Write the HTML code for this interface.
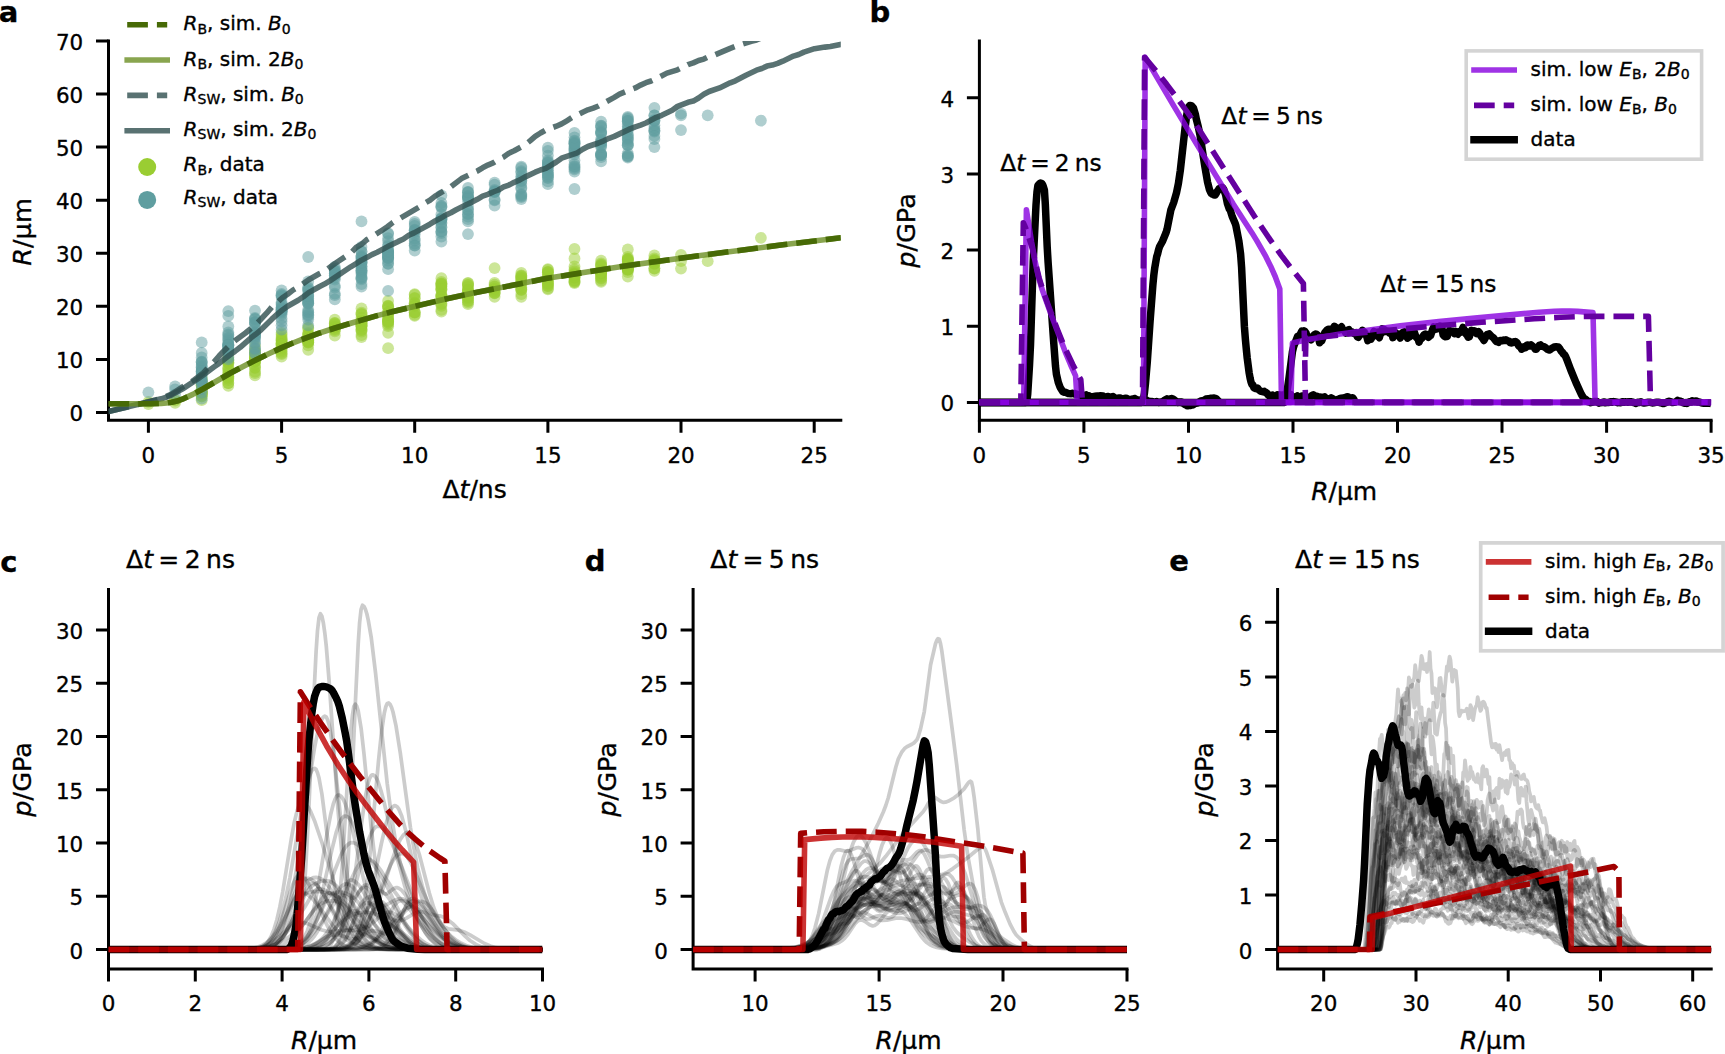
<!DOCTYPE html>
<html lang="en"><head><meta charset="utf-8"><title>Figure</title>
<style>html,body{margin:0;padding:0;background:#fff}svg{display:block}</style></head>
<body>
<svg width="1725" height="1054" viewBox="0 0 1725 1054" font-family='"DejaVu Sans","Liberation Sans",sans-serif' fill="#000">
<rect width="1725" height="1054" fill="#fff"/>
<clipPath id="cpa"><rect x="108.5" y="41" width="732.3" height="379.2"/></clipPath>
<path d="M108.5,41 V420.2 H840.8" fill="none" stroke="#000" stroke-width="3" stroke-linecap="square" stroke-linejoin="miter"/>
<path d="M148.4,420.2v12.5M281.6,420.2v12.5M414.7,420.2v12.5M547.9,420.2v12.5M681,420.2v12.5M814.2,420.2v12.5M108.5,412.4h-12.5M108.5,359.4h-12.5M108.5,306.3h-12.5M108.5,253.2h-12.5M108.5,200.2h-12.5M108.5,147.1h-12.5M108.5,94h-12.5M108.5,41h-12.5" stroke="#000" stroke-width="3" fill="none"/>
<text x="148.4" y="462.8" font-size="21.4" text-anchor="middle" stroke="#000" stroke-width="0.35">0</text>
<text x="281.6" y="462.8" font-size="21.4" text-anchor="middle" stroke="#000" stroke-width="0.35">5</text>
<text x="414.7" y="462.8" font-size="21.4" text-anchor="middle" stroke="#000" stroke-width="0.35">10</text>
<text x="547.9" y="462.8" font-size="21.4" text-anchor="middle" stroke="#000" stroke-width="0.35">15</text>
<text x="681" y="462.8" font-size="21.4" text-anchor="middle" stroke="#000" stroke-width="0.35">20</text>
<text x="814.2" y="462.8" font-size="21.4" text-anchor="middle" stroke="#000" stroke-width="0.35">25</text>
<text x="83.2" y="421.4" font-size="21.4" text-anchor="end" stroke="#000" stroke-width="0.35">0</text>
<text x="83.2" y="368.4" font-size="21.4" text-anchor="end" stroke="#000" stroke-width="0.35">10</text>
<text x="83.2" y="315.3" font-size="21.4" text-anchor="end" stroke="#000" stroke-width="0.35">20</text>
<text x="83.2" y="262.2" font-size="21.4" text-anchor="end" stroke="#000" stroke-width="0.35">30</text>
<text x="83.2" y="209.2" font-size="21.4" text-anchor="end" stroke="#000" stroke-width="0.35">40</text>
<text x="83.2" y="156.1" font-size="21.4" text-anchor="end" stroke="#000" stroke-width="0.35">50</text>
<text x="83.2" y="103" font-size="21.4" text-anchor="end" stroke="#000" stroke-width="0.35">60</text>
<text x="83.2" y="50" font-size="21.4" text-anchor="end" stroke="#000" stroke-width="0.35">70</text>
<text x="474.6" y="497.5" font-size="25" text-anchor="middle" stroke="#000" stroke-width="0.35">Δ<tspan font-style="italic">t</tspan>/ns</text>
<text x="31.2" y="232" font-size="25.6" text-anchor="middle" stroke="#000" stroke-width="0.35" transform="rotate(-90 31.2 232)"><tspan font-style="italic">R</tspan>/µm</text>
<g fill="#9acd32" fill-opacity="0.5" clip-path="url(#cpa)">
<circle cx="148.4" cy="404" r="5.9"/>
<circle cx="148.4" cy="401.8" r="5.9"/>
<circle cx="175.1" cy="402.9" r="5.9"/>
<circle cx="175.1" cy="400.7" r="5.9"/>
<circle cx="175.1" cy="399.7" r="5.9"/>
<circle cx="201.7" cy="400.2" r="5.9"/>
<circle cx="201.7" cy="396.3" r="5.9"/>
<circle cx="201.7" cy="385.4" r="5.9"/>
<circle cx="201.7" cy="385.8" r="5.9"/>
<circle cx="201.7" cy="395.2" r="5.9"/>
<circle cx="201.7" cy="391.5" r="5.9"/>
<circle cx="201.7" cy="384.5" r="5.9"/>
<circle cx="201.7" cy="392.7" r="5.9"/>
<circle cx="201.7" cy="391.3" r="5.9"/>
<circle cx="201.7" cy="379.6" r="5.9"/>
<circle cx="201.7" cy="396.4" r="5.9"/>
<circle cx="201.7" cy="393.7" r="5.9"/>
<circle cx="201.7" cy="393.1" r="5.9"/>
<circle cx="201.7" cy="394" r="5.9"/>
<circle cx="201.7" cy="383.5" r="5.9"/>
<circle cx="201.7" cy="381.7" r="5.9"/>
<circle cx="201.7" cy="381.8" r="5.9"/>
<circle cx="201.7" cy="392.4" r="5.9"/>
<circle cx="201.7" cy="389.5" r="5.9"/>
<circle cx="201.7" cy="378" r="5.9"/>
<circle cx="228.3" cy="385.9" r="5.9"/>
<circle cx="228.3" cy="383" r="5.9"/>
<circle cx="228.3" cy="360.7" r="5.9"/>
<circle cx="228.3" cy="380.1" r="5.9"/>
<circle cx="228.3" cy="375.9" r="5.9"/>
<circle cx="228.3" cy="363.5" r="5.9"/>
<circle cx="228.3" cy="362.5" r="5.9"/>
<circle cx="228.3" cy="362.6" r="5.9"/>
<circle cx="228.3" cy="359.7" r="5.9"/>
<circle cx="228.3" cy="383" r="5.9"/>
<circle cx="228.3" cy="370.1" r="5.9"/>
<circle cx="228.3" cy="373.8" r="5.9"/>
<circle cx="228.3" cy="372.4" r="5.9"/>
<circle cx="228.3" cy="378.3" r="5.9"/>
<circle cx="228.3" cy="367.5" r="5.9"/>
<circle cx="228.3" cy="376.3" r="5.9"/>
<circle cx="228.3" cy="368.5" r="5.9"/>
<circle cx="228.3" cy="377.2" r="5.9"/>
<circle cx="228.3" cy="360.7" r="5.9"/>
<circle cx="228.3" cy="356.7" r="5.9"/>
<circle cx="255" cy="375.3" r="5.9"/>
<circle cx="255" cy="358.5" r="5.9"/>
<circle cx="255" cy="358.6" r="5.9"/>
<circle cx="255" cy="357.2" r="5.9"/>
<circle cx="255" cy="360.1" r="5.9"/>
<circle cx="255" cy="350.6" r="5.9"/>
<circle cx="255" cy="364.8" r="5.9"/>
<circle cx="255" cy="360.7" r="5.9"/>
<circle cx="255" cy="367.5" r="5.9"/>
<circle cx="255" cy="373" r="5.9"/>
<circle cx="255" cy="356.6" r="5.9"/>
<circle cx="255" cy="371.7" r="5.9"/>
<circle cx="255" cy="361.4" r="5.9"/>
<circle cx="255" cy="354.1" r="5.9"/>
<circle cx="255" cy="351.7" r="5.9"/>
<circle cx="255" cy="357.3" r="5.9"/>
<circle cx="255" cy="351.8" r="5.9"/>
<circle cx="255" cy="354.8" r="5.9"/>
<circle cx="255" cy="361.7" r="5.9"/>
<circle cx="255" cy="361.3" r="5.9"/>
<circle cx="255" cy="367.8" r="5.9"/>
<circle cx="255" cy="346.1" r="5.9"/>
<circle cx="281.6" cy="356.7" r="5.9"/>
<circle cx="281.6" cy="338.7" r="5.9"/>
<circle cx="281.6" cy="343.2" r="5.9"/>
<circle cx="281.6" cy="342.6" r="5.9"/>
<circle cx="281.6" cy="345.5" r="5.9"/>
<circle cx="281.6" cy="340.8" r="5.9"/>
<circle cx="281.6" cy="347" r="5.9"/>
<circle cx="281.6" cy="340.7" r="5.9"/>
<circle cx="281.6" cy="354.2" r="5.9"/>
<circle cx="281.6" cy="343.6" r="5.9"/>
<circle cx="281.6" cy="336.9" r="5.9"/>
<circle cx="281.6" cy="353.2" r="5.9"/>
<circle cx="281.6" cy="334.7" r="5.9"/>
<circle cx="281.6" cy="348" r="5.9"/>
<circle cx="281.6" cy="344.6" r="5.9"/>
<circle cx="281.6" cy="339.5" r="5.9"/>
<circle cx="281.6" cy="344.7" r="5.9"/>
<circle cx="281.6" cy="351.6" r="5.9"/>
<circle cx="281.6" cy="349.9" r="5.9"/>
<circle cx="281.6" cy="332.8" r="5.9"/>
<circle cx="308.2" cy="349.8" r="5.9"/>
<circle cx="308.2" cy="335.1" r="5.9"/>
<circle cx="308.2" cy="340.8" r="5.9"/>
<circle cx="308.2" cy="342.1" r="5.9"/>
<circle cx="308.2" cy="338" r="5.9"/>
<circle cx="308.2" cy="342.6" r="5.9"/>
<circle cx="308.2" cy="328.5" r="5.9"/>
<circle cx="308.2" cy="337.7" r="5.9"/>
<circle cx="308.2" cy="345.3" r="5.9"/>
<circle cx="308.2" cy="340.5" r="5.9"/>
<circle cx="308.2" cy="342.3" r="5.9"/>
<circle cx="308.2" cy="339.3" r="5.9"/>
<circle cx="308.2" cy="341.4" r="5.9"/>
<circle cx="308.2" cy="340.4" r="5.9"/>
<circle cx="308.2" cy="334" r="5.9"/>
<circle cx="308.2" cy="333" r="5.9"/>
<circle cx="308.2" cy="334.9" r="5.9"/>
<circle cx="308.2" cy="327.5" r="5.9"/>
<circle cx="334.8" cy="335.5" r="5.9"/>
<circle cx="334.8" cy="323.8" r="5.9"/>
<circle cx="334.8" cy="326.8" r="5.9"/>
<circle cx="334.8" cy="331.3" r="5.9"/>
<circle cx="334.8" cy="329" r="5.9"/>
<circle cx="334.8" cy="323.1" r="5.9"/>
<circle cx="334.8" cy="327.8" r="5.9"/>
<circle cx="334.8" cy="326.6" r="5.9"/>
<circle cx="334.8" cy="325" r="5.9"/>
<circle cx="334.8" cy="322.9" r="5.9"/>
<circle cx="334.8" cy="330" r="5.9"/>
<circle cx="334.8" cy="319.6" r="5.9"/>
<circle cx="361.5" cy="337.1" r="5.9"/>
<circle cx="361.5" cy="321" r="5.9"/>
<circle cx="361.5" cy="326" r="5.9"/>
<circle cx="361.5" cy="321.4" r="5.9"/>
<circle cx="361.5" cy="323.6" r="5.9"/>
<circle cx="361.5" cy="317.7" r="5.9"/>
<circle cx="361.5" cy="313.8" r="5.9"/>
<circle cx="361.5" cy="325.7" r="5.9"/>
<circle cx="361.5" cy="314.5" r="5.9"/>
<circle cx="361.5" cy="330.1" r="5.9"/>
<circle cx="361.5" cy="328.8" r="5.9"/>
<circle cx="361.5" cy="323.5" r="5.9"/>
<circle cx="361.5" cy="326.6" r="5.9"/>
<circle cx="361.5" cy="335" r="5.9"/>
<circle cx="361.5" cy="324.8" r="5.9"/>
<circle cx="361.5" cy="321.2" r="5.9"/>
<circle cx="361.5" cy="329.8" r="5.9"/>
<circle cx="361.5" cy="312.6" r="5.9"/>
<circle cx="361.5" cy="325.7" r="5.9"/>
<circle cx="361.5" cy="331.6" r="5.9"/>
<circle cx="361.5" cy="323.2" r="5.9"/>
<circle cx="361.5" cy="308.4" r="5.9"/>
<circle cx="388.1" cy="332.8" r="5.9"/>
<circle cx="388.1" cy="321.2" r="5.9"/>
<circle cx="388.1" cy="319.6" r="5.9"/>
<circle cx="388.1" cy="306.3" r="5.9"/>
<circle cx="388.1" cy="316" r="5.9"/>
<circle cx="388.1" cy="317" r="5.9"/>
<circle cx="388.1" cy="324.6" r="5.9"/>
<circle cx="388.1" cy="306.2" r="5.9"/>
<circle cx="388.1" cy="312.7" r="5.9"/>
<circle cx="388.1" cy="305.7" r="5.9"/>
<circle cx="388.1" cy="319.7" r="5.9"/>
<circle cx="388.1" cy="326.2" r="5.9"/>
<circle cx="388.1" cy="322.9" r="5.9"/>
<circle cx="388.1" cy="320.8" r="5.9"/>
<circle cx="388.1" cy="322.4" r="5.9"/>
<circle cx="388.1" cy="321" r="5.9"/>
<circle cx="388.1" cy="314.3" r="5.9"/>
<circle cx="388.1" cy="308.2" r="5.9"/>
<circle cx="388.1" cy="312.4" r="5.9"/>
<circle cx="388.1" cy="301" r="5.9"/>
<circle cx="388.1" cy="348.2" r="5.9"/>
<circle cx="414.7" cy="315.9" r="5.9"/>
<circle cx="414.7" cy="303.5" r="5.9"/>
<circle cx="414.7" cy="305.8" r="5.9"/>
<circle cx="414.7" cy="312.6" r="5.9"/>
<circle cx="414.7" cy="305.4" r="5.9"/>
<circle cx="414.7" cy="312.4" r="5.9"/>
<circle cx="414.7" cy="312" r="5.9"/>
<circle cx="414.7" cy="303.6" r="5.9"/>
<circle cx="414.7" cy="297.9" r="5.9"/>
<circle cx="414.7" cy="302.7" r="5.9"/>
<circle cx="414.7" cy="298.4" r="5.9"/>
<circle cx="414.7" cy="314.8" r="5.9"/>
<circle cx="414.7" cy="294.8" r="5.9"/>
<circle cx="414.7" cy="294.1" r="5.9"/>
<circle cx="441.4" cy="311.6" r="5.9"/>
<circle cx="441.4" cy="283.8" r="5.9"/>
<circle cx="441.4" cy="286.3" r="5.9"/>
<circle cx="441.4" cy="305.8" r="5.9"/>
<circle cx="441.4" cy="284.9" r="5.9"/>
<circle cx="441.4" cy="303.4" r="5.9"/>
<circle cx="441.4" cy="296.4" r="5.9"/>
<circle cx="441.4" cy="295.9" r="5.9"/>
<circle cx="441.4" cy="289.4" r="5.9"/>
<circle cx="441.4" cy="289.1" r="5.9"/>
<circle cx="441.4" cy="304.1" r="5.9"/>
<circle cx="441.4" cy="289.9" r="5.9"/>
<circle cx="441.4" cy="282" r="5.9"/>
<circle cx="441.4" cy="283.4" r="5.9"/>
<circle cx="441.4" cy="287.7" r="5.9"/>
<circle cx="441.4" cy="295.2" r="5.9"/>
<circle cx="441.4" cy="284.1" r="5.9"/>
<circle cx="441.4" cy="294.3" r="5.9"/>
<circle cx="441.4" cy="309.9" r="5.9"/>
<circle cx="441.4" cy="297.2" r="5.9"/>
<circle cx="441.4" cy="299.9" r="5.9"/>
<circle cx="441.4" cy="278.2" r="5.9"/>
<circle cx="468" cy="304.2" r="5.9"/>
<circle cx="468" cy="289.6" r="5.9"/>
<circle cx="468" cy="296.2" r="5.9"/>
<circle cx="468" cy="286.8" r="5.9"/>
<circle cx="468" cy="291.9" r="5.9"/>
<circle cx="468" cy="290.3" r="5.9"/>
<circle cx="468" cy="291.6" r="5.9"/>
<circle cx="468" cy="285.1" r="5.9"/>
<circle cx="468" cy="297.7" r="5.9"/>
<circle cx="468" cy="284.9" r="5.9"/>
<circle cx="468" cy="302.6" r="5.9"/>
<circle cx="468" cy="300.6" r="5.9"/>
<circle cx="468" cy="289.7" r="5.9"/>
<circle cx="468" cy="298.5" r="5.9"/>
<circle cx="468" cy="301.1" r="5.9"/>
<circle cx="468" cy="296.7" r="5.9"/>
<circle cx="468" cy="283.5" r="5.9"/>
<circle cx="468" cy="283" r="5.9"/>
<circle cx="494.6" cy="296.8" r="5.9"/>
<circle cx="494.6" cy="292.9" r="5.9"/>
<circle cx="494.6" cy="289.8" r="5.9"/>
<circle cx="494.6" cy="286.4" r="5.9"/>
<circle cx="494.6" cy="284.7" r="5.9"/>
<circle cx="494.6" cy="288.9" r="5.9"/>
<circle cx="494.6" cy="291.3" r="5.9"/>
<circle cx="494.6" cy="288.6" r="5.9"/>
<circle cx="494.6" cy="292.8" r="5.9"/>
<circle cx="494.6" cy="293.4" r="5.9"/>
<circle cx="494.6" cy="286.9" r="5.9"/>
<circle cx="494.6" cy="283" r="5.9"/>
<circle cx="494.6" cy="268.1" r="5.9"/>
<circle cx="521.3" cy="296.8" r="5.9"/>
<circle cx="521.3" cy="277.8" r="5.9"/>
<circle cx="521.3" cy="289.1" r="5.9"/>
<circle cx="521.3" cy="289.8" r="5.9"/>
<circle cx="521.3" cy="294.1" r="5.9"/>
<circle cx="521.3" cy="289.9" r="5.9"/>
<circle cx="521.3" cy="276.6" r="5.9"/>
<circle cx="521.3" cy="279.9" r="5.9"/>
<circle cx="521.3" cy="278.1" r="5.9"/>
<circle cx="521.3" cy="282.6" r="5.9"/>
<circle cx="521.3" cy="280.2" r="5.9"/>
<circle cx="521.3" cy="275.5" r="5.9"/>
<circle cx="521.3" cy="284.8" r="5.9"/>
<circle cx="521.3" cy="287.5" r="5.9"/>
<circle cx="521.3" cy="275.9" r="5.9"/>
<circle cx="521.3" cy="272.9" r="5.9"/>
<circle cx="547.9" cy="289.3" r="5.9"/>
<circle cx="547.9" cy="285.8" r="5.9"/>
<circle cx="547.9" cy="281.1" r="5.9"/>
<circle cx="547.9" cy="272.3" r="5.9"/>
<circle cx="547.9" cy="272" r="5.9"/>
<circle cx="547.9" cy="278.4" r="5.9"/>
<circle cx="547.9" cy="277.1" r="5.9"/>
<circle cx="547.9" cy="272.2" r="5.9"/>
<circle cx="547.9" cy="283.4" r="5.9"/>
<circle cx="547.9" cy="281.2" r="5.9"/>
<circle cx="547.9" cy="269.8" r="5.9"/>
<circle cx="547.9" cy="284.5" r="5.9"/>
<circle cx="547.9" cy="283.2" r="5.9"/>
<circle cx="547.9" cy="276.9" r="5.9"/>
<circle cx="547.9" cy="274.2" r="5.9"/>
<circle cx="547.9" cy="288.4" r="5.9"/>
<circle cx="547.9" cy="286.1" r="5.9"/>
<circle cx="547.9" cy="269.2" r="5.9"/>
<circle cx="574.5" cy="283" r="5.9"/>
<circle cx="574.5" cy="278.1" r="5.9"/>
<circle cx="574.5" cy="281.9" r="5.9"/>
<circle cx="574.5" cy="269.4" r="5.9"/>
<circle cx="574.5" cy="274.8" r="5.9"/>
<circle cx="574.5" cy="280.8" r="5.9"/>
<circle cx="574.5" cy="272.8" r="5.9"/>
<circle cx="574.5" cy="274.3" r="5.9"/>
<circle cx="574.5" cy="273.9" r="5.9"/>
<circle cx="574.5" cy="277.3" r="5.9"/>
<circle cx="574.5" cy="282" r="5.9"/>
<circle cx="574.5" cy="276.2" r="5.9"/>
<circle cx="574.5" cy="275.1" r="5.9"/>
<circle cx="574.5" cy="280.1" r="5.9"/>
<circle cx="574.5" cy="271.5" r="5.9"/>
<circle cx="574.5" cy="274.7" r="5.9"/>
<circle cx="574.5" cy="277.1" r="5.9"/>
<circle cx="574.5" cy="266.5" r="5.9"/>
<circle cx="574.5" cy="258.5" r="5.9"/>
<circle cx="574.5" cy="249" r="5.9"/>
<circle cx="601.1" cy="281.9" r="5.9"/>
<circle cx="601.1" cy="265.2" r="5.9"/>
<circle cx="601.1" cy="273" r="5.9"/>
<circle cx="601.1" cy="263.5" r="5.9"/>
<circle cx="601.1" cy="275.9" r="5.9"/>
<circle cx="601.1" cy="270.3" r="5.9"/>
<circle cx="601.1" cy="280.5" r="5.9"/>
<circle cx="601.1" cy="272.6" r="5.9"/>
<circle cx="601.1" cy="276.7" r="5.9"/>
<circle cx="601.1" cy="277.9" r="5.9"/>
<circle cx="601.1" cy="278.7" r="5.9"/>
<circle cx="601.1" cy="272.3" r="5.9"/>
<circle cx="601.1" cy="264.7" r="5.9"/>
<circle cx="601.1" cy="273.4" r="5.9"/>
<circle cx="601.1" cy="266.5" r="5.9"/>
<circle cx="601.1" cy="273.2" r="5.9"/>
<circle cx="601.1" cy="272.5" r="5.9"/>
<circle cx="601.1" cy="260.7" r="5.9"/>
<circle cx="627.8" cy="276.6" r="5.9"/>
<circle cx="627.8" cy="267.9" r="5.9"/>
<circle cx="627.8" cy="267.7" r="5.9"/>
<circle cx="627.8" cy="261.2" r="5.9"/>
<circle cx="627.8" cy="263.1" r="5.9"/>
<circle cx="627.8" cy="264.1" r="5.9"/>
<circle cx="627.8" cy="260.6" r="5.9"/>
<circle cx="627.8" cy="272.1" r="5.9"/>
<circle cx="627.8" cy="259.5" r="5.9"/>
<circle cx="627.8" cy="270.2" r="5.9"/>
<circle cx="627.8" cy="267" r="5.9"/>
<circle cx="627.8" cy="269.4" r="5.9"/>
<circle cx="627.8" cy="260" r="5.9"/>
<circle cx="627.8" cy="268.3" r="5.9"/>
<circle cx="627.8" cy="258.9" r="5.9"/>
<circle cx="627.8" cy="269" r="5.9"/>
<circle cx="627.8" cy="269.3" r="5.9"/>
<circle cx="627.8" cy="269" r="5.9"/>
<circle cx="627.8" cy="258.7" r="5.9"/>
<circle cx="627.8" cy="257" r="5.9"/>
<circle cx="627.8" cy="249.5" r="5.9"/>
<circle cx="654.4" cy="270.8" r="5.9"/>
<circle cx="654.4" cy="268.3" r="5.9"/>
<circle cx="654.4" cy="263.9" r="5.9"/>
<circle cx="654.4" cy="258.4" r="5.9"/>
<circle cx="654.4" cy="263.7" r="5.9"/>
<circle cx="654.4" cy="260.5" r="5.9"/>
<circle cx="654.4" cy="261.4" r="5.9"/>
<circle cx="654.4" cy="268.5" r="5.9"/>
<circle cx="654.4" cy="261" r="5.9"/>
<circle cx="654.4" cy="260" r="5.9"/>
<circle cx="654.4" cy="262.9" r="5.9"/>
<circle cx="654.4" cy="255.4" r="5.9"/>
<circle cx="681" cy="254.8" r="5.9"/>
<circle cx="681" cy="261.2" r="5.9"/>
<circle cx="681" cy="268.6" r="5.9"/>
<circle cx="707.7" cy="261.2" r="5.9"/>
<circle cx="760.9" cy="237.8" r="5.9"/>
</g>
<g fill="#5f9ea0" fill-opacity="0.5" clip-path="url(#cpa)">
<circle cx="148.4" cy="392.3" r="5.9"/>
<circle cx="175.1" cy="394.4" r="5.9"/>
<circle cx="175.1" cy="389.5" r="5.9"/>
<circle cx="175.1" cy="386.4" r="5.9"/>
<circle cx="201.7" cy="398.7" r="5.9"/>
<circle cx="201.7" cy="370.9" r="5.9"/>
<circle cx="201.7" cy="384.9" r="5.9"/>
<circle cx="201.7" cy="361.6" r="5.9"/>
<circle cx="201.7" cy="371" r="5.9"/>
<circle cx="201.7" cy="365" r="5.9"/>
<circle cx="201.7" cy="371.7" r="5.9"/>
<circle cx="201.7" cy="381.7" r="5.9"/>
<circle cx="201.7" cy="368.9" r="5.9"/>
<circle cx="201.7" cy="361.9" r="5.9"/>
<circle cx="201.7" cy="380.5" r="5.9"/>
<circle cx="201.7" cy="357.5" r="5.9"/>
<circle cx="201.7" cy="377.6" r="5.9"/>
<circle cx="201.7" cy="374.1" r="5.9"/>
<circle cx="201.7" cy="382.7" r="5.9"/>
<circle cx="201.7" cy="392.5" r="5.9"/>
<circle cx="201.7" cy="375.1" r="5.9"/>
<circle cx="201.7" cy="367.3" r="5.9"/>
<circle cx="201.7" cy="380.2" r="5.9"/>
<circle cx="201.7" cy="389.2" r="5.9"/>
<circle cx="201.7" cy="382.1" r="5.9"/>
<circle cx="201.7" cy="366.7" r="5.9"/>
<circle cx="201.7" cy="362.6" r="5.9"/>
<circle cx="201.7" cy="371.4" r="5.9"/>
<circle cx="201.7" cy="372.9" r="5.9"/>
<circle cx="201.7" cy="353" r="5.9"/>
<circle cx="201.7" cy="342.4" r="5.9"/>
<circle cx="228.3" cy="359.4" r="5.9"/>
<circle cx="228.3" cy="334.4" r="5.9"/>
<circle cx="228.3" cy="345" r="5.9"/>
<circle cx="228.3" cy="350.4" r="5.9"/>
<circle cx="228.3" cy="351.9" r="5.9"/>
<circle cx="228.3" cy="338.9" r="5.9"/>
<circle cx="228.3" cy="352.6" r="5.9"/>
<circle cx="228.3" cy="342.9" r="5.9"/>
<circle cx="228.3" cy="347.9" r="5.9"/>
<circle cx="228.3" cy="340.8" r="5.9"/>
<circle cx="228.3" cy="337.7" r="5.9"/>
<circle cx="228.3" cy="332.5" r="5.9"/>
<circle cx="228.3" cy="335.5" r="5.9"/>
<circle cx="228.3" cy="346.8" r="5.9"/>
<circle cx="228.3" cy="344.6" r="5.9"/>
<circle cx="228.3" cy="344.9" r="5.9"/>
<circle cx="228.3" cy="345.2" r="5.9"/>
<circle cx="228.3" cy="345.5" r="5.9"/>
<circle cx="228.3" cy="349.5" r="5.9"/>
<circle cx="228.3" cy="347.8" r="5.9"/>
<circle cx="228.3" cy="357.5" r="5.9"/>
<circle cx="228.3" cy="326.5" r="5.9"/>
<circle cx="228.3" cy="315.9" r="5.9"/>
<circle cx="228.3" cy="311.1" r="5.9"/>
<circle cx="255" cy="354.1" r="5.9"/>
<circle cx="255" cy="339" r="5.9"/>
<circle cx="255" cy="332.7" r="5.9"/>
<circle cx="255" cy="335.2" r="5.9"/>
<circle cx="255" cy="317.9" r="5.9"/>
<circle cx="255" cy="319" r="5.9"/>
<circle cx="255" cy="348.2" r="5.9"/>
<circle cx="255" cy="322.8" r="5.9"/>
<circle cx="255" cy="349" r="5.9"/>
<circle cx="255" cy="336.4" r="5.9"/>
<circle cx="255" cy="332.2" r="5.9"/>
<circle cx="255" cy="324.3" r="5.9"/>
<circle cx="255" cy="352.6" r="5.9"/>
<circle cx="255" cy="337.5" r="5.9"/>
<circle cx="255" cy="319.1" r="5.9"/>
<circle cx="255" cy="321.9" r="5.9"/>
<circle cx="255" cy="332.6" r="5.9"/>
<circle cx="255" cy="343.7" r="5.9"/>
<circle cx="255" cy="322.5" r="5.9"/>
<circle cx="255" cy="333.3" r="5.9"/>
<circle cx="255" cy="329.2" r="5.9"/>
<circle cx="255" cy="334.3" r="5.9"/>
<circle cx="255" cy="342.1" r="5.9"/>
<circle cx="255" cy="310.6" r="5.9"/>
<circle cx="281.6" cy="329.7" r="5.9"/>
<circle cx="281.6" cy="311.2" r="5.9"/>
<circle cx="281.6" cy="302.2" r="5.9"/>
<circle cx="281.6" cy="310" r="5.9"/>
<circle cx="281.6" cy="307.8" r="5.9"/>
<circle cx="281.6" cy="321.4" r="5.9"/>
<circle cx="281.6" cy="318.4" r="5.9"/>
<circle cx="281.6" cy="295.2" r="5.9"/>
<circle cx="281.6" cy="310.7" r="5.9"/>
<circle cx="281.6" cy="308.9" r="5.9"/>
<circle cx="281.6" cy="295.4" r="5.9"/>
<circle cx="281.6" cy="304.9" r="5.9"/>
<circle cx="281.6" cy="325.3" r="5.9"/>
<circle cx="281.6" cy="296.9" r="5.9"/>
<circle cx="281.6" cy="314.6" r="5.9"/>
<circle cx="281.6" cy="312.8" r="5.9"/>
<circle cx="281.6" cy="293.9" r="5.9"/>
<circle cx="281.6" cy="303.8" r="5.9"/>
<circle cx="281.6" cy="309.4" r="5.9"/>
<circle cx="281.6" cy="311.5" r="5.9"/>
<circle cx="281.6" cy="307.2" r="5.9"/>
<circle cx="281.6" cy="290.4" r="5.9"/>
<circle cx="308.2" cy="316.9" r="5.9"/>
<circle cx="308.2" cy="289.8" r="5.9"/>
<circle cx="308.2" cy="290.7" r="5.9"/>
<circle cx="308.2" cy="294.7" r="5.9"/>
<circle cx="308.2" cy="312.4" r="5.9"/>
<circle cx="308.2" cy="302.7" r="5.9"/>
<circle cx="308.2" cy="300.1" r="5.9"/>
<circle cx="308.2" cy="298.5" r="5.9"/>
<circle cx="308.2" cy="303.3" r="5.9"/>
<circle cx="308.2" cy="303.8" r="5.9"/>
<circle cx="308.2" cy="311.9" r="5.9"/>
<circle cx="308.2" cy="315.3" r="5.9"/>
<circle cx="308.2" cy="314.5" r="5.9"/>
<circle cx="308.2" cy="301" r="5.9"/>
<circle cx="308.2" cy="288.4" r="5.9"/>
<circle cx="308.2" cy="302.8" r="5.9"/>
<circle cx="308.2" cy="295.7" r="5.9"/>
<circle cx="308.2" cy="309.6" r="5.9"/>
<circle cx="308.2" cy="296" r="5.9"/>
<circle cx="308.2" cy="287.2" r="5.9"/>
<circle cx="308.2" cy="281.4" r="5.9"/>
<circle cx="308.2" cy="257" r="5.9"/>
<circle cx="308.2" cy="325.4" r="5.9"/>
<circle cx="308.2" cy="319.6" r="5.9"/>
<circle cx="334.8" cy="299.4" r="5.9"/>
<circle cx="334.8" cy="285.8" r="5.9"/>
<circle cx="334.8" cy="271.7" r="5.9"/>
<circle cx="334.8" cy="275.3" r="5.9"/>
<circle cx="334.8" cy="293.7" r="5.9"/>
<circle cx="334.8" cy="273.6" r="5.9"/>
<circle cx="334.8" cy="271" r="5.9"/>
<circle cx="334.8" cy="279.6" r="5.9"/>
<circle cx="334.8" cy="273.5" r="5.9"/>
<circle cx="334.8" cy="270.5" r="5.9"/>
<circle cx="334.8" cy="287.5" r="5.9"/>
<circle cx="334.8" cy="275.8" r="5.9"/>
<circle cx="334.8" cy="277.9" r="5.9"/>
<circle cx="334.8" cy="295.2" r="5.9"/>
<circle cx="334.8" cy="268.6" r="5.9"/>
<circle cx="334.8" cy="267" r="5.9"/>
<circle cx="361.5" cy="286.7" r="5.9"/>
<circle cx="361.5" cy="270.5" r="5.9"/>
<circle cx="361.5" cy="278.2" r="5.9"/>
<circle cx="361.5" cy="274.1" r="5.9"/>
<circle cx="361.5" cy="266.2" r="5.9"/>
<circle cx="361.5" cy="266.4" r="5.9"/>
<circle cx="361.5" cy="279.3" r="5.9"/>
<circle cx="361.5" cy="257.1" r="5.9"/>
<circle cx="361.5" cy="255.7" r="5.9"/>
<circle cx="361.5" cy="262.9" r="5.9"/>
<circle cx="361.5" cy="257" r="5.9"/>
<circle cx="361.5" cy="270.9" r="5.9"/>
<circle cx="361.5" cy="272.5" r="5.9"/>
<circle cx="361.5" cy="270.4" r="5.9"/>
<circle cx="361.5" cy="261.4" r="5.9"/>
<circle cx="361.5" cy="276.7" r="5.9"/>
<circle cx="361.5" cy="260.1" r="5.9"/>
<circle cx="361.5" cy="251.4" r="5.9"/>
<circle cx="361.5" cy="268.3" r="5.9"/>
<circle cx="361.5" cy="251.7" r="5.9"/>
<circle cx="361.5" cy="262.8" r="5.9"/>
<circle cx="361.5" cy="284.1" r="5.9"/>
<circle cx="361.5" cy="262.5" r="5.9"/>
<circle cx="361.5" cy="258.3" r="5.9"/>
<circle cx="361.5" cy="277.8" r="5.9"/>
<circle cx="361.5" cy="246.9" r="5.9"/>
<circle cx="361.5" cy="221.4" r="5.9"/>
<circle cx="388.1" cy="269.2" r="5.9"/>
<circle cx="388.1" cy="252.4" r="5.9"/>
<circle cx="388.1" cy="249.6" r="5.9"/>
<circle cx="388.1" cy="241.1" r="5.9"/>
<circle cx="388.1" cy="251.9" r="5.9"/>
<circle cx="388.1" cy="252.6" r="5.9"/>
<circle cx="388.1" cy="244.8" r="5.9"/>
<circle cx="388.1" cy="258.3" r="5.9"/>
<circle cx="388.1" cy="263.9" r="5.9"/>
<circle cx="388.1" cy="255.3" r="5.9"/>
<circle cx="388.1" cy="251.1" r="5.9"/>
<circle cx="388.1" cy="256.7" r="5.9"/>
<circle cx="388.1" cy="257.5" r="5.9"/>
<circle cx="388.1" cy="253.5" r="5.9"/>
<circle cx="388.1" cy="238.2" r="5.9"/>
<circle cx="388.1" cy="257.6" r="5.9"/>
<circle cx="388.1" cy="246.3" r="5.9"/>
<circle cx="388.1" cy="260.7" r="5.9"/>
<circle cx="388.1" cy="257.8" r="5.9"/>
<circle cx="388.1" cy="233.8" r="5.9"/>
<circle cx="388.1" cy="263.5" r="5.9"/>
<circle cx="388.1" cy="254.4" r="5.9"/>
<circle cx="388.1" cy="250.9" r="5.9"/>
<circle cx="388.1" cy="233.1" r="5.9"/>
<circle cx="388.1" cy="290.9" r="5.9"/>
<circle cx="414.7" cy="250.6" r="5.9"/>
<circle cx="414.7" cy="224" r="5.9"/>
<circle cx="414.7" cy="229.7" r="5.9"/>
<circle cx="414.7" cy="225.9" r="5.9"/>
<circle cx="414.7" cy="238.7" r="5.9"/>
<circle cx="414.7" cy="240.5" r="5.9"/>
<circle cx="414.7" cy="230.3" r="5.9"/>
<circle cx="414.7" cy="245.3" r="5.9"/>
<circle cx="414.7" cy="232.1" r="5.9"/>
<circle cx="414.7" cy="230.3" r="5.9"/>
<circle cx="414.7" cy="243.5" r="5.9"/>
<circle cx="414.7" cy="245.7" r="5.9"/>
<circle cx="414.7" cy="234.6" r="5.9"/>
<circle cx="414.7" cy="221.9" r="5.9"/>
<circle cx="441.4" cy="241.6" r="5.9"/>
<circle cx="441.4" cy="207.3" r="5.9"/>
<circle cx="441.4" cy="218.6" r="5.9"/>
<circle cx="441.4" cy="206" r="5.9"/>
<circle cx="441.4" cy="218.9" r="5.9"/>
<circle cx="441.4" cy="223.6" r="5.9"/>
<circle cx="441.4" cy="236.5" r="5.9"/>
<circle cx="441.4" cy="219.5" r="5.9"/>
<circle cx="441.4" cy="214.4" r="5.9"/>
<circle cx="441.4" cy="231.4" r="5.9"/>
<circle cx="441.4" cy="219.9" r="5.9"/>
<circle cx="441.4" cy="227" r="5.9"/>
<circle cx="441.4" cy="217.9" r="5.9"/>
<circle cx="441.4" cy="231.7" r="5.9"/>
<circle cx="441.4" cy="233" r="5.9"/>
<circle cx="441.4" cy="206.5" r="5.9"/>
<circle cx="441.4" cy="202.9" r="5.9"/>
<circle cx="441.4" cy="222.6" r="5.9"/>
<circle cx="441.4" cy="227.5" r="5.9"/>
<circle cx="441.4" cy="195.4" r="5.9"/>
<circle cx="468" cy="221.4" r="5.9"/>
<circle cx="468" cy="213.8" r="5.9"/>
<circle cx="468" cy="196" r="5.9"/>
<circle cx="468" cy="198" r="5.9"/>
<circle cx="468" cy="197.5" r="5.9"/>
<circle cx="468" cy="210" r="5.9"/>
<circle cx="468" cy="197.9" r="5.9"/>
<circle cx="468" cy="196.3" r="5.9"/>
<circle cx="468" cy="214.2" r="5.9"/>
<circle cx="468" cy="201.3" r="5.9"/>
<circle cx="468" cy="206.3" r="5.9"/>
<circle cx="468" cy="192.2" r="5.9"/>
<circle cx="468" cy="191.9" r="5.9"/>
<circle cx="468" cy="219.2" r="5.9"/>
<circle cx="468" cy="192.3" r="5.9"/>
<circle cx="468" cy="216.5" r="5.9"/>
<circle cx="468" cy="209.6" r="5.9"/>
<circle cx="468" cy="188" r="5.9"/>
<circle cx="468" cy="234.1" r="5.9"/>
<circle cx="494.6" cy="205.5" r="5.9"/>
<circle cx="494.6" cy="190.9" r="5.9"/>
<circle cx="494.6" cy="199.5" r="5.9"/>
<circle cx="494.6" cy="191.6" r="5.9"/>
<circle cx="494.6" cy="184.7" r="5.9"/>
<circle cx="494.6" cy="192.2" r="5.9"/>
<circle cx="494.6" cy="200.3" r="5.9"/>
<circle cx="494.6" cy="191.8" r="5.9"/>
<circle cx="494.6" cy="189.8" r="5.9"/>
<circle cx="494.6" cy="182.7" r="5.9"/>
<circle cx="521.3" cy="199.1" r="5.9"/>
<circle cx="521.3" cy="197.1" r="5.9"/>
<circle cx="521.3" cy="194.1" r="5.9"/>
<circle cx="521.3" cy="183.9" r="5.9"/>
<circle cx="521.3" cy="188.6" r="5.9"/>
<circle cx="521.3" cy="178.2" r="5.9"/>
<circle cx="521.3" cy="196.1" r="5.9"/>
<circle cx="521.3" cy="172.5" r="5.9"/>
<circle cx="521.3" cy="168" r="5.9"/>
<circle cx="521.3" cy="171.2" r="5.9"/>
<circle cx="521.3" cy="176.2" r="5.9"/>
<circle cx="521.3" cy="187.5" r="5.9"/>
<circle cx="521.3" cy="195" r="5.9"/>
<circle cx="521.3" cy="180.5" r="5.9"/>
<circle cx="521.3" cy="181" r="5.9"/>
<circle cx="521.3" cy="166.7" r="5.9"/>
<circle cx="547.9" cy="184.2" r="5.9"/>
<circle cx="547.9" cy="178" r="5.9"/>
<circle cx="547.9" cy="161.7" r="5.9"/>
<circle cx="547.9" cy="166.1" r="5.9"/>
<circle cx="547.9" cy="165.7" r="5.9"/>
<circle cx="547.9" cy="168.5" r="5.9"/>
<circle cx="547.9" cy="170.3" r="5.9"/>
<circle cx="547.9" cy="165.1" r="5.9"/>
<circle cx="547.9" cy="162.9" r="5.9"/>
<circle cx="547.9" cy="172.5" r="5.9"/>
<circle cx="547.9" cy="160.3" r="5.9"/>
<circle cx="547.9" cy="174.7" r="5.9"/>
<circle cx="547.9" cy="150.8" r="5.9"/>
<circle cx="547.9" cy="155.6" r="5.9"/>
<circle cx="547.9" cy="177.5" r="5.9"/>
<circle cx="547.9" cy="162.8" r="5.9"/>
<circle cx="547.9" cy="181.4" r="5.9"/>
<circle cx="547.9" cy="173.9" r="5.9"/>
<circle cx="547.9" cy="176" r="5.9"/>
<circle cx="547.9" cy="147.6" r="5.9"/>
<circle cx="574.5" cy="171.5" r="5.9"/>
<circle cx="574.5" cy="142.7" r="5.9"/>
<circle cx="574.5" cy="140.7" r="5.9"/>
<circle cx="574.5" cy="152.2" r="5.9"/>
<circle cx="574.5" cy="166.9" r="5.9"/>
<circle cx="574.5" cy="141.5" r="5.9"/>
<circle cx="574.5" cy="154.3" r="5.9"/>
<circle cx="574.5" cy="149.8" r="5.9"/>
<circle cx="574.5" cy="150.5" r="5.9"/>
<circle cx="574.5" cy="147.7" r="5.9"/>
<circle cx="574.5" cy="144" r="5.9"/>
<circle cx="574.5" cy="148.8" r="5.9"/>
<circle cx="574.5" cy="146.5" r="5.9"/>
<circle cx="574.5" cy="143.2" r="5.9"/>
<circle cx="574.5" cy="160.3" r="5.9"/>
<circle cx="574.5" cy="144.1" r="5.9"/>
<circle cx="574.5" cy="137.3" r="5.9"/>
<circle cx="574.5" cy="169.4" r="5.9"/>
<circle cx="574.5" cy="168.1" r="5.9"/>
<circle cx="574.5" cy="166.1" r="5.9"/>
<circle cx="574.5" cy="164.2" r="5.9"/>
<circle cx="574.5" cy="132.8" r="5.9"/>
<circle cx="574.5" cy="189" r="5.9"/>
<circle cx="601.1" cy="161.4" r="5.9"/>
<circle cx="601.1" cy="153.8" r="5.9"/>
<circle cx="601.1" cy="157.2" r="5.9"/>
<circle cx="601.1" cy="155.1" r="5.9"/>
<circle cx="601.1" cy="155" r="5.9"/>
<circle cx="601.1" cy="142.5" r="5.9"/>
<circle cx="601.1" cy="125.7" r="5.9"/>
<circle cx="601.1" cy="145.3" r="5.9"/>
<circle cx="601.1" cy="154.7" r="5.9"/>
<circle cx="601.1" cy="153.5" r="5.9"/>
<circle cx="601.1" cy="145.1" r="5.9"/>
<circle cx="601.1" cy="142.8" r="5.9"/>
<circle cx="601.1" cy="139.3" r="5.9"/>
<circle cx="601.1" cy="147" r="5.9"/>
<circle cx="601.1" cy="131.2" r="5.9"/>
<circle cx="601.1" cy="133.6" r="5.9"/>
<circle cx="601.1" cy="132.8" r="5.9"/>
<circle cx="601.1" cy="125.9" r="5.9"/>
<circle cx="601.1" cy="132.4" r="5.9"/>
<circle cx="601.1" cy="127.2" r="5.9"/>
<circle cx="601.1" cy="141.5" r="5.9"/>
<circle cx="601.1" cy="121.6" r="5.9"/>
<circle cx="627.8" cy="157.7" r="5.9"/>
<circle cx="627.8" cy="121.2" r="5.9"/>
<circle cx="627.8" cy="124.8" r="5.9"/>
<circle cx="627.8" cy="156.1" r="5.9"/>
<circle cx="627.8" cy="119" r="5.9"/>
<circle cx="627.8" cy="128.8" r="5.9"/>
<circle cx="627.8" cy="145.2" r="5.9"/>
<circle cx="627.8" cy="153.3" r="5.9"/>
<circle cx="627.8" cy="156.6" r="5.9"/>
<circle cx="627.8" cy="139.8" r="5.9"/>
<circle cx="627.8" cy="144.5" r="5.9"/>
<circle cx="627.8" cy="135.2" r="5.9"/>
<circle cx="627.8" cy="134.6" r="5.9"/>
<circle cx="627.8" cy="138.4" r="5.9"/>
<circle cx="627.8" cy="142" r="5.9"/>
<circle cx="627.8" cy="137.6" r="5.9"/>
<circle cx="627.8" cy="117.9" r="5.9"/>
<circle cx="627.8" cy="145.2" r="5.9"/>
<circle cx="627.8" cy="155.5" r="5.9"/>
<circle cx="627.8" cy="126.6" r="5.9"/>
<circle cx="627.8" cy="121" r="5.9"/>
<circle cx="627.8" cy="130.4" r="5.9"/>
<circle cx="627.8" cy="121" r="5.9"/>
<circle cx="627.8" cy="116.9" r="5.9"/>
<circle cx="654.4" cy="139.1" r="5.9"/>
<circle cx="654.4" cy="131.6" r="5.9"/>
<circle cx="654.4" cy="120" r="5.9"/>
<circle cx="654.4" cy="128.2" r="5.9"/>
<circle cx="654.4" cy="130.6" r="5.9"/>
<circle cx="654.4" cy="130.4" r="5.9"/>
<circle cx="654.4" cy="120.6" r="5.9"/>
<circle cx="654.4" cy="120.9" r="5.9"/>
<circle cx="654.4" cy="135.9" r="5.9"/>
<circle cx="654.4" cy="115.5" r="5.9"/>
<circle cx="654.4" cy="125.2" r="5.9"/>
<circle cx="654.4" cy="115.3" r="5.9"/>
<circle cx="654.4" cy="147.1" r="5.9"/>
<circle cx="654.4" cy="107.8" r="5.9"/>
<circle cx="681" cy="115.3" r="5.9"/>
<circle cx="681" cy="113.7" r="5.9"/>
<circle cx="681" cy="130.1" r="5.9"/>
<circle cx="707.7" cy="115.3" r="5.9"/>
<circle cx="760.9" cy="120.6" r="5.9"/>
</g>
<path d="M108.5,411.4 119,409.1 134.8,405.3 155.9,399.9 161.2,398.3 166.5,396.4 171.7,394 187.5,383.9 192.8,380.9 203.3,372.9 208.6,367.3 213.9,362.1 219.1,356 224.4,350.4 229.7,345.2 234.9,340.8 245.5,333 256,324.4 266.6,313.2 271.8,307.1 277.1,302.7 282.4,297.7 287.6,294.2 292.9,290.1 298.2,287.1 303.4,283.5 308.7,279.7 319.2,273.8 324.5,271.3 335,263.5 350.8,253 356.1,247.5 361.4,244.3 366.6,239.8 371.9,236.8 382.5,230 387.7,226.5 393,222.4 419.3,207.1 424.6,203.2 429.9,200.2 435.1,196.1 450.9,186.8 461.5,178.6 472,173.4 477.3,171 482.6,167.8 487.8,165.1 493.1,162.9 498.4,159.6 503.6,157.1 508.9,153.2 514.2,150.8 524.7,145 530,140.9 535.2,136.4 540.5,133 545.8,130 556.3,126.2 561.6,123.9 566.8,120.8 572.1,117.5 582.7,112.2 587.9,109.8 593.2,108.1 598.5,106 614.3,97.4 619.5,94.2 630.1,89.8 635.3,87.9 640.6,85.1 645.9,82.7 651.1,81 656.4,78.7 666.9,73.1 677.5,69.8 688,64.6 693.3,62.9 698.6,60.5 703.8,59.1 709.1,56.5 714.4,55.1 730.2,48.4 735.4,46.4 751.2,41.4 756.5,40 761.8,37.7 767,34.5 772.3,32.2 788.1,26.8 793.4,24.4 798.7,22.7 803.9,20.7 809.2,19.2 819.7,16.6 830.3,12 835.5,10.1 840.8,8.9" fill="none" stroke="#2f4f4f" stroke-width="5.6" stroke-dasharray="20.7 9" stroke-opacity="0.8" stroke-linecap="butt" stroke-linejoin="round" clip-path="url(#cpa)"/>
<path d="M108.5,411.4 161.2,398.8 166.5,397.1 171.7,394.9 182.3,389.1 198.1,378.6 203.3,374.9 213.9,367 219.1,363.4 229.7,355 234.9,351.4 240.2,347.3 250.7,338.1 256,334.1 261.3,329.6 271.8,319.2 277.1,314.4 282.4,310 287.6,306.2 298.2,300.2 303.4,296.7 308.7,292.6 319.2,286.7 324.5,284.1 329.8,280.9 350.8,266.8 356.1,263.7 361.4,260.2 366.6,257.6 371.9,254.6 377.2,252.3 387.7,246.6 398.3,241.4 403.5,239 408.8,235.3 414.1,232.9 429.9,224.2 435.1,221 440.4,218.3 445.7,215.1 450.9,212.8 456.2,209.8 466.7,204.5 472,202.1 477.3,199.3 482.6,196.1 487.8,194.4 493.1,192 498.4,190 503.6,186.9 508.9,185.1 514.2,182.3 519.4,180.2 524.7,177.1 535.2,172.2 540.5,170 545.8,168.4 556.3,162 561.6,158.2 577.4,152.8 582.7,149.2 587.9,146.5 598.5,143 603.7,140.8 609,138.3 614.3,136.4 630.1,128.9 635.3,126.8 640.6,125.1 645.9,123 656.4,117.3 661.7,115.3 672.2,110.2 677.5,106.4 688,102.3 693.3,101.1 698.6,98 703.8,94.3 709.1,91.5 719.6,87.9 730.2,82.8 735.4,80.8 746,75.2 756.5,70.2 761.8,68.5 767,66.1 772.3,65.1 777.6,63.4 782.8,61.2 793.4,56.1 798.7,54.5 803.9,52.1 814.5,48.7 825,47.1 830.3,46.5 840.8,44.5" fill="none" stroke="#2f4f4f" stroke-width="5.6" stroke-opacity="0.8" stroke-linecap="square" stroke-linejoin="round" clip-path="url(#cpa)"/>
<path d="M108.5,403.7 150.6,403.7 161.2,403.4 166.5,403 171.7,402.2 177,401.1 182.3,399.2 192.8,394.4 203.3,388.7 229.7,373.5 245.5,365.2 266.6,354.7 282.4,347.4 292.9,343 303.4,338.9 319.2,333.2 335,328 350.8,323.2 377.2,315.6 393,311.5 445.7,299 472,293.3 545.8,278.6 624.8,265.9 698.6,255.7 782.8,244.8 840.8,237.8" fill="none" stroke="#6b8e23" stroke-width="5.6" stroke-opacity="0.8" stroke-linecap="square" stroke-linejoin="round" clip-path="url(#cpa)"/>
<path d="M108.5,403.7 150.6,403.7 161.2,403.4 166.5,403 171.7,402.2 177,401.1 182.3,399.2 192.8,394.4 203.3,388.7 229.7,373.5 245.5,365.2 266.6,354.7 282.4,347.4 292.9,343 303.4,338.9 319.2,333.2 335,328 350.8,323.2 377.2,315.6 393,311.5 445.7,299 472,293.3 545.8,278.6 624.8,265.9 698.6,255.7 782.8,244.8 840.8,237.8" fill="none" stroke="#476a06" stroke-width="5.6" stroke-dasharray="20.7 9" stroke-linecap="butt" stroke-linejoin="round" clip-path="url(#cpa)"/>
<path d="M127.2,24.7H167.2" stroke="#476a06" stroke-width="5.6" stroke-dasharray="20.7 9"/>
<path d="M127.2,60H167.2" stroke="#6b8e23" stroke-opacity="0.8" stroke-width="5.6" stroke-linecap="square"/>
<path d="M127.2,95.4H167.2" stroke="#2f4f4f" stroke-opacity="0.8" stroke-width="5.6" stroke-dasharray="20.7 9"/>
<path d="M127.2,130.8H167.2" stroke="#2f4f4f" stroke-opacity="0.8" stroke-width="5.6" stroke-linecap="square"/>
<circle cx="147.2" cy="167" r="9" fill="#9acd32"/>
<circle cx="147.2" cy="199.9" r="9" fill="#5f9ea0"/>
<text x="183.6" y="30.3" font-size="20" text-anchor="start" stroke="#000" stroke-width="0.35"><tspan font-style="italic">R</tspan><tspan font-size="14" dy="3.20">B</tspan><tspan dy="-3.20">, sim. </tspan><tspan font-style="italic">B</tspan><tspan font-size="14" dy="3.20">0</tspan></text>
<text x="183.6" y="65.6" font-size="20" text-anchor="start" stroke="#000" stroke-width="0.35"><tspan font-style="italic">R</tspan><tspan font-size="14" dy="3.20">B</tspan><tspan dy="-3.20">, sim. 2</tspan><tspan font-style="italic">B</tspan><tspan font-size="14" dy="3.20">0</tspan></text>
<text x="183.6" y="100.9" font-size="20" text-anchor="start" stroke="#000" stroke-width="0.35"><tspan font-style="italic">R</tspan><tspan font-size="14" dy="3.20">SW</tspan><tspan dy="-3.20">, sim. </tspan><tspan font-style="italic">B</tspan><tspan font-size="14" dy="3.20">0</tspan></text>
<text x="183.6" y="136.2" font-size="20" text-anchor="start" stroke="#000" stroke-width="0.35"><tspan font-style="italic">R</tspan><tspan font-size="14" dy="3.20">SW</tspan><tspan dy="-3.20">, sim. 2</tspan><tspan font-style="italic">B</tspan><tspan font-size="14" dy="3.20">0</tspan></text>
<text x="183.6" y="171.4" font-size="20" text-anchor="start" stroke="#000" stroke-width="0.35"><tspan font-style="italic">R</tspan><tspan font-size="14" dy="3.20">B</tspan><tspan dy="-3.20">, data</tspan></text>
<text x="183.6" y="203.9" font-size="20" text-anchor="start" stroke="#000" stroke-width="0.35"><tspan font-style="italic">R</tspan><tspan font-size="14" dy="3.20">SW</tspan><tspan dy="-3.20">, data</tspan></text>
<text x="-1.3" y="22.3" font-size="29" text-anchor="start" stroke="#000" stroke-width="0.35" font-weight="bold">a</text>
<clipPath id="cpb"><rect x="979.4" y="40.9" width="731.7" height="379.3"/></clipPath>
<path d="M979.4,40.9 V420.2 H1711.1" fill="none" stroke="#000" stroke-width="3" stroke-linecap="square" stroke-linejoin="miter"/>
<path d="M979.4,420.2v12.5M1083.9,420.2v12.5M1188.5,420.2v12.5M1293,420.2v12.5M1397.5,420.2v12.5M1502,420.2v12.5M1606.6,420.2v12.5M1711.1,420.2v12.5M979.4,402.4h-12.5M979.4,326.3h-12.5M979.4,250.1h-12.5M979.4,173.9h-12.5M979.4,97.8h-12.5" stroke="#000" stroke-width="3" fill="none"/>
<text x="979.4" y="462.7" font-size="21.4" text-anchor="middle" stroke="#000" stroke-width="0.35">0</text>
<text x="1083.9" y="462.7" font-size="21.4" text-anchor="middle" stroke="#000" stroke-width="0.35">5</text>
<text x="1188.5" y="462.7" font-size="21.4" text-anchor="middle" stroke="#000" stroke-width="0.35">10</text>
<text x="1293" y="462.7" font-size="21.4" text-anchor="middle" stroke="#000" stroke-width="0.35">15</text>
<text x="1397.5" y="462.7" font-size="21.4" text-anchor="middle" stroke="#000" stroke-width="0.35">20</text>
<text x="1502" y="462.7" font-size="21.4" text-anchor="middle" stroke="#000" stroke-width="0.35">25</text>
<text x="1606.6" y="462.7" font-size="21.4" text-anchor="middle" stroke="#000" stroke-width="0.35">30</text>
<text x="1711.1" y="462.7" font-size="21.4" text-anchor="middle" stroke="#000" stroke-width="0.35">35</text>
<text x="954.1" y="411.4" font-size="21.4" text-anchor="end" stroke="#000" stroke-width="0.35">0</text>
<text x="954.1" y="335.3" font-size="21.4" text-anchor="end" stroke="#000" stroke-width="0.35">1</text>
<text x="954.1" y="259.1" font-size="21.4" text-anchor="end" stroke="#000" stroke-width="0.35">2</text>
<text x="954.1" y="182.9" font-size="21.4" text-anchor="end" stroke="#000" stroke-width="0.35">3</text>
<text x="954.1" y="106.8" font-size="21.4" text-anchor="end" stroke="#000" stroke-width="0.35">4</text>
<text x="1344.2" y="499.5" font-size="25" text-anchor="middle" stroke="#000" stroke-width="0.35"><tspan font-style="italic">R</tspan>/µm</text>
<text x="915.3" y="230.5" font-size="25.6" text-anchor="middle" stroke="#000" stroke-width="0.35" transform="rotate(-90 915.3 230.5)"><tspan font-style="italic">p</tspan>/GPa</text>
<path d="M979.4,402.4 1025.8,402.4 1026.7,401.9 1027.7,394.3 1029.5,365.2 1030.5,345.1 1033.2,261.8 1036,205 1037,191.7 1037.9,185.5 1039.7,183.5 1040.7,183.1 1041.6,183.3 1042.5,184.5 1043.4,186.7 1044.4,190.1 1045.3,203.8 1047.2,246.9 1048.1,262.2 1053.7,342.2 1055.5,366.2 1056.4,374.1 1058.3,382.4 1060.2,387.5 1062.9,391.7 1063.9,392.2 1065.7,392.3 1068.5,393.6 1071.3,393.8 1072.2,393.3 1073.2,393.4 1074.1,393.9 1075,393.6 1076.9,394.8 1077.8,394.2 1079.7,395.3 1080.6,395.3 1081.5,396 1082.4,396.1 1083.4,395.7 1084.3,395.7 1086.1,394.9 1087.1,395.7 1088,395.6 1088.9,395.9 1089.9,396.8 1091.7,397 1095.4,396.3 1096.4,396.4 1097.3,396 1099.1,396.1 1100.1,395.7 1102.9,396 1103.8,396.9 1104.7,397.2 1106.6,397.2 1107.5,396.5 1108.4,396.5 1109.4,397.2 1110.3,396.9 1112.1,397.5 1113.1,396.7 1114.9,398.2 1115.9,398.1 1116.8,398.7 1118.6,398.1 1120.5,398.1 1121.4,398.7 1122.3,398.8 1123.3,398.8 1125.1,398.2 1126.1,398.2 1128.8,399.6 1129.8,399.5 1130.7,399.8 1132.6,398.9 1133.5,399.1 1134.4,398.4 1135.3,398.7 1136.3,399.8 1137.2,399.7 1139.1,400.6 1140,400 1141.8,400.2 1142.8,400 1143.7,399.5 1145.6,400.2 1146.5,400.1 1147.4,401.3 1148.3,401.4 1149.3,401.3 1150.2,402.1 1151.1,401.7 1152.1,401.5 1153,401.9 1154.8,402.3 1156.7,401.6 1157.6,402.2 1158.6,402.4 1159.5,402.3 1161.3,402 1162.3,401.5 1163.2,401.5 1165,400 1166.9,398.9 1167.8,399.5 1171.5,398.6 1172.5,398.7 1173.4,399.2 1177.1,402.1 1178,402.4 1179,401.9 1179.9,402 1181.8,401.9 1182.7,403.1 1183.6,402.9 1184.5,404.2 1185.5,404.8 1186.4,404.6 1187.3,405.8 1189.2,405.2 1190.1,405.5 1192,404.6 1192.9,404.9 1194.8,403.6 1196.6,403.1 1197.5,403 1201.3,400.8 1202.2,401.1 1203.1,400.9 1205.9,399.1 1208.7,398.8 1210.5,398.2 1212.4,398.3 1214.2,398.1 1216.1,398.6 1219.8,402.5" fill="none" stroke="#000" stroke-width="7.5" stroke-linecap="butt" stroke-linejoin="round" clip-path="url(#cpb)"/>
<path d="M979.4,402.4 1140.7,402.4 1141.6,402.4 1142.6,401.1 1143.5,398.7 1144.4,393.4 1145.4,384.2 1147.3,361.9 1150.1,320.9 1152.9,284.8 1153.9,274.4 1154.8,267.6 1156.7,256.6 1157.6,253.8 1158.6,249.6 1159.5,246.8 1162.4,241.5 1166.1,232.5 1167.1,229.1 1170.9,209.8 1173.7,202.5 1176.5,192.7 1178.4,183.5 1180.3,170.5 1185,128.3 1186.9,114 1187.8,109.5 1188.8,106.6 1189.7,105.5 1190.7,105.5 1191.6,105.8 1193.5,108.2 1195.4,114.4 1196.3,119 1198.2,126.4 1200.1,135.6 1204.8,166.2 1207.6,182.4 1209.5,189.7 1210.5,192 1211.4,193.5 1212.3,194.1 1213.3,194.1 1214.2,195 1215.2,194.9 1216.1,193.5 1217.1,191.5 1218,190.5 1219,188.8 1221.8,187.2 1222.7,187.8 1223.7,189.3 1225.6,194.8 1227.4,203.5 1229.3,208.9 1230.3,210.4 1232.2,216.5 1235,222.9 1235.9,225.7 1238.8,240.6 1240.6,254 1241.6,267.5 1244.4,326.8 1245.4,339.5 1246.3,349.1 1247.2,358 1249.1,372.6 1250.1,378.2 1251,382 1252,384.6 1252.9,385.1 1253.8,387.6 1254.8,388.4 1255.7,388.4 1256.7,388.8 1257.6,388.1 1258.6,389.6 1260.4,391 1261.4,391.4 1263.3,391.8 1264.2,391.3 1265.2,392.3 1266.1,392.5 1267.1,393.2 1268,394.8 1268.9,395.5 1269.9,395.7 1270.8,396.1 1271.8,396.2 1272.7,395.2 1273.7,396.2 1276.5,395.7 1277.4,394.8 1278.4,395.2 1279.3,394.7 1281.2,395.4 1282.1,395.1 1283.1,395 1284,395.4 1285,395.3 1285.9,394.5 1286.9,394.9 1287.8,393.4 1289.7,394.3 1290.6,394.5 1291.6,395.9 1293.5,396.8 1294.4,396.9 1295.3,397.3 1297.2,396 1298.2,397 1299.1,396.5 1301,397.8 1301.9,396.1 1304.8,396 1305.7,398 1306.7,398.1 1307.6,398.5 1308.5,398.4 1309.5,397.3 1310.4,397.1 1311.4,395.7 1313.3,394.7 1315.1,396 1316.1,396.2 1317,397.5 1318,396.6 1318.9,397.3 1319.9,398.4 1320.8,397.1 1322.7,397.5 1323.6,397.4 1324.6,396.9 1326.5,398.8 1327.4,399 1328.4,399.7 1329.3,399.6 1330.2,398.5 1331.2,397.8 1333.1,399 1334,400.2 1335,400.5 1335.9,401.3 1336.8,401.1 1337.8,399.4 1338.7,399.2 1339.7,398.5 1340.6,398.2 1341.6,398.4 1342.5,398 1343.4,398.4 1344.4,398.1 1345.3,397.4 1346.3,397.2 1347.2,396.8 1348.2,397 1349.1,398.5 1350,399.2 1351,398 1351.9,397.8 1352.9,398 1353.8,399.2 1354.8,401.6 1355.7,403.2" fill="none" stroke="#000" stroke-width="7.5" stroke-linecap="butt" stroke-linejoin="round" clip-path="url(#cpb)"/>
<path d="M979.4,402.4 1284,402.4 1285.1,402 1286.1,398 1289.2,376.6 1292.4,351.9 1293.4,347.6 1294.5,344.4 1297.6,336.4 1299.7,335.4 1301.8,331.1 1302.9,331.3 1303.9,330.7 1304.9,331.4 1306,332.9 1307,336.3 1308.1,336.3 1310.2,338.3 1311.2,339.7 1312.3,336.7 1313.3,336.6 1314.4,334.7 1315.4,334.1 1316.5,334.2 1317.5,335.1 1318.6,338 1319.6,342.8 1320.7,341.3 1321.7,341.1 1323.8,335.1 1324.8,332.6 1326.9,330.1 1328,329.4 1329,330.6 1330.1,329.3 1331.1,329.6 1332.2,329 1333.2,329.5 1334.3,326.3 1335.3,326.9 1336.4,328.7 1337.4,328.1 1338.4,329.8 1339.5,329.9 1340.5,327.9 1341.6,326.8 1342.6,329.7 1344.7,330.5 1345.8,333 1347.9,330.2 1348.9,329.7 1350,331.9 1351,331.8 1352.1,332 1354.1,333.5 1355.2,333.9 1356.2,332.6 1357.3,336.8 1358.3,337.4 1359.4,335.6 1360.4,332.4 1361.5,334 1362.5,330.3 1363.6,332.5 1364.6,332.8 1366.7,336.3 1367.8,340.6 1368.8,338.4 1369.8,339.3 1370.9,339.2 1371.9,337.2 1373,333.4 1374,331.5 1375.1,334.1 1377.2,336.2 1378.2,335.8 1379.3,337.7 1380.3,334 1381.4,333.3 1382.4,328.9 1383.5,330.5 1384.5,329.7 1385.6,331.4 1387.6,331.2 1388.7,331.8 1389.7,333.2 1390.8,333.3 1391.8,332.4 1392.9,337.7 1395,333.1 1396,333 1397.1,334.4 1398.1,334.1 1399.2,335.7 1400.2,338.1 1401.3,335.9 1402.3,333 1403.3,332.2 1404.4,331.8 1405.4,333.4 1406.5,336.1 1407.5,338.1 1408.6,337.2 1409.6,336.9 1410.7,332.7 1411.7,331.7 1412.8,332.8 1413.8,330.7 1415.9,336.8 1417,338.1 1418,338.6 1419,342.2 1420.1,339.6 1421.1,338.9 1422.2,337.8 1423.2,335.8 1424.3,334.5 1425.3,334 1426.4,334.3 1428.5,337.3 1429.5,335.9 1430.6,335.5 1432.7,329.1 1433.7,327 1434.7,329.6 1435.8,328.3 1436.8,328.8 1437.9,327.1 1438.9,327.9 1440,326.2 1441,328.3 1442.1,329.2 1443.1,334.9 1444.2,336.2 1445.2,336.7 1446.3,335 1447.3,336.3 1449.4,330.4 1450.5,331.1 1451.5,331.3 1452.5,331.2 1453.6,331.5 1454.6,333.6 1455.7,331.4 1456.7,333.5 1457.8,334.2 1458.8,331.8 1459.9,332.2 1460.9,332.3 1463,327.5 1464.1,330.2 1465.1,330.7 1466.2,334.2 1467.2,335.3 1468.2,337.2 1469.3,336.8 1471.4,330.4 1472.4,330.6 1473.5,331.9 1474.5,330.8 1475.6,331.3 1476.6,333.6 1477.7,333.1 1478.7,331.8 1479.8,333.1 1480.8,336 1482.9,338.7 1483.9,340.5 1487.1,334.5 1488.1,334.7 1489.2,333.9 1491.3,336.3 1493.4,337.8 1495.5,340.6 1496.5,341.6 1497.6,341.8 1498.6,342.4 1499.7,340.6 1500.7,340.4 1502.8,340.7 1503.8,340 1504.9,340.4 1505.9,339.9 1508,341 1509.1,341.2 1510.1,342.6 1511.2,342.9 1512.2,342.8 1513.3,341.9 1514.3,341.8 1515.4,341.5 1516.4,342.1 1517.4,343.4 1518.5,345.5 1519.5,346.5 1520.6,346.9 1521.6,349.2 1522.7,348.5 1523.7,346.9 1524.8,346.6 1525.8,347.5 1526.9,345.2 1527.9,345 1529,346 1530,346 1531.1,345 1534.2,347.4 1535.2,349.2 1536.3,349.2 1537.3,347.6 1538.4,346.9 1539.4,345.3 1540.5,344.9 1541.5,345.9 1542.6,346.5 1543.6,346.5 1545.7,347.8 1547.8,349.5 1548.8,350 1549.9,349.9 1552,348.2 1553,347.8 1554.1,347 1556.2,346.8 1557.2,347 1558.3,346.9 1559.3,348.1 1561.4,351.4 1562.5,352.5 1563.5,354.2 1564.6,354.7 1565.6,356.6 1566.6,358.9 1570.8,370 1576.1,382.9 1581.3,394.2 1583.4,397.7 1584.4,398.6 1585.5,399.1 1587.6,401.8 1589.7,401.6 1590.7,402.7 1592.8,402.2 1593.9,401.6 1594.9,401.7 1596,401.5 1597,401.6 1599.1,403.1 1600.1,402.7 1602.2,402.6 1603.3,402 1604.3,402.1 1605.4,402.8 1606.4,402.4 1608.5,402.6 1610.6,401.8 1611.7,402.3 1612.7,401.8 1613.7,401.6 1615.8,401.9 1617.9,402.7 1619,402.4 1620,402.7 1621.1,402.5 1622.1,401.8 1623.2,401.8 1624.2,402.2 1625.3,401.8 1626.3,401.9 1627.4,402.2 1629.5,401.8 1630.5,401.9 1631.5,401.7 1632.6,402.3 1634.7,402.7 1635.7,403.4 1636.8,403 1637.8,402.2 1639.9,402.5 1641,401.9 1643.1,403 1644.1,403 1648.3,402.3 1650.4,402.3 1652.5,402.9 1653.5,402.8 1654.6,402.5 1655.6,402.5 1656.7,402.2 1658.8,402.2 1659.8,402.7 1660.9,402.7 1662.9,403.5 1664,403.4 1665,402.9 1667.1,402.1 1668.2,401.4 1669.2,401.3 1670.3,401.6 1672.4,402.6 1675.5,402.1 1677.6,400.4 1678.6,401 1679.7,400.9 1680.7,401.3 1681.8,401.7 1682.8,402.7 1683.9,402.8 1684.9,403.3 1686,402.5 1687,403.3 1689.1,401.9 1690.2,401.6 1691.2,402 1692.3,400.8 1694.4,401.4 1695.4,401 1696.4,401 1697.5,402.1 1699.6,401.9 1701.7,403.1 1702.7,403 1703.8,403.3 1704.8,403.3 1705.9,402.9 1706.9,403.2 1708,403.2 1709,402.8 1710.1,403.3 1711.1,403.5" fill="none" stroke="#000" stroke-width="7.5" stroke-linecap="butt" stroke-linejoin="round" clip-path="url(#cpb)"/>
<path d="M979.4,402.4 1023.7,402.4 1026.4,209.7 1031.5,241.7 1034.9,260.3 1038.3,276.3 1041.7,288.3 1050.2,312.1 1065.4,352.3 1070.5,364.5 1075.6,375.8 1077.2,402.4 1711.1,402.4" fill="none" stroke="#8700de" stroke-width="5.6" stroke-opacity="0.8" stroke-linecap="square" stroke-linejoin="round" clip-path="url(#cpb)"/>
<path d="M979.4,402.4 1143.5,402.4 1145.2,57.4 1173,104.7 1196.2,143.4 1233.4,204.2 1252,232.9 1256.6,240.4 1261.2,248.3 1265.9,256.7 1270.5,265.9 1275.2,276.5 1279.8,289 1281.5,402.4 1711.1,402.4" fill="none" stroke="#8700de" stroke-width="5.6" stroke-opacity="0.8" stroke-linecap="square" stroke-linejoin="round" clip-path="url(#cpb)"/>
<path d="M979.4,402.4 1290.9,402.4 1292.4,343 1307.8,339.6 1315.5,338.2 1338.6,334.3 1369.4,329.9 1400.3,325.9 1438.8,321.6 1477.4,317.8 1539,312.2 1554.4,311.3 1562.1,311.1 1569.9,311.1 1577.6,311.4 1593,312.6 1595.1,402.4 1711.1,402.4" fill="none" stroke="#8700de" stroke-width="5.6" stroke-opacity="0.8" stroke-linecap="square" stroke-linejoin="round" clip-path="url(#cpb)"/>
<path d="M979.4,402.4 1020.8,402.4 1023.3,222.7 1025.3,227.2 1027.3,232.5 1031.2,244.8 1033.2,252.3 1037.2,270.3 1039.2,278.2 1043.1,290.9 1049.1,307.6 1057,328.4 1064.9,347.9 1072.9,364.8 1076.8,372.5 1080.8,379.6 1082.5,402.4 1711.1,402.4" fill="none" stroke="#6400a0" stroke-width="5.6" stroke-dasharray="20.7 9" stroke-linecap="butt" stroke-linejoin="round" clip-path="url(#cpb)"/>
<path d="M979.4,402.4 1142.5,402.4 1144.6,57.4 1155.5,70.4 1166.5,84.1 1177.4,98.6 1188.4,113.7 1199.3,129.8 1226.7,173 1254.1,215.7 1265.1,232.3 1270.6,240.3 1281.5,255.6 1292.5,270 1303.4,283.6 1305.5,402.4 1711.1,402.4" fill="none" stroke="#6400a0" stroke-width="5.6" stroke-dasharray="20.7 9" stroke-linecap="butt" stroke-linejoin="round" clip-path="url(#cpb)"/>
<path d="M1305.5,356.7 1305.9,338.5 1367.4,332.1 1437.7,325.8 1481.6,322.3 1534.2,318.8 1560.6,317.3 1578.1,316.6 1595.7,316.4 1648.4,316.4 1650.5,402.4 1711.1,402.4" fill="none" stroke="#6400a0" stroke-width="5.6" stroke-dasharray="20.7 9" stroke-linecap="butt" stroke-linejoin="round" clip-path="url(#cpb)"/>
<text x="1000.2" y="170.7" font-size="23.3" text-anchor="start" stroke="#000" stroke-width="0.35">Δ<tspan font-style="italic" dx="0.19">t</tspan> <tspan dx="-2.61">=</tspan> <tspan dx="-2.38">2</tspan> <tspan dx="-2.28">ns</tspan></text>
<text x="1221.3" y="124" font-size="23.3" text-anchor="start" stroke="#000" stroke-width="0.35">Δ<tspan font-style="italic" dx="0.19">t</tspan> <tspan dx="-2.61">=</tspan> <tspan dx="-2.38">5</tspan> <tspan dx="-2.28">ns</tspan></text>
<text x="1380.2" y="292.2" font-size="23.3" text-anchor="start" stroke="#000" stroke-width="0.35">Δ<tspan font-style="italic" dx="0.19">t</tspan> <tspan dx="-2.61">=</tspan> <tspan dx="-2.38">15</tspan> <tspan dx="-2.28">ns</tspan></text>
<rect x="1466.2" y="50.9" width="235.4" height="108.3" fill="#fff" stroke="#d4d4d4" stroke-width="3.6"/>
<path d="M1474,70H1514.2" stroke="#8700de" stroke-width="5.6" stroke-linecap="square" stroke-opacity="0.8"/>
<path d="M1474,105.4H1514.2" stroke="#6400a0" stroke-width="5.6" stroke-dasharray="20.7 9"/>
<path d="M1474,139.7H1514.2" stroke="#000" stroke-width="7.5" stroke-linecap="square"/>
<text x="1530.6" y="75.7" font-size="20" text-anchor="start" stroke="#000" stroke-width="0.35">sim. low <tspan font-style="italic">E</tspan><tspan font-size="14" dy="3.20">B</tspan><tspan dy="-3.20">, 2</tspan><tspan font-style="italic">B</tspan><tspan font-size="14" dy="3.20">0</tspan></text>
<text x="1530.6" y="111" font-size="20" text-anchor="start" stroke="#000" stroke-width="0.35">sim. low <tspan font-style="italic">E</tspan><tspan font-size="14" dy="3.20">B</tspan><tspan dy="-3.20">, </tspan><tspan font-style="italic">B</tspan><tspan font-size="14" dy="3.20">0</tspan></text>
<text x="1530.6" y="145.8" font-size="20" text-anchor="start" stroke="#000" stroke-width="0.35">data</text>
<text x="869.6" y="22.3" font-size="29" text-anchor="start" stroke="#000" stroke-width="0.35" font-weight="bold">b</text>
<clipPath id="cpc"><rect x="108.5" y="589.5" width="434" height="379.5"/></clipPath>
<path d="M108.5,589.5 V969 H542.5" fill="none" stroke="#000" stroke-width="3" stroke-linecap="square" stroke-linejoin="miter"/>
<path d="M108.5,969v12.5M195.3,969v12.5M282.1,969v12.5M368.9,969v12.5M455.7,969v12.5M542.5,969v12.5M108.5,949.5h-12.5M108.5,896.2h-12.5M108.5,843h-12.5M108.5,789.7h-12.5M108.5,736.4h-12.5M108.5,683.2h-12.5M108.5,629.9h-12.5" stroke="#000" stroke-width="3" fill="none"/>
<text x="108.5" y="1011.2" font-size="21.4" text-anchor="middle" stroke="#000" stroke-width="0.35">0</text>
<text x="195.3" y="1011.2" font-size="21.4" text-anchor="middle" stroke="#000" stroke-width="0.35">2</text>
<text x="282.1" y="1011.2" font-size="21.4" text-anchor="middle" stroke="#000" stroke-width="0.35">4</text>
<text x="368.9" y="1011.2" font-size="21.4" text-anchor="middle" stroke="#000" stroke-width="0.35">6</text>
<text x="455.7" y="1011.2" font-size="21.4" text-anchor="middle" stroke="#000" stroke-width="0.35">8</text>
<text x="542.5" y="1011.2" font-size="21.4" text-anchor="middle" stroke="#000" stroke-width="0.35">10</text>
<text x="83.2" y="958.5" font-size="21.4" text-anchor="end" stroke="#000" stroke-width="0.35">0</text>
<text x="83.2" y="905.2" font-size="21.4" text-anchor="end" stroke="#000" stroke-width="0.35">5</text>
<text x="83.2" y="852" font-size="21.4" text-anchor="end" stroke="#000" stroke-width="0.35">10</text>
<text x="83.2" y="798.7" font-size="21.4" text-anchor="end" stroke="#000" stroke-width="0.35">15</text>
<text x="83.2" y="745.4" font-size="21.4" text-anchor="end" stroke="#000" stroke-width="0.35">20</text>
<text x="83.2" y="692.2" font-size="21.4" text-anchor="end" stroke="#000" stroke-width="0.35">25</text>
<text x="83.2" y="638.9" font-size="21.4" text-anchor="end" stroke="#000" stroke-width="0.35">30</text>
<text x="324.1" y="1048.5" font-size="25" text-anchor="middle" stroke="#000" stroke-width="0.35"><tspan font-style="italic">R</tspan>/µm</text>
<text x="31.2" y="779.3" font-size="25.6" text-anchor="middle" stroke="#000" stroke-width="0.35" transform="rotate(-90 31.2 779.3)"><tspan font-style="italic">p</tspan>/GPa</text>
<g clip-path="url(#cpc)" fill="none" stroke="#000" stroke-opacity="0.2" stroke-width="3.75" stroke-linejoin="round">
<path d="M108.5,949.5 284.2,949.4 290,948.8 292.9,947.2 294.3,945.7 295.8,943.3 297.2,939.8 298.7,934.5 300.1,927.1 301.6,916.9 303,903.4 304.5,886 305.9,864.5 308.8,809.6 313.2,710 316.1,651.4 317.5,630.6 319,617.7 320.4,613.8 321.9,616.2 323.3,622.6 324.8,632.9 326.3,646.5 329.2,682 337.9,808.6 342.2,857 345.1,878.6 346.6,886.2 348,891.7 349.5,895.5 350.9,897.6 352.4,898.3 353.8,898 355.3,896.8 361.1,888.6 364,885.6 365.4,884.9 366.9,884.9 369.8,886.2 372.7,889.1 377.1,895.9 390.1,923.7 394.5,931.7 397.4,936.1 400.3,939.6 404.6,943.6 409,946.2 413.4,947.8 420.6,949 430.8,949.4 542.5,949.5"/>
<path d="M108.5,949.5 324.8,949.5 329.2,949.3 332.1,948.7 335,947.2 336.4,945.6 337.9,943.2 339.3,939.5 340.8,934.2 342.2,926.5 343.7,916.1 345.1,902.2 346.6,884.5 348,862.5 350.9,806.2 355.3,704 358.2,643.9 359.6,622.6 361.1,609.3 362.5,605.3 364,606.4 365.4,609.3 366.9,614 368.3,620.4 371.3,637.9 375.6,673.4 387.2,783.5 391.6,817.1 395.9,843.3 400.3,862.7 403.2,873.1 407.5,886.7 413.4,901.6 420.6,916.8 427.9,929.4 432.2,935.4 435.1,938.7 438,941.5 442.4,944.6 445.3,946.1 449.6,947.6 456.9,948.9 467.1,949.4 542.5,949.5"/>
<path d="M108.5,949.5 317.5,949.5 324.8,948.9 327.7,947.8 329.2,946.6 330.6,944.8 332.1,942.1 333.5,938.2 335,932.6 337.9,914.9 339.3,902 342.2,867.2 348,772.7 350.9,730.4 352.4,715.6 353.8,706.6 355.3,704.2 356.7,706.1 358.2,710.9 361.1,728.3 364,753.9 371.3,828.7 375.6,864.4 378.5,880.3 380,885.8 381.4,889.8 382.9,892.3 384.3,893.7 385.8,894 387.2,893.6 393,889 395.9,887.6 397.4,887.7 398.8,888.3 401.7,890.3 404.6,893.7 407.5,898.2 420.6,924.5 426.4,934.4 429.3,938.2 433.7,942.6 436.6,944.7 440.9,946.8 443.8,947.8 448.2,948.6 458.4,949.4 542.5,949.5"/>
<path d="M108.5,949.5 335,949.4 340.8,949.2 345.1,948.4 348,947.3 350.9,945.2 353.8,941.7 355.3,939.1 358.2,931.7 361.1,920.5 364,904.7 366.9,883.5 369.8,857.1 378.5,761 381.4,733.1 384.3,713 385.8,706.8 387.2,703.5 388.7,703 390.1,704.4 391.6,707.5 393,712 395.9,725.3 400.3,753 410.4,827.3 413.4,845.4 417.7,867.9 422.1,885.5 426.4,899.5 429.3,907 432.2,913.4 438,923.8 443.8,932 448.2,937 451.1,939.8 454,942.1 458.4,944.8 461.3,946.2 465.6,947.6 472.9,948.8 481.6,949.4 542.5,949.5"/>
<path d="M108.5,949.5 252.2,949.3 259.5,948.7 265.3,947.4 269.6,945.4 274,941.9 278.3,936.2 282.7,927.4 287.1,914.5 290,903.2 292.9,889.7 297.2,865.2 301.6,836.5 310.3,774.5 314.6,747.3 317.5,733 320.4,722.7 321.9,719.3 323.3,717.1 324.8,716.2 326.3,716.9 327.7,720 329.2,725.3 332.1,742.1 335,765.2 343.7,846.8 348,880.2 350.9,896.4 352.4,902.6 353.8,907.4 355.3,911.1 356.7,913.6 358.2,915.1 359.6,915.6 361.1,915.4 364,913.1 369.8,905.9 372.7,903.1 374.2,902.4 375.6,902.1 378.5,902.7 381.4,904.6 385.8,909.2 388.7,913.4 400.3,931.7 406.1,938.9 409,941.7 413.4,944.8 417.7,946.8 423.5,948.4 430.8,949.2 440.9,949.5 542.5,949.5"/>
<path d="M108.5,949.5 319,949.5 324.8,949.3 329.2,948.7 332.1,947.9 335,946.5 337.9,943.9 339.3,942.1 342.2,936.8 345.1,928.9 348,917.7 350.9,902.7 353.8,884 362.5,816.4 365.4,796.7 368.3,782.5 369.8,778 371.3,775.5 372.7,774.8 374.2,775.4 375.6,777 377.1,779.5 378.5,783 381.4,792.1 384.3,803.3 397.4,859 404.6,885.6 409,899 413.4,910.3 419.2,922.6 425,932.1 430.8,939.2 435.1,942.9 440.9,946.2 446.7,948 452.5,948.9 468.5,949.5 542.5,949.5"/>
<path d="M108.5,949.5 279.8,949.4 285.6,949.1 290,948.6 294.3,947.3 297.2,945.7 300.1,943.2 301.6,941.5 304.5,937 307.4,930.7 308.8,926.7 311.7,917 314.6,904.7 317.5,890.1 327.7,829.8 330.6,814.8 333.5,803.3 335,799.3 336.4,796.5 337.9,795.2 339.3,795.1 340.8,796 342.2,797.7 343.7,800.2 345.1,803.5 348,812.1 352.4,829 364,880.8 366.9,891.7 369.8,900.8 372.7,908 375.6,913.4 378.5,917.1 381.4,919.6 390.1,924.5 395.9,928.1 410.4,938.9 416.3,942.7 423.5,946.2 430.8,948.1 438,949 449.6,949.4 542.5,949.5"/>
<path d="M108.5,949.5 326.3,949.4 333.5,949.2 339.3,948.7 343.7,947.7 346.6,946.5 349.5,944.9 352.4,942.4 356.7,936.8 361.1,928.1 364,920.2 366.9,910.6 371.3,892.9 381.4,843.5 385.8,824.5 388.7,814.8 390.1,811.2 391.6,808.4 393,806.6 394.5,805.7 395.9,805.9 397.4,807 398.8,809.1 401.7,816 406.1,831.9 414.8,871.9 419.2,889.7 423.5,902.9 426.4,908.8 429.3,912.6 432.2,914.5 435.1,915.3 440.9,916.2 443.8,917.3 446.7,918.9 452.5,923.4 465.6,936.6 470,940.5 475.8,944.4 481.6,946.9 488.8,948.6 497.5,949.3 542.5,949.5"/>
<path d="M108.5,949.5 247.9,949.4 253.7,949.1 258,948.4 260.9,947.5 263.8,945.9 266.7,943.3 268.2,941.5 271.1,936.5 274,929.4 276.9,919.7 279.8,907.2 282.7,892 291.4,838.2 294.3,822.4 297.2,810.4 298.7,806.4 300.1,803.7 301.6,802.6 303,802.6 304.5,803.2 307.4,806 310.3,810.8 314.6,820.9 321.9,842.5 337.9,895.2 342.2,907.6 346.6,918.3 350.9,927.2 355.3,934.1 359.6,939.4 362.5,942.1 365.4,944.1 369.8,946.4 375.6,948.1 381.4,948.9 388.7,949.3 542.5,949.5"/>
<path d="M108.5,949.5 324.8,949.4 339.3,948.7 345.1,947.7 349.5,946.4 355.3,943.4 358.2,941.1 361.1,938.2 365.4,932.4 369.8,924.6 374.2,914.7 378.5,902.9 391.6,861.5 397.4,845.5 400.3,839.5 403.2,835.2 406.1,832.8 407.5,832.3 409,832.5 410.4,833.5 411.9,835.2 414.8,840.9 419.2,854 429.3,893 433.7,907.5 438,918.3 440.9,923.3 443.8,926.5 445.3,927.6 448.2,928.8 458.4,930.1 464.2,932 470,934.9 484.5,943.5 490.3,946 496.1,947.7 501.9,948.7 510.6,949.3 542.5,949.5"/>
<path d="M108.5,949.5 271.1,949.4 279.8,949.1 285.6,948.4 291.4,947.2 295.8,945.6 300.1,943.1 304.5,939.4 308.8,934.2 313.2,927.2 317.5,918.3 321.9,907.7 335,870 340.8,855.4 343.7,849.7 346.6,845.7 349.5,843.3 350.9,842.7 352.4,842.6 355.3,843.3 359.6,846.3 364,851.1 368.3,857 378.5,871.9 384.3,881.4 388.7,889.8 400.3,913.8 407.5,926.9 411.9,933.3 414.8,936.8 419.2,941.1 423.5,944.2 427.9,946.3 432.2,947.7 438,948.7 445.3,949.2 462.7,949.5 542.5,949.5"/>
<path d="M108.5,949.5 278.3,949.4 285.6,949.1 291.4,948.4 295.8,947.1 298.7,945.7 303,942.4 307.4,936.9 311.7,928.4 314.6,920.8 317.5,911.6 320.4,900.7 332.1,848.9 336.4,831.8 339.3,823.4 340.8,820.3 342.2,818 343.7,816.6 345.1,816.1 346.6,816.4 348,817.2 349.5,818.5 352.4,822.8 355.3,828.8 359.6,840.4 369.8,871.7 375.6,888.5 381.4,903.5 387.2,916.5 391.6,924.5 397.4,933 401.7,937.9 407.5,942.7 411.9,945.1 417.7,947.3 423.5,948.5 430.8,949.2 448.2,949.5 542.5,949.5"/>
<path d="M108.5,949.5 303,949.4 316.1,948.6 320.4,947.8 324.8,946.3 329.2,943.9 333.5,939.9 337.9,934 342.2,925.8 345.1,918.8 349.5,906.1 353.8,891.1 364,853.4 368.3,839.9 371.3,833.1 374.2,828.5 375.6,827 377.1,826.3 378.5,826.1 380,826.4 381.4,827.1 384.3,829.9 387.2,834.2 391.6,842.6 401.7,866.7 416.3,904.6 423.5,920.7 427.9,928.5 430.8,932.9 435.1,938.2 439.5,942.2 443.8,945 448.2,946.9 454,948.4 459.8,949 474.3,949.5 542.5,949.5"/>
<path d="M108.5,949.5 285.6,949.4 300.1,948.7 305.9,947.7 310.3,946.4 314.6,944.4 319,941.5 323.3,937.3 327.7,931.6 332.1,924.3 336.4,915.4 350.9,880.1 355.3,870.8 358.2,865.7 361.1,862 364,859.7 366.9,858.9 368.3,859.1 371.3,860.2 374.2,862.3 377.1,865.3 381.4,871.2 393,889.5 398.8,897.2 410.4,910.3 422.1,925.1 429.3,933.6 436.6,940.3 442.4,944.2 446.7,946.2 452.5,947.9 458.4,948.8 464.2,949.2 478.7,949.5 542.5,949.5"/>
<path d="M108.5,949.5 319,949.4 333.5,948.8 339.3,947.9 343.7,946.7 349.5,944.1 353.8,940.9 358.2,936.4 362.5,930.3 366.9,922.6 371.3,913.2 385.8,875.7 390.1,865.9 393,860.6 395.9,856.7 398.8,854.2 401.7,853.4 403.2,853.7 406.1,855.7 407.5,857.4 410.4,862 414.8,871.2 423.5,892.5 427.9,902.3 432.2,910.8 436.6,918.2 440.9,924.8 446.7,931.9 451.1,936.1 456.9,940.7 461.3,943.3 467.1,945.9 472.9,947.6 480.1,948.8 494.6,949.4 542.5,949.5"/>
<path d="M108.5,949.5 246.4,949.3 253.7,948.8 258,948.1 262.4,946.5 266.7,943.8 271.1,939.1 275.4,931.6 279.8,920.4 282.7,910.6 285.6,898.7 290,877.3 301.6,809.6 305.9,788.1 308.8,777.5 310.3,773.6 311.7,770.7 313.2,769 314.6,768.4 316.1,769.4 317.5,772.7 319,778 321.9,794 332.1,873.3 336.4,900.7 337.9,907.7 340.8,918.4 343.7,924.9 345.1,926.9 346.6,928.1 348,928.7 350.9,928.7 356.7,926.6 359.6,926 362.5,926.2 365.4,926.9 368.3,928.2 371.3,929.9 384.3,940 391.6,944.5 398.8,947.3 407.5,948.8 414.8,949.3 426.4,949.5 542.5,949.5"/>
<path d="M108.5,949.5 330.6,949.5 339.3,949.3 345.1,948.8 349.5,947.7 352.4,946.3 355.3,944.1 358.2,940.9 361.1,936.6 364,931.1 374.2,907.9 375.6,905.5 378.5,902.3 380,901.6 381.4,901.6 382.9,902.3 384.3,903.5 388.7,909 400.3,929.6 406.1,938.1 409,941.3 411.9,943.8 414.8,945.7 419.2,947.5 426.4,948.9 436.6,949.4 542.5,949.5"/>
<path d="M108.5,949.5 335,949.5 343.7,949.3 348,948.8 350.9,947.9 353.8,946.3 356.7,943.6 358.2,941.6 362.5,933.6 369.8,916.7 372.7,911.7 374.2,910.1 375.6,909.2 385.8,905.1 395.9,899.7 400.3,898.5 403.2,899 404.6,899.7 409,903.4 416.3,910.9 430.8,927.3 439.5,935.7 446.7,941 451.1,943.4 455.4,945.3 459.8,946.7 465.6,947.9 477.2,949.1 493.2,949.5 542.5,949.5"/>
<path d="M108.5,949.5 316.1,949.5 326.3,949.3 332.1,948.6 335,947.8 337.9,946.4 340.8,944.3 343.7,941.2 346.6,936.8 349.5,931.3 356.7,914.9 359.6,909.1 362.5,904.9 364,903.6 365.4,902.9 366.9,902.7 369.8,903.3 374.2,905.5 378.5,908.7 388.7,917.3 393,919.8 395.9,920.7 398.8,920.8 403.2,919.8 406.1,918.4 414.8,913.2 417.7,912 420.6,911.5 422.1,911.6 425,912.5 427.9,914.8 430.8,918.3 440.9,934.1 443.8,938.1 446.7,941.5 449.6,944.1 452.5,946 455.4,947.3 458.4,948.2 464.2,949.1 471.4,949.4 542.5,949.5"/>
<path d="M108.5,949.5 250.8,949.4 262.4,948.9 269.6,947.4 274,945.4 276.9,943.4 281.2,939.1 284.2,935.2 290,925 301.6,900.6 304.5,895.5 308.8,889.3 311.7,886.3 316.1,883.2 320.4,881.3 324.8,880.6 329.2,881.2 332.1,882.5 336.4,885.9 339.3,889.2 342.2,893.6 345.1,899.2 355.3,922.6 361.1,934 364,938.4 368.3,943.2 371.3,945.3 375.6,947.4 378.5,948.3 382.9,949 393,949.4 542.5,949.5"/>
<path d="M108.5,949.5 246.4,949.4 256.6,949 260.9,948.3 263.8,947.4 268.2,945.2 271.1,942.9 274,939.6 276.9,935.4 279.8,930 282.7,923.7 292.9,897.6 297.2,888.2 300.1,883.6 303,880.5 305.9,878.7 307.4,878.4 308.8,878.4 311.7,879.6 314.6,882 317.5,885.6 321.9,892.1 337.9,918.3 343.7,926.4 348,931.7 352.4,936.1 358.2,940.8 364,944.2 369.8,946.4 374.2,947.5 380,948.5 395.9,949.4 542.5,949.5"/>
<path d="M108.5,949.5 362.5,949.5 372.7,949.4 378.5,948.9 382.9,947.7 385.8,946.2 388.7,943.8 391.6,940.1 395.9,931.6 406.1,905 409,900.2 410.4,899 411.9,898.6 413.4,898.6 416.3,899.8 419.2,902.1 422.1,905.1 426.4,910.9 438,927.7 442.4,933.1 445.3,936.1 448.2,938.8 452.5,941.9 455.4,943.6 459.8,945.6 464.2,946.9 468.5,947.9 474.3,948.7 481.6,949.2 497.5,949.5 542.5,949.5"/>
<path d="M108.5,949.5 288.5,949.5 300.1,949.3 307.4,948.8 314.6,947.3 320.4,945 326.3,941.6 336.4,934.4 342.2,931.5 346.6,930.6 359.6,929.9 362.5,929.2 365.4,928.1 368.3,926.4 371.3,924.2 380,916.4 382.9,914.2 385.8,912.7 388.7,912.2 391.6,912.6 393,913.1 395.9,914.8 398.8,917.1 403.2,921.4 414.8,934.4 422.1,940.9 425,942.9 429.3,945.2 436.6,947.5 445.3,948.8 456.9,949.4 542.5,949.5"/>
<path d="M108.5,949.5 236.2,949.4 249.3,948.8 253.7,948.1 258,947 262.4,945.2 266.7,942.5 271.1,938.7 274,935.4 276.9,931.5 281.2,924.7 295.8,897.2 301.6,887.8 304.5,884.2 308.8,880.1 313.2,877.7 316.1,877.3 319,877.8 321.9,879.3 324.8,881.7 329.2,887.1 332.1,892.1 335,897.9 346.6,924.2 350.9,932.3 353.8,936.7 356.7,940.3 361.1,944.2 364,945.9 368.3,947.6 375.6,948.9 387.2,949.4 542.5,949.5"/>
<path d="M108.5,949.5 240.6,949.4 253.7,948.7 258,948 262.4,946.9 268.2,944.5 274,941 279.8,936.2 285.6,930.5 294.3,921.2 300.1,914.1 304.5,907.5 313.2,892.8 316.1,889.7 317.5,888.8 319,888.6 323.3,889.5 326.3,890.9 329.2,892.9 332.1,895.6 355.3,924.1 361.1,930.4 366.9,935.7 371.3,939.1 377.1,942.6 381.4,944.5 387.2,946.5 393,947.7 398.8,948.5 414.8,949.3 542.5,949.5"/>
<path d="M108.5,949.5 320.4,949.5 329.2,949.4 333.5,948.9 336.4,948.2 339.3,946.8 342.2,944.3 345.1,940.5 349.5,931.7 358.2,908.9 361.1,903.5 364,900.3 366.9,898 369.8,896.5 372.7,896.1 374.2,896.4 377.1,898 381.4,902.7 385.8,909.5 394.5,925.2 398.8,931.8 401.7,935.5 404.6,938.5 409,942.1 413.4,944.6 417.7,946.4 422.1,947.6 426.4,948.4 439.5,949.3 542.5,949.5"/>
<path d="M108.5,949.5 326.3,949.5 336.4,949.3 342.2,948.5 346.6,947.1 349.5,945.4 352.4,942.8 355.3,939 358.2,933.9 361.1,927.5 369.8,903.5 372.7,896.7 375.6,892.2 377.1,891.1 378.5,890.6 380,890.7 382.9,892.1 385.8,894.5 388.7,898 393,904.6 406.1,927 410.4,933.1 413.4,936.5 416.3,939.4 420.6,942.8 423.5,944.5 427.9,946.4 432.2,947.6 436.6,948.4 449.6,949.3 542.5,949.5"/>
<path d="M108.5,949.5 243.5,949.4 258,948.6 268.2,946.8 275.4,944.4 282.7,940.9 290,936.3 295.8,931.7 301.6,926.1 305.9,921 319,902.4 323.3,897 326.3,894.4 327.7,893.5 330.6,892.8 333.5,893.5 335,894.4 339.3,898.9 343.7,905.4 356.7,928.3 361.1,934.6 364,938.1 366.9,941 371.3,944.3 374.2,945.8 378.5,947.5 382.9,948.4 387.2,949 398.8,949.4 542.5,949.5"/>
<path d="M108.5,949.5 247.9,949.5 258,949.3 263.8,948.7 269.6,947.2 272.5,945.9 275.4,944.1 281.2,938.7 290,928.4 292.9,925.4 295.8,923.3 297.2,922.7 300.1,922.3 303,922.5 307.4,923.6 321.9,930 327.7,931.5 333.5,931.6 342.2,930.3 346.6,929.9 349.5,930.1 353.8,931 364,934.3 381.4,941.9 388.7,944.6 397.4,946.9 406.1,948.3 416.3,949.1 430.8,949.4 542.5,949.5"/>
<path d="M108.5,949.5 279.8,949.5 292.9,949.2 301.6,948.5 307.4,947.4 311.7,946 316.1,944 320.4,941.4 327.7,935.5 342.2,921.6 346.6,918.2 349.5,916.4 352.4,915 356.7,913.4 361.1,912.5 365.4,912.2 369.8,912.5 372.7,913.2 377.1,914.8 380,916.4 387.2,921.6 401.7,934.2 409,939.8 413.4,942.5 417.7,944.7 422.1,946.3 426.4,947.5 435.1,948.8 448.2,949.4 542.5,949.5"/>
<path d="M108.5,949.5 298.7,949.5 311.7,949 319,947.9 324.8,945.9 329.2,943.3 333.5,939.4 336.4,936 339.3,931.8 343.7,924.1 353.8,901.7 358.2,893.2 361.1,889.3 362.5,888 364,887.4 365.4,887.4 366.9,888 368.3,889.3 369.8,891 372.7,895.6 375.6,901.4 385.8,923.8 391.6,934.2 394.5,938.2 398.8,942.7 401.7,944.8 406.1,947 409,947.9 413.4,948.7 425,949.4 542.5,949.5"/>
<path d="M108.5,949.5 330.6,949.5 345.1,949.2 353.8,948.5 359.6,947.4 364,946 368.3,944 372.7,941.3 377.1,937.9 381.4,933.9 395.9,917.7 401.7,911.9 404.6,909.5 407.5,907.7 410.4,906.7 411.9,906.6 413.4,906.7 416.3,907.9 419.2,909.9 422.1,912.6 426.4,917.7 438,932.9 443.8,939 449.6,943.4 452.5,945 456.9,946.8 464.2,948.4 475.8,949.3 542.5,949.5"/>
<path d="M108.5,949.5 358.2,949.5 368.3,949.3 374.2,948.8 378.5,947.8 382.9,945.7 385.8,943.3 388.7,940 391.6,935.7 394.5,930.3 403.2,911.5 406.1,906.2 409,902.7 411.9,900.9 413.4,900.7 414.8,900.9 416.3,901.5 417.7,902.6 420.6,905.7 425,911.7 435.1,927.1 439.5,932.6 442.4,935.7 445.3,938.4 449.6,941.6 452.5,943.2 456.9,945.1 461.3,946.5 467.1,947.7 480.1,949 497.5,949.4 542.5,949.5"/>
<path d="M108.5,949.5 246.4,949.4 256.6,948.9 260.9,948.1 263.8,947.1 268.2,944.6 271.1,941.8 274,937.9 276.9,932.5 281.2,921.6 290,893 292.9,884.4 295.8,878.2 297.2,876.3 298.7,875.3 300.1,875.2 301.6,875.7 304.5,877.9 305.9,879.6 308.8,884.2 313.2,893.2 324.8,920.7 329.2,929.3 332.1,934 335,937.9 339.3,942.3 343.7,945.3 348,947.2 352.4,948.3 356.7,948.9 369.8,949.4 542.5,949.5"/>
<path d="M108.5,949.5 278.3,949.5 288.5,949.1 294.3,948.2 298.7,946.6 301.6,944.8 305.9,940.5 308.8,936.5 313.2,928.6 324.8,903.1 327.7,898.3 329.2,896.4 330.6,895 333.5,893.2 336.4,892.4 339.3,892.1 342.2,892.4 346.6,893.6 350.9,895.7 353.8,897.8 358.2,902.4 375.6,925.6 384.3,935.3 388.7,939.2 393,942.3 397.4,944.7 403.2,946.9 411.9,948.6 425,949.4 542.5,949.5"/>
<path d="M108.5,949.5 343.7,949.5 355.3,949.3 361.1,948.8 365.4,947.7 369.8,945.7 372.7,943.4 375.6,940.3 378.5,936.1 381.4,931.1 390.1,912.8 394.5,905.2 397.4,902 398.8,901.2 401.7,900.5 404.6,901 407.5,902.4 410.4,904.5 413.4,907.1 417.7,911.9 432.2,930 439.5,937.3 442.4,939.7 446.7,942.6 454,945.9 462.7,948.1 475.8,949.2 542.5,949.5"/>
<path d="M108.5,949.5 255.1,949.5 266.7,949.1 275.4,947.9 279.8,946.5 284.2,944.5 288.5,941.5 291.4,938.9 298.7,930.7 313.2,911.2 316.1,907.9 319,905.3 321.9,903.3 324.8,901.9 327.7,901 332.1,900.6 336.4,901.2 339.3,902.4 343.7,905.1 346.6,907.6 352.4,913.9 366.9,932.5 371.3,937.2 374.2,939.9 377.1,942.1 381.4,944.7 385.8,946.6 390.1,947.8 398.8,949 411.9,949.4 542.5,949.5"/>
<path d="M108.5,949.5 278.3,949.5 295.8,949.1 303,948.1 308.8,946.4 314.6,943.8 326.3,937 329.2,935.7 332.1,934.9 335,934.6 339.3,935 350.9,938.5 355.3,938.9 359.6,937.6 368.3,931.9 371.3,930.8 372.7,930.6 378.5,931.7 385.8,933.9 404.6,942.2 411.9,944.9 419.2,946.9 427.9,948.3 438,949.1 451.1,949.4 542.5,949.5"/>
<path d="M108.5,949.5 333.5,949.5 348,949.2 356.7,948.4 362.5,947.2 366.9,945.7 372.7,942.8 377.1,939.8 381.4,936.2 385.8,932.1 406.1,910.3 410.4,906 413.4,903.8 416.3,902.1 419.2,901.3 420.6,901.3 422.1,901.4 425,902.5 426.4,903.4 429.3,906.1 433.7,911.9 443.8,928.2 449.6,935.9 455.4,941.4 458.4,943.3 462.7,945.5 467.1,947 471.4,948 483,949.2 497.5,949.5 542.5,949.5"/>
<path d="M108.5,949.5 256.6,949.5 265.3,949.1 269.6,948.3 272.5,947 275.4,944.9 278.3,941.5 279.8,939.2 284.2,929.6 294.3,899.1 297.2,893.6 298.7,892.2 300.1,891.9 303,892.3 305.9,893.6 308.8,895.5 313.2,899.6 319,906.7 333.5,926.5 339.3,933.1 343.7,937.3 348,940.7 352.4,943.3 356.7,945.3 362.5,947.1 372.7,948.7 388.7,949.4 542.5,949.5"/>
<path d="M108.5,949.5 276.9,949.5 287.1,949.2 292.9,948.4 297.2,947 300.1,945.6 303,943.7 307.4,939.8 313.2,933 323.3,919.9 336.4,899.9 339.3,896.9 340.8,896 342.2,895.4 343.7,895.4 345.1,895.8 348,897.7 352.4,902.8 356.7,909.9 366.9,927.8 371.3,934.2 374.2,937.6 377.1,940.5 381.4,943.7 385.8,945.9 390.1,947.4 398.8,948.8 413.4,949.4 542.5,949.5"/>
<path d="M108.5,949.5 287.1,949.5 300.1,949.2 307.4,948.5 311.7,947.6 316.1,946.1 320.4,943.9 323.3,941.8 326.3,939.2 330.6,934.5 340.8,921 345.1,915.9 349.5,912.2 352.4,911 353.8,910.8 356.7,911.2 358.2,912 361.1,914.4 365.4,920 375.6,935.3 378.5,938.9 381.4,941.8 384.3,944.1 387.2,945.9 390.1,947.1 394.5,948.3 401.7,949.2 411.9,949.5 542.5,949.5"/>
<path d="M108.5,949.5 249.3,949.4 260.9,948.8 268.2,947.4 272.5,945.6 276.9,942.7 281.2,938.5 284.2,934.8 287.1,930.2 291.4,921.9 301.6,898.2 305.9,889.3 308.8,885.2 310.3,884 311.7,883.3 313.2,883.2 314.6,883.7 317.5,885.8 321.9,891.3 326.3,898.9 339.3,924.8 343.7,931.8 346.6,935.8 349.5,939 353.8,942.8 358.2,945.5 362.5,947.2 366.9,948.2 371.3,948.8 384.3,949.4 542.5,949.5"/>
<path d="M108.5,949.5 278.3,949.5 291.4,948.9 298.7,947.6 303,946 307.4,943.3 311.7,939.3 314.6,935.7 317.5,931.4 321.9,923.6 333.5,898.7 337.9,890.9 340.8,887 342.2,885.6 345.1,884 346.6,883.9 348,884.1 350.9,885.5 353.8,888.1 356.7,891.8 361.1,899 374.2,923.9 378.5,930.6 381.4,934.3 384.3,937.4 388.7,941.1 393,943.7 398.8,946.1 403.2,947.2 409,948.2 416.3,948.9 425,949.3 542.5,949.5"/>
<path d="M108.5,949.5 300.1,949.5 310.3,949.1 316.1,948 320.4,945.9 323.3,943.6 326.3,940 329.2,934.9 333.5,924.3 342.2,895.6 345.1,887.3 348,881.9 349.5,880.5 350.9,879.9 352.4,880.1 355.3,881.7 358.2,884.4 361.1,888.2 366.9,897.8 380,922 384.3,928.9 387.2,932.8 391.6,937.6 395.9,941.4 400.3,944.1 404.6,946 409,947.4 414.8,948.4 427.9,949.3 542.5,949.5"/>
<path d="M108.5,949.5 256.6,949.5 265.3,949.2 271.1,948.2 274,947.1 276.9,945.2 279.8,942.5 282.7,938.5 285.6,933.3 288.5,926.8 297.2,904.8 300.1,899 301.6,896.9 303,895.3 304.5,894.3 307.4,892.9 311.7,891.7 316.1,891.4 323.3,892 329.2,893.1 335,895.3 339.3,897.9 343.7,901.7 348,906.4 365.4,929.4 372.7,937.5 377.1,941.1 381.4,944 385.8,946 390.1,947.4 398.8,948.8 411.9,949.4 542.5,949.5"/>
</g>
<path d="M108.5,949.5 285.6,949.5 287.1,949.4 288.5,948.7 290,947.3 291.4,945.3 292.9,941 294.3,934.6 295.8,926.4 297.2,913.3 301.6,858.9 307.4,760.5 308.8,741 311.7,714.3 313.2,703.9 314.6,696.5 316.1,692.2 317.5,689.1 319,687.4 321.9,686.5 323.3,686.4 326.3,686.9 329.2,688.1 330.6,689 332.1,690.5 333.5,692.7 336.4,698.4 337.9,701.8 339.3,706.2 342.2,718 345.1,732.4 346.6,740.5 348,750.4 353.8,795.7 355.3,805.6 359.6,831.8 364,854.6 365.4,860.9 368.3,870.9 374.2,886.1 375.6,890.4 381.4,911.8 384.3,921.2 388.7,931.8 391.6,937.7 393,939.9 394.5,941.6 397.4,943.8 400.3,945.6 403.2,946.9 407.5,948.2 417.7,949.2 425,949.5 542.5,949.5" fill="none" stroke="#000" stroke-width="7.5" stroke-linecap="butt" stroke-linejoin="round" clip-path="url(#cpc)"/>
<path d="M108.5,949.5 297.7,949.5 300.4,691.7 310.3,707.4 320.3,722.4 330.3,736.7 340.2,750.5 350.2,763.8 360.2,776.7 380.1,801.2 390.1,813.2 400,824.4 405,829.6 410,834.4 415,838.9 425,847.2 429.9,851.1 439.9,858 444.9,861.1 447.1,949.5 542.5,949.5" fill="none" stroke="#a00000" stroke-width="5.6" stroke-dasharray="20.7 9" stroke-linecap="butt" stroke-linejoin="round" clip-path="url(#cpc)"/>
<path d="M108.5,949.5 300.4,949.5 303.8,702.4 315.2,724.9 326.5,745.7 337.9,764.7 349.3,782 356.8,792.7 364.4,802.9 379.6,822.8 387.1,832.3 394.7,841.4 402.3,850 413.6,862.1 416.7,949.5 542.5,949.5" fill="none" stroke="#bf0000" stroke-width="5.6" stroke-opacity="0.8" stroke-linecap="square" stroke-linejoin="round" clip-path="url(#cpc)"/>
<text x="126" y="568.1" font-size="25" text-anchor="start" stroke="#000" stroke-width="0.35">Δ<tspan font-style="italic" dx="0.20">t</tspan> <tspan dx="-2.80">=</tspan> <tspan dx="-2.55">2</tspan> <tspan dx="-2.45">ns</tspan></text>
<text x="0.3" y="571.6" font-size="29" text-anchor="start" stroke="#000" stroke-width="0.35" font-weight="bold">c</text>
<clipPath id="cpd"><rect x="693.1" y="589.5" width="433.9" height="379.5"/></clipPath>
<path d="M693.1,589.5 V969 H1127" fill="none" stroke="#000" stroke-width="3" stroke-linecap="square" stroke-linejoin="miter"/>
<path d="M755.1,969v12.5M879.1,969v12.5M1003,969v12.5M1127,969v12.5M693.1,949.5h-12.5M693.1,896.2h-12.5M693.1,843h-12.5M693.1,789.7h-12.5M693.1,736.4h-12.5M693.1,683.2h-12.5M693.1,629.9h-12.5" stroke="#000" stroke-width="3" fill="none"/>
<text x="755.1" y="1011.2" font-size="21.4" text-anchor="middle" stroke="#000" stroke-width="0.35">10</text>
<text x="879.1" y="1011.2" font-size="21.4" text-anchor="middle" stroke="#000" stroke-width="0.35">15</text>
<text x="1003" y="1011.2" font-size="21.4" text-anchor="middle" stroke="#000" stroke-width="0.35">20</text>
<text x="1127" y="1011.2" font-size="21.4" text-anchor="middle" stroke="#000" stroke-width="0.35">25</text>
<text x="667.8" y="958.5" font-size="21.4" text-anchor="end" stroke="#000" stroke-width="0.35">0</text>
<text x="667.8" y="905.2" font-size="21.4" text-anchor="end" stroke="#000" stroke-width="0.35">5</text>
<text x="667.8" y="852" font-size="21.4" text-anchor="end" stroke="#000" stroke-width="0.35">10</text>
<text x="667.8" y="798.7" font-size="21.4" text-anchor="end" stroke="#000" stroke-width="0.35">15</text>
<text x="667.8" y="745.4" font-size="21.4" text-anchor="end" stroke="#000" stroke-width="0.35">20</text>
<text x="667.8" y="692.2" font-size="21.4" text-anchor="end" stroke="#000" stroke-width="0.35">25</text>
<text x="667.8" y="638.9" font-size="21.4" text-anchor="end" stroke="#000" stroke-width="0.35">30</text>
<text x="908.6" y="1048.5" font-size="25" text-anchor="middle" stroke="#000" stroke-width="0.35"><tspan font-style="italic">R</tspan>/µm</text>
<text x="615.6" y="779.3" font-size="25.6" text-anchor="middle" stroke="#000" stroke-width="0.35" transform="rotate(-90 615.6 779.3)"><tspan font-style="italic">p</tspan>/GPa</text>
<g clip-path="url(#cpd)" fill="none" stroke="#000" stroke-opacity="0.2" stroke-width="3.75" stroke-linejoin="round">
<path d="M693.1,949.5 817.4,949.5 818.7,949 821.2,946.7 823.6,942.6 827.4,934 838.6,900.4 843.5,887.3 851,872.8 865.9,847.2 872.1,835.9 878.3,823.2 883.3,812 885.8,805.5 888.3,797.7 895.8,767.3 898.2,759.3 899.5,756.5 902,751.7 904.5,748.6 906.9,746.8 911.9,744.3 914.4,742.6 916.9,739.8 918.1,737 920.6,728.6 924.3,711.6 930.6,664.7 935.5,643.7 936.8,640.4 938,638.6 939.3,639.2 940.5,643.5 941.8,650.8 951.7,725.4 956.7,764.8 964.1,829.4 967.9,856.3 974.1,890.1 977.8,907 981.5,919.3 982.8,922.1 985.3,926.4 989,932 992.7,936.6 996.5,940.2 998.9,942.1 1002.7,944 1007.6,945.8 1013.9,947.6 1020.1,948.9 1027.5,949.5 1127,949.5"/>
<path d="M693.1,949.5 808.7,949.5 811.2,949.2 812.5,948.6 813.7,947.7 816.2,945 819.9,939.2 823.6,932 834.8,907.6 838.6,900.8 841,897.2 846,891.8 851,887.2 870.9,871.8 879.6,863.7 885.8,856.3 903.2,833.1 923.1,811.7 925.6,808.1 929.3,801.4 931.8,798 933.1,797.3 934.3,797.2 935.5,797.7 940.5,801.3 943,802.4 945.5,802.2 948,801.3 954.2,797.8 957.9,794.9 964.1,788.8 967.9,783.4 969.1,782 970.3,781.2 971.6,782.3 972.8,787.9 974.1,796.9 977.8,828.7 982.8,885.5 984,897.2 985.3,905.3 987.8,913.4 991.5,922.9 995.2,930 998.9,935.1 1002.7,938.6 1012.6,945 1018.8,947.8 1025.1,949.3 1127,949.5"/>
<path d="M693.1,949.5 816.2,949.5 819.9,948.9 823.6,946.7 828.6,941.6 833.6,934.8 844.8,917.7 851,909.8 853.5,907.5 859.7,902.9 873.4,893.7 880.8,889.3 888.3,885.6 894.5,883 900.7,881 910.7,879 934.3,876.3 940.5,875.1 944.2,873.8 948,871.9 952.9,868.6 967.9,857.5 977.8,849.2 980.3,847.8 982.8,847.2 984,847.6 985.3,849.3 986.5,852.2 992.7,870.7 1001.4,902.3 1005.2,912.3 1010.1,924.1 1013.9,931.4 1016.3,935 1021.3,939.8 1027.5,944.7 1033.8,948.1 1037.5,949.2 1040,949.5 1127,949.5"/>
<path d="M693.1,949.5 778.9,949.3 797.5,948.2 803.8,947.4 808.7,946.3 813.7,944.9 818.7,942.9 822.4,940.9 826.1,938.1 831.1,932.8 841,918.5 844.8,915.1 846,914.4 848.5,914.1 851,914.7 857.2,917.5 859.7,917.7 862.2,916.7 863.4,915.8 865.9,912.9 874.6,899.1 877.1,896.3 879.6,894.9 880.8,894.7 883.3,895.1 890.8,899.8 893.3,900.7 894.5,900.8 895.8,900.7 898.2,899.7 905.7,894.4 909.4,892.9 910.7,892.9 913.2,893.4 919.4,896.7 921.9,897.7 924.3,898 925.6,897.8 929.3,895.9 935.5,891.3 938,890.2 939.3,890 941.8,890.4 944.2,891.8 952.9,900.4 956.7,903.2 960.4,904.7 966.6,906.2 969.1,907.3 971.6,908.9 975.3,912.4 984,922 1002.7,940.8 1007.6,944.7 1012.6,947 1016.3,947.9 1021.3,948.5 1041.2,949.3 1127,949.5"/>
<path d="M693.1,949.5 764,949.5 786.3,949.1 795,948.6 801.3,947.8 806.2,946.8 811.2,945.1 816.2,942.7 821.2,938.9 824.9,935 828.6,929.7 831.1,925.3 834.8,917.4 846,890.2 848.5,885.7 851,882.5 853.5,880.8 854.7,880.5 857.2,881 860.9,883.9 867.2,891 869.6,893.3 872.1,894.5 874.6,894.5 877.1,893 880.8,888.5 888.3,875.1 892,869.3 894.5,866.9 897,866 899.5,866.6 900.7,867.5 903.2,870.3 906.9,876.3 913.2,888 916.9,893.9 920.6,898.4 926.8,904.6 930.6,909.4 934.3,915.9 943,933.3 946.7,939.2 949.2,942.1 951.7,944.3 954.2,946 956.7,947.1 960.4,948.1 965.4,948.8 980.3,949.4 1127,949.5"/>
<path d="M693.1,949.5 792.6,949.4 805,949 812.5,948.1 816.2,947 818.7,946 823.6,942.6 828.6,937.5 837.3,926.2 842.3,921.4 846,919.2 857.2,915.1 860.9,913 868.4,908 872.1,906.1 875.9,905.2 879.6,905.5 883.3,906.9 893.3,912.3 897,913.3 899.5,913.3 902,912.8 904.5,911.8 915.6,904.8 918.1,903.9 920.6,903.6 923.1,904.3 925.6,905.8 929.3,910.1 933.1,916.8 941.8,936.6 945.5,942.7 949.2,946.2 951.7,947.5 954.2,948.3 960.4,949.1 972.8,949.5 1127,949.5"/>
<path d="M693.1,949.5 790.1,949.2 803.8,948.1 810,947 814.9,945.5 818.7,943.7 821.2,941.8 823.6,939.3 826.1,936.3 833.6,925.3 841,915.5 844.8,909.8 847.3,905.1 853.5,891.2 856,886.5 858.5,883.4 859.7,882.7 860.9,882.6 862.2,883.1 863.4,884.1 865.9,887.8 872.1,900.9 874.6,905.5 877.1,908.5 879.6,909.9 880.8,910 883.3,909.3 889.5,905.5 892,904.6 894.5,904.3 900.7,904.8 904.5,904 908.2,901.3 913.2,896.2 915.6,894.1 918.1,893.1 919.4,893.2 921.9,894.5 924.3,897.4 933.1,913 935.5,916.4 938,918.3 939.3,918.7 941.8,918.4 944.2,917.2 950.5,912.8 954.2,911.5 957.9,911.9 964.1,914 971.6,916 974.1,917.6 976.6,920.4 979.1,924.5 985.3,936.9 989,942.5 992.7,945.9 995.2,947.2 997.7,948 1005.2,949 1017.6,949.4 1127,949.5"/>
<path d="M693.1,949.5 777.6,949.3 793.8,948.5 797.5,948.1 801.3,947.1 805,945.3 808.7,942.2 812.5,937.6 818.7,928.1 822.4,923.1 824.9,920.4 832.3,913.8 841,903.1 843.5,900.4 847.3,897.8 853.5,895.6 856,894.3 858.5,892.4 864.7,886.3 867.2,884.6 868.4,884.2 870.9,884.6 873.4,886.6 880.8,897 883.3,899.5 884.6,900.2 885.8,900.5 888.3,899.8 890.8,897.7 894.5,893.7 897,891.8 898.2,891.4 899.5,891.5 900.7,892.2 902,893.4 904.5,897.3 914.4,921.6 916.9,926.2 919.4,929.8 924.3,935.1 933.1,942.8 938,945.9 943,947.7 951.7,949 965.4,949.4 1127,949.5"/>
<path d="M693.1,949.5 776.4,949.3 790.1,948.7 800,947.4 806.2,945.4 810,943.4 812.5,941.6 817.4,936.9 827.4,925.2 832.3,920.8 836.1,918.7 844.8,915.7 848.5,913.9 858.5,907.5 862.2,905.4 865.9,904.2 869.6,903.9 873.4,904.5 880.8,906.2 885.8,906.4 889.5,905.7 897,903.1 900.7,902.4 903.2,902.6 905.7,903.3 908.2,904.7 910.7,906.7 914.4,910.5 921.9,919.2 926.8,924.5 934.3,931.2 944.2,939.3 949.2,942.7 952.9,944.7 956.7,946.2 961.6,947.5 972.8,948.8 991.5,949.4 1127,949.5"/>
<path d="M693.1,949.5 798.8,949.3 806.2,948.9 813.7,948.1 826.1,945.5 832.3,943.4 836.1,941.4 839.8,938.3 842.3,935.4 847.3,927.3 857.2,906.9 859.7,902.9 862.2,900.1 864.7,898.6 867.2,898.1 869.6,898.4 875.9,900.2 879.6,900.2 883.3,898.9 890.8,894.4 894.5,893.2 897,893.6 898.2,894.2 899.5,895.1 902,897.7 905.7,903.4 915.6,921.9 918.1,925.5 921.9,929.6 925.6,932.3 934.3,937.1 945.5,943.9 950.5,946.2 955.4,947.7 964.1,949 977.8,949.4 1127,949.5"/>
<path d="M693.1,949.5 767.7,949.4 788.8,948.9 800,947.8 808.7,946.2 814.9,944.2 819.9,941.5 823.6,938.2 826.1,934.9 829.9,928.1 832.3,921.9 837.3,905.4 847.3,862.7 851,849 853.5,842.2 856,837.7 857.2,836.3 858.5,835.6 859.7,835.5 860.9,835.9 862.2,836.9 863.4,838.5 865.9,842.8 869.6,851.8 875.9,868.8 879.6,877.3 882.1,881.3 883.3,882.8 885.8,884.5 887,884.7 888.3,884.5 890.8,882.8 894.5,877.6 898.2,870 905.7,852.7 908.2,847.7 910.7,843.7 913.2,840.9 915.6,839.4 918.1,839.4 920.6,840.8 923.1,843.5 926.8,849.7 930.6,857.8 938,875.6 941.8,883.4 945.5,889.3 948,892 950.5,893.7 951.7,894.1 954.2,894.1 957.9,892.3 965.4,885.6 967.9,884 969.1,883.6 970.3,883.6 971.6,884.2 972.8,885.4 975.3,889.9 977.8,897.4 984,922.9 987.8,935.2 990.2,940.6 992.7,944.2 995.2,946.4 997.7,947.7 1002.7,948.9 1012.6,949.4 1127,949.5"/>
<path d="M693.1,949.5 790.1,949.4 802.5,948.8 811.2,947.4 814.9,946.1 817.4,944.7 819.9,942.9 822.4,940.5 826.1,935.8 834.8,923.7 844.8,913 854.7,900.4 858.5,897.3 860.9,896.3 863.4,896.1 870.9,897.5 873.4,897.5 877.1,896.7 883.3,894.5 885.8,894.3 889.5,895.1 898.2,900.4 900.7,901 902,900.9 904.5,899.9 906.9,897.8 914.4,888.9 916.9,886.6 919.4,885.2 921.9,884.7 924.3,884.9 931.8,886.6 940.5,886.2 944.2,887.3 946.7,889.1 949.2,891.9 956.7,902.9 959.2,905.9 961.6,908 962.9,908.7 964.1,909.1 966.6,909.1 969.1,908.4 975.3,905.8 977.8,905.4 981.5,906 984,907.4 987.8,911.2 990.2,915.1 992.7,920.4 998.9,935.7 1001.4,940.6 1002.7,942.5 1005.2,945.3 1007.6,947.1 1010.1,948.2 1015.1,949.1 1023.8,949.5 1127,949.5"/>
<path d="M693.1,949.5 754,949.4 775.2,949.1 790.1,947.9 796.3,946.8 801.3,945.3 807.5,942.7 819.9,936.5 824.9,934.8 834.8,932.8 838.6,931.1 841,929.3 843.5,926.8 847.3,921.7 858.5,901.5 862.2,895.7 864.7,892.8 867.2,890.8 868.4,890.1 870.9,889.5 874.6,890.1 878.3,892.2 890.8,902.9 903.2,912.2 906.9,915.9 909.4,918.8 920.6,935.5 924.3,940.2 926.8,942.5 930.6,945.1 933.1,946.3 936.8,947.5 941.8,948.4 946.7,948.9 961.6,949.4 1127,949.5"/>
<path d="M693.1,949.5 760.2,949.5 783.9,949.1 790.1,948.5 795,947.6 800,946 805,943.8 808.7,941.7 812.5,938.7 816.2,934.3 818.7,930.2 822.4,921.9 831.1,897.2 833.6,891.5 836.1,887.3 837.3,885.9 839.8,884 846,881.8 849.8,879.2 852.2,876.3 858.5,866.8 860.9,863.6 863.4,861.6 864.7,861.1 865.9,861.1 867.2,861.5 869.6,863.4 878.3,874.5 880.8,876.5 882.1,877.1 883.3,877.3 885.8,876.7 894.5,870.9 897,870.1 898.2,870.2 899.5,870.5 902,871.9 904.5,874.2 910.7,881.1 914.4,883.9 918.1,884.8 926.8,883.3 930.6,883.9 934.3,886.2 941.8,892.4 944.2,893.6 946.7,893.7 949.2,892.9 955.4,888.4 957.9,887.2 959.2,887 960.4,887.3 961.6,888.2 964.1,891.6 966.6,897.4 975.3,927.5 979.1,936.9 981.5,941 984,943.8 986.5,945.6 990.2,947.3 994,948.3 997.7,948.9 1007.6,949.4 1127,949.5"/>
<path d="M693.1,949.5 772.7,949.5 801.3,949.2 807.5,948.9 813.7,948.1 827.4,945.1 831.1,943.7 833.6,942.2 836.1,940 838.6,936.8 841,932.4 843.5,926.9 852.2,904.7 854.7,899.8 857.2,896.2 860.9,893 868.4,888.5 875.9,882.4 879.6,880.7 880.8,880.5 883.3,880.9 887,882.7 894.5,887.6 900.7,890.8 908.2,893.8 911.9,894.2 914.4,893.4 916.9,891.7 919.4,889 925.6,881.2 928.1,879.5 929.3,879.3 930.6,879.7 931.8,880.8 933.1,882.6 935.5,888.3 938,896.6 945.5,926.3 949.2,936.5 951.7,940.9 954.2,943.9 956.7,945.9 960.4,947.7 966.6,949 976.6,949.5 1127,949.5"/>
<path d="M693.1,949.5 787.6,949.4 801.3,948.7 811.2,947 817.4,945.2 822.4,943.1 827.4,940.4 832.3,936.8 836.1,933.4 839.8,929.4 853.5,912.9 858.5,908.4 862.2,906.1 864.7,905.1 868.4,904.2 883.3,903.7 898.2,901.6 902,901.9 904.5,902.6 908.2,904.7 910.7,906.7 913.2,909.3 916.9,914 929.3,931.9 933.1,936.1 936.8,939.5 940.5,942 944.2,943.9 949.2,945.8 954.2,947.1 965.4,948.7 981.5,949.4 1127,949.5"/>
<path d="M693.1,949.5 780.1,949.4 788.8,949.1 795,948.2 798.8,947.3 802.5,945.9 807.5,942.8 811.2,939.2 818.7,929.9 821.2,927.8 822.4,927.1 823.6,926.8 826.1,927 832.3,929.2 834.8,928.9 836.1,928.3 837.3,927.3 839.8,924.3 847.3,912.2 849.8,909.5 851,908.8 852.2,908.4 854.7,909 857.2,910.9 863.4,917.2 865.9,918.7 867.2,919 869.6,918.9 875.9,916.3 879.6,915.6 882.1,915.9 887,917.6 889.5,917.8 892,916.9 893.3,916 895.8,913.4 902,905.2 904.5,903.3 905.7,903 906.9,903.2 909.4,905 911.9,908.4 918.1,918.3 920.6,920.4 921.9,920.8 923.1,920.7 925.6,919.2 931.8,911.5 934.3,909 936.8,907.8 938,907.7 939.3,907.9 941.8,909.3 948,914.4 950.5,915.8 952.9,916.5 959.2,916.9 962.9,918.4 965.4,920.3 971.6,926.6 974.1,928.3 975.3,928.7 976.6,928.8 979.1,927.9 981.5,925.8 986.5,920.5 989,919.2 990.2,919.3 991.5,920 994,923.3 1000.2,937.5 1003.9,943.9 1005.2,945.3 1007.6,947.1 1011.4,948.5 1017.6,949.2 1026.3,949.5 1127,949.5"/>
<path d="M693.1,949.5 786.3,949.3 798.8,948.7 806.2,947.5 811.2,945.8 816.2,943.2 827.4,935.7 836.1,930.4 839.8,927.5 842.3,924.9 844.8,921.5 856,902.4 858.5,899.5 859.7,898.6 862.2,897.7 863.4,897.8 865.9,898.9 868.4,901 874.6,908 877.1,910.2 879.6,911.4 882.1,911.4 884.6,910.3 887,908 897,895.1 899.5,893.2 902,892.3 904.5,892.9 905.7,893.6 908.2,896 911.9,901.4 920.6,916 924.3,920.2 925.6,921.1 928.1,922.1 930.6,922 933.1,921.1 936.8,918.4 945.5,910.9 949.2,908.7 952.9,907.4 957.9,906.9 969.1,907.1 974.1,907.8 977.8,909.4 981.5,912.3 985.3,917.1 989,923.9 995.2,936.9 998.9,942.6 1002.7,946 1005.2,947.3 1007.6,948.1 1013.9,949.1 1023.8,949.4 1127,949.5"/>
<path d="M693.1,949.5 757.7,949.4 780.1,948.9 788.8,948.3 795,947.5 801.3,946 806.2,944.2 812.5,941.1 818.7,937.1 823.6,933.1 827.4,929.2 831.1,924.2 833.6,920.2 846,896.7 849.8,891.5 852.2,889 856,886.5 863.4,883.4 867.2,881.3 870.9,878.3 878.3,871.3 880.8,869.5 883.3,868.4 885.8,868 888.3,868.4 898.2,872.6 900.7,872.9 903.2,872.2 905.7,870.5 908.2,868 916.9,855.8 919.4,852.9 921.9,850.9 923.1,850.3 925.6,849.9 929.3,850.8 936.8,855.3 940.5,856.6 944.2,856.7 950.5,855.5 952.9,855.5 954.2,855.9 956.7,857.4 959.2,860.4 961.6,864.8 965.4,874.2 976.6,911.3 980.3,922.1 982.8,928.1 986.5,935.2 990.2,940.4 994,943.9 997.7,946.2 1001.4,947.6 1005.2,948.4 1016.3,949.3 1127,949.5"/>
<path d="M693.1,949.5 767.7,949.4 792.6,948.8 801.3,948 808.7,945.9 819.9,941.6 824.9,938.9 828.6,935.7 834.8,928.5 838.6,925.2 841,924 847.3,923.3 849.8,921.8 851,920.5 853.5,916.5 860.9,898.4 863.4,894 864.7,892.6 865.9,891.9 867.2,891.8 868.4,892.2 874.6,897.3 875.9,897.8 877.1,897.9 878.3,897.4 880.8,894.7 888.3,881.5 890.8,879.3 892,879 893.3,879.3 894.5,880 898.2,883.4 900.7,885.1 902,885.3 903.2,884.9 904.5,883.9 906.9,880.2 910.7,872.3 913.2,867.9 914.4,866.5 915.6,865.9 916.9,866.1 918.1,867.3 919.4,869.3 921.9,875.3 926.8,889.6 929.3,894 930.6,894.9 931.8,895 933.1,894.1 934.3,892.5 939.3,882.7 941.8,879 943,878.2 944.2,878.2 945.5,879 948,882.9 956.7,905.4 970.3,934.3 972.8,938.8 975.3,942.3 977.8,944.8 981.5,947 985.3,948 989,948.5 1005.2,949.4 1127,949.5"/>
<path d="M693.1,949.5 785.1,949.3 792.6,948.8 797.5,948.1 801.3,947.2 805,945.4 807.5,943.4 810,940.2 812.5,935.3 814.9,928.3 818.7,913.4 827.4,869.9 829.9,860.8 832.3,854.6 834.8,851.2 837.3,849.9 839.8,849.9 844.8,851 847.3,851 849.8,850.5 856,847.9 858.5,847.5 860.9,848.2 862.2,849 863.4,850.1 865.9,853.5 868.4,858 877.1,876.9 879.6,880.6 882.1,882.7 883.3,883 884.6,882.9 887,881.3 889.5,878.3 897,866.6 899.5,864 900.7,863.3 902,863 903.2,863.2 905.7,864.9 908.2,868.4 910.7,873.4 924.3,908.1 929.3,918.5 934.3,927.6 939.3,935.4 943,939.9 948,944.2 952.9,946.8 956.7,947.8 961.6,948.6 980.3,949.4 1127,949.5"/>
<path d="M693.1,949.5 791.3,949.3 806.2,948.8 814.9,947.6 819.9,946.1 823.6,944.4 827.4,941.9 831.1,938.3 833.6,935.3 837.3,929.8 847.3,911.7 851,905.8 854.7,901.6 858.5,899.3 860.9,898.9 863.4,899.1 872.1,902.1 877.1,903 880.8,902.9 889.5,901.9 893.3,902.2 898.2,903.8 908.2,909.2 910.7,910.1 913.2,910.5 915.6,910.3 919.4,908.7 921.9,907.1 930.6,900.1 933.1,898.8 935.5,898.2 938,898.5 939.3,898.9 943,901.7 946.7,906.2 955.4,918.2 957.9,920.7 960.4,922.4 962.9,923 965.4,922.7 967.9,921.5 975.3,916.4 977.8,915.7 980.3,916.4 981.5,917.3 984,920.4 991.5,934.8 995.2,941 997.7,943.8 1000.2,945.8 1002.7,947.1 1005.2,948 1011.4,949 1023.8,949.4 1127,949.5"/>
<path d="M693.1,949.5 803.8,949.4 813.7,949 819.9,947.8 822.4,946.8 824.9,945.2 827.4,942.8 829.9,939.5 833.6,932.4 841,913.5 843.5,908 846,903.9 848.5,901.3 851,900.3 853.5,900.4 856,901.3 863.4,904.9 867.2,905.5 869.6,905.2 872.1,904.1 875.9,901.5 885.8,891.5 889.5,888.3 892,886.7 894.5,885.7 898.2,885.2 900.7,885.5 903.2,886.4 908.2,889.1 918.1,896.3 924.3,901.7 928.1,905.9 931.8,911.4 943,932.7 946.7,938.5 949.2,941.5 952.9,944.7 955.4,946.2 959.2,947.6 962.9,948.4 967.9,949 981.5,949.4 1127,949.5"/>
<path d="M693.1,949.5 800,949.3 813.7,948.5 823.6,946.6 828.6,945 833.6,942.7 838.6,939.6 842.3,936.6 848.5,929.9 859.7,915.1 863.4,911.1 865.9,909.1 868.4,907.7 870.9,906.8 880.8,905.3 884.6,904.1 888.3,902.2 898.2,895.3 900.7,894.2 903.2,894 905.7,894.6 908.2,896.3 911.9,900.9 915.6,907.6 925.6,928.6 929.3,934.8 931.8,938 935.5,941.6 939.3,944 943,945.7 948,947.2 957.9,948.8 972.8,949.4 1127,949.5"/>
<path d="M693.1,949.5 798.8,949.4 811.2,948.8 819.9,947.3 824.9,945.6 828.6,943.8 832.3,941.3 836.1,938.1 842.3,931 856,912.3 859.7,908.3 863.4,905.3 867.2,903.3 870.9,902.1 882.1,901 887,899.9 892,897.7 902,892.4 905.7,891.1 908.2,890.9 910.7,891.1 914.4,892.5 918.1,894.9 925.6,901.2 929.3,903.9 933.1,905.6 935.5,906.1 938,906 941.8,904.7 945.5,902.5 952.9,897.3 956.7,895.5 959.2,895 961.6,895.1 965.4,896.5 967.9,898.3 970.3,900.8 975.3,907.8 980.3,917.3 987.8,934.3 991.5,940.9 994,944 996.5,946 998.9,947.4 1001.4,948.2 1007.6,949.1 1017.6,949.5 1127,949.5"/>
<path d="M693.1,949.5 797.5,949.3 812.5,948.3 818.7,947.3 824.9,945.8 829.9,944 833.6,941.9 837.3,939 839.8,936.4 844.8,929.1 854.7,909.6 858.5,903.3 862.2,899.1 864.7,897.7 867.2,897.4 870.9,898.6 882.1,907.3 884.6,908.7 887,909.6 889.5,910 893.3,909.7 903.2,906.7 906.9,906 909.4,906.1 911.9,906.6 915.6,908.2 918.1,910 920.6,912.4 924.3,917.1 935.5,935.8 939.3,940.9 941.8,943.5 944.2,945.4 948,947.2 951.7,948.3 959.2,949.2 970.3,949.5 1127,949.5"/>
<path d="M693.1,949.5 797.5,949.3 811.2,948.7 818.7,947.5 822.4,946.2 826.1,944.2 829.9,941.4 832.3,939 837.3,933.2 851,914.8 854.7,910.4 858.5,906.7 860.9,904.7 863.4,903.2 865.9,902.3 868.4,902.1 870.9,902.4 873.4,903.3 883.3,908.3 887,908.9 889.5,908.7 892,907.9 899.5,904.3 902,903.5 904.5,903.5 906.9,904.4 909.4,906.3 913.2,911 924.3,931 928.1,936.4 930.6,939.2 934.3,942.3 938,944.4 943,946.3 949.2,947.8 960.4,949 975.3,949.4 1127,949.5"/>
<path d="M693.1,949.5 805,949.3 816.2,948.5 819.9,947.6 823.6,946.2 827.4,943.9 829.9,941.7 833.6,937 836.1,932.9 841,922.5 854.7,888.6 858.5,880.7 860.9,876.2 863.4,872.6 865.9,869.9 868.4,868.3 870.9,867.9 873.4,868.6 875.9,870.4 879.6,874.5 887,884.9 889.5,887.9 893.3,891 895.8,891.8 898.2,891.7 902,889.7 905.7,886.1 911.9,878.9 915.6,875.6 918.1,874.5 919.4,874.4 921.9,875 923.1,875.8 924.3,877 926.8,880.4 930.6,887.9 934.3,897.8 943,922.9 945.5,928.9 948,933.9 950.5,937.8 954.2,942.1 957.9,944.8 962.9,947 966.6,947.9 971.6,948.7 986.5,949.4 1127,949.5"/>
<path d="M693.1,949.5 787.6,949.2 800,948.1 805,947.1 810,945.4 816.2,942.1 821.2,938.3 826.1,933.3 829.9,928.6 833.6,922.9 837.3,916.2 847.3,895.6 851,888.5 854.7,882.8 858.5,878.9 860.9,877.4 864.7,876.6 868.4,877.2 878.3,881 882.1,881.2 884.6,880.6 887,879.3 889.5,877.5 900.7,866.6 904.5,864.3 906.9,863.7 909.4,864.1 911.9,865.5 914.4,867.8 918.1,872.8 921.9,879.2 934.3,902.7 948,926.7 952.9,934.6 956.7,939.4 959.2,941.9 962.9,944.7 966.6,946.6 970.3,947.8 975.3,948.7 987.8,949.4 1127,949.5"/>
<path d="M693.1,949.5 793.8,949.3 813.7,948.7 818.7,948.1 824.9,946.8 837.3,943.2 839.8,942 842.3,940.4 844.8,938.1 847.3,935.1 854.7,924.1 857.2,921.4 858.5,920.6 859.7,920 862.2,920.1 864.7,921.3 869.6,924.8 872.1,925.8 873.4,925.8 874.6,925.5 877.1,923.8 879.6,921.1 884.6,914.6 888.3,911.2 889.5,910.6 892,910.2 898.2,911.1 900.7,910.5 902,909.8 903.2,908.7 905.7,905.5 913.2,893.4 915.6,891.3 916.9,891 918.1,891.3 919.4,892.2 920.6,893.6 923.1,897.8 928.1,908.7 930.6,913.3 933.1,916 934.3,916.6 935.5,916.6 938,915 944.2,906.9 946.7,904.6 948,904.1 949.2,904 950.5,904.5 951.7,905.5 952.9,907 955.4,911.2 964.1,929.9 969.1,938.5 971.6,941.7 975.3,945.3 977.8,946.9 981.5,948.3 986.5,949.2 995.2,949.5 1127,949.5"/>
<path d="M693.1,949.5 786.3,949.4 798.8,948.4 802.5,947.7 806.2,946.5 808.7,945.2 811.2,943.4 814.9,939.2 818.7,933.3 829.9,913.6 832.3,908 834.8,900.9 843.5,870.6 846,864.5 848.5,860.7 851,859 858.5,858.4 865.9,854.8 867.2,854.7 868.4,855.1 869.6,855.9 872.1,859.3 874.6,864.6 878.3,874 880.8,879.2 882.1,881 883.3,882 884.6,882.3 885.8,881.8 888.3,878.8 894.5,865.8 897,861.8 898.2,860.5 900.7,859.3 906.9,860.1 909.4,859.4 911.9,857.5 916.9,852 919.4,850.5 920.6,850.5 921.9,851.1 924.3,854.2 926.8,859.3 931.8,871.3 934.3,875.6 935.5,877 936.8,877.8 938,878.1 939.3,877.9 944.2,874.8 946.7,873.9 948,874 949.2,874.5 951.7,876.8 959.2,888.5 961.6,891.8 966.6,897.3 970.3,903.2 972.8,908.7 980.3,928.9 984,936.4 987.8,941.1 990.2,943.1 994,945.1 998.9,946.9 1003.9,948.1 1008.9,948.8 1016.3,949.3 1127,949.5"/>
<path d="M693.1,949.5 765.2,949.5 786.3,949 792.6,948.4 797.5,947.5 810,944.3 813.7,942.9 817.4,940.1 821.2,934.9 823.6,930 831.1,912 833.6,907.2 836.1,903.3 841,896.8 843.5,892.8 852.2,874.2 854.7,871.2 856,870.7 857.2,871 858.5,872 859.7,873.8 862.2,879.3 868.4,896.3 870.9,900.7 872.1,902 873.4,902.5 874.6,902.4 877.1,900.5 883.3,892 885.8,890 887,889.6 889.5,890 895.8,894.1 898.2,894.6 899.5,894.3 902,892.7 908.2,886.3 909.4,885.7 910.7,885.7 911.9,886.3 913.2,887.6 914.4,889.7 916.9,896 924.3,922 926.8,929.1 929.3,934.5 931.8,938.4 935.5,942.3 940.5,945.7 945.5,947.7 952.9,949 966.6,949.4 1127,949.5"/>
<path d="M693.1,949.5 771.4,949.5 796.3,949.1 802.5,948.7 808.7,947.9 814.9,946.4 821.2,944.4 823.6,943.2 826.1,941.5 828.6,939 831.1,935.5 834.8,928.1 842.3,910.6 844.8,906.9 846,905.8 847.3,905.2 848.5,905.1 849.8,905.4 854.7,907.8 856,908 857.2,907.8 858.5,907.1 859.7,906 862.2,902.5 868.4,891.3 870.9,888.9 872.1,888.6 873.4,888.9 874.6,889.7 879.6,896 882.1,898.5 883.3,899 884.6,898.8 885.8,897.7 887,895.9 889.5,890.2 895.8,871.3 898.2,866.6 899.5,865.6 900.7,865.7 902,866.9 903.2,869.1 905.7,875.9 911.9,897.2 914.4,902.4 915.6,903.7 916.9,904.1 918.1,903.6 919.4,902.3 925.6,891.3 926.8,889.6 928.1,888.5 929.3,888.2 930.6,888.5 931.8,889.6 933.1,891.2 938,901.2 940.5,905.3 941.8,906.6 943,907 944.2,906.7 945.5,905.6 948,901.3 952.9,889 955.4,884.3 956.7,882.9 957.9,882.5 959.2,883 960.4,884.4 962.9,889.6 969.1,909 971.6,914.9 972.8,916.9 974.1,918.1 975.3,918.5 976.6,918.3 977.8,917.6 981.5,914.9 982.8,914.7 984,915.2 985.3,916.6 986.5,918.8 992.7,935.9 995.2,941.4 997.7,944.9 998.9,946 1001.4,947.5 1003.9,948.3 1007.6,948.9 1018.8,949.4 1127,949.5"/>
<path d="M693.1,949.5 792.6,949.2 808.7,948.4 819.9,946.7 824.9,945.3 828.6,943.8 832.3,941.6 834.8,939.7 837.3,937.3 841,933 849.8,920.8 853.5,916.4 857.2,913.4 860.9,912.2 863.4,912.4 865.9,913.2 875.9,918.8 879.6,920.1 882.1,920.5 887,920.1 895.8,918.2 900.7,918 905.7,918.9 915.6,921.7 920.6,922.1 925.6,921.3 934.3,918.6 938,917.8 941.8,917.6 945.5,918.1 950.5,919.8 960.4,924.6 965.4,926.5 970.3,927.6 980.3,928.8 986.5,930.6 991.5,933.5 1001.4,941.6 1006.4,944.9 1012.6,947.4 1018.8,948.6 1026.3,949.2 1036.2,949.5 1127,949.5"/>
<path d="M693.1,949.5 771.4,949.4 788.8,949 796.3,948.2 802.5,946.7 813.7,943 818.7,940.8 821.2,938.9 823.6,936 826.1,931.5 828.6,925 832.3,910.7 841,866.8 843.5,857.4 844.8,854.1 846,851.8 847.3,850.7 848.5,850.7 849.8,851.9 851,854 853.5,860.7 860.9,886.8 863.4,892.3 864.7,893.7 865.9,894.2 867.2,893.7 868.4,892.3 870.9,886.7 873.4,878.3 879.6,853.1 882.1,844.9 884.6,839.5 885.8,838.1 887,837.7 888.3,838.2 889.5,839.6 892,845 894.5,853.2 903.2,888.2 905.7,895.3 908.2,899.7 909.4,900.7 910.7,901 911.9,900.5 913.2,899.3 915.6,895.2 923.1,876.8 925.6,872 926.8,870.3 928.1,869.3 929.3,868.9 930.6,869.2 931.8,870.1 933.1,871.8 935.5,876.9 938,884.1 946.7,913.2 949.2,919.8 952.9,927.2 956.7,932.1 960.4,935.5 969.1,941.8 975.3,945.2 980.3,947.1 985.3,948.2 991.5,948.9 998.9,949.3 1127,949.5"/>
</g>
<path d="M693.1,949.5 807.5,949.5 808.7,949.2 810,948.7 813.7,946 814.9,944.7 817.4,940.9 823.6,929.4 824.9,928.5 826.1,924.9 828.6,919.6 829.9,918.3 831.1,915.7 832.3,914.1 833.6,913.7 834.8,912.3 836.1,911.6 837.3,911.3 838.6,911.8 839.8,911.1 842.3,910.5 843.5,909.9 846,906.9 847.3,906.2 848.5,905.1 851,902.3 852.2,901.5 856,895 857.2,894 858.5,892.6 859.7,892.4 860.9,891.3 862.2,891.2 863.4,889 864.7,888.8 865.9,887.3 867.2,886.7 868.4,885.4 869.6,885.1 870.9,882.1 874.6,879 875.9,878.7 877.1,879 878.3,877.5 880.8,875.8 883.3,872 884.6,871.1 885.8,869.6 887,868.4 889.5,867.3 890.8,866.1 892,864.6 893.3,862.7 895.8,858 898.2,854.7 899.5,852.2 900.7,848.7 903.2,839.9 904.5,836.2 906.9,825.3 913.2,800.3 915.6,788.6 916.9,781.8 923.1,745 924.3,740.9 925.6,741.8 926.8,746.1 928.1,752.4 929.3,765.6 934.3,837.3 935.5,856.9 938,904.2 939.3,919.2 940.5,927.7 941.8,933.7 943,938 944.2,941.4 945.5,943.4 946.7,944.7 949.2,946.9 950.5,947.7 952.9,948.6 967.9,949.4 1127,949.5" fill="none" stroke="#000" stroke-width="7.5" stroke-linecap="butt" stroke-linejoin="round" clip-path="url(#cpd)"/>
<path d="M693.1,949.5 799.2,949.5 800.7,833.4 808.4,832.7 823.7,831.8 839,831.4 854.3,831.3 862,831.4 877.3,832.2 900.3,834.1 915.6,835.7 930.9,837.9 976.9,845.1 999.9,849 1022.9,853.1 1024.4,949.5 1127,949.5" fill="none" stroke="#a00000" stroke-width="5.6" stroke-dasharray="20.7 9" stroke-linecap="butt" stroke-linejoin="round" clip-path="url(#cpd)"/>
<path d="M693.1,949.5 802.9,949.5 804.7,839.6 820.9,838.1 831.7,837.4 842.6,837 853.4,836.8 864.2,836.9 875,837.4 912.9,840 934.6,842.3 961.6,846.2 963.4,949.5 1127,949.5" fill="none" stroke="#bf0000" stroke-width="5.6" stroke-opacity="0.8" stroke-linecap="square" stroke-linejoin="round" clip-path="url(#cpd)"/>
<text x="710.2" y="568.1" font-size="25" text-anchor="start" stroke="#000" stroke-width="0.35">Δ<tspan font-style="italic" dx="0.20">t</tspan> <tspan dx="-2.80">=</tspan> <tspan dx="-2.55">5</tspan> <tspan dx="-2.45">ns</tspan></text>
<text x="584.7" y="571.2" font-size="29" text-anchor="start" stroke="#000" stroke-width="0.35" font-weight="bold">d</text>
<clipPath id="cpe"><rect x="1277.6" y="589.5" width="433.6" height="379.5"/></clipPath>
<path d="M1277.6,589.5 V969 H1711.2" fill="none" stroke="#000" stroke-width="3" stroke-linecap="square" stroke-linejoin="miter"/>
<path d="M1323.7,969v12.5M1416,969v12.5M1508.2,969v12.5M1600.5,969v12.5M1692.7,969v12.5M1277.6,949.5h-12.5M1277.6,895h-12.5M1277.6,840.4h-12.5M1277.6,785.9h-12.5M1277.6,731.4h-12.5M1277.6,676.9h-12.5M1277.6,622.3h-12.5" stroke="#000" stroke-width="3" fill="none"/>
<text x="1323.7" y="1011.2" font-size="21.4" text-anchor="middle" stroke="#000" stroke-width="0.35">20</text>
<text x="1416" y="1011.2" font-size="21.4" text-anchor="middle" stroke="#000" stroke-width="0.35">30</text>
<text x="1508.2" y="1011.2" font-size="21.4" text-anchor="middle" stroke="#000" stroke-width="0.35">40</text>
<text x="1600.5" y="1011.2" font-size="21.4" text-anchor="middle" stroke="#000" stroke-width="0.35">50</text>
<text x="1692.7" y="1011.2" font-size="21.4" text-anchor="middle" stroke="#000" stroke-width="0.35">60</text>
<text x="1252.3" y="958.5" font-size="21.4" text-anchor="end" stroke="#000" stroke-width="0.35">0</text>
<text x="1252.3" y="904" font-size="21.4" text-anchor="end" stroke="#000" stroke-width="0.35">1</text>
<text x="1252.3" y="849.4" font-size="21.4" text-anchor="end" stroke="#000" stroke-width="0.35">2</text>
<text x="1252.3" y="794.9" font-size="21.4" text-anchor="end" stroke="#000" stroke-width="0.35">3</text>
<text x="1252.3" y="740.4" font-size="21.4" text-anchor="end" stroke="#000" stroke-width="0.35">4</text>
<text x="1252.3" y="685.9" font-size="21.4" text-anchor="end" stroke="#000" stroke-width="0.35">5</text>
<text x="1252.3" y="631.3" font-size="21.4" text-anchor="end" stroke="#000" stroke-width="0.35">6</text>
<text x="1493" y="1048.5" font-size="25" text-anchor="middle" stroke="#000" stroke-width="0.35"><tspan font-style="italic">R</tspan>/µm</text>
<text x="1213.5" y="779.3" font-size="25.6" text-anchor="middle" stroke="#000" stroke-width="0.35" transform="rotate(-90 1213.5 779.3)"><tspan font-style="italic">p</tspan>/GPa</text>
<g clip-path="url(#cpe)" fill="none" stroke="#000" stroke-opacity="0.2" stroke-width="3.75" stroke-linejoin="round">
<path d="M1277.6,949.5 1374.5,949.5 1375.4,946.7 1377.2,927.4 1382.6,828.7 1385.3,797.4 1386.2,793.7 1387.1,787.6 1388,786 1388.9,775.9 1389.8,770.3 1391.7,763.5 1392.6,753.3 1393.5,748.3 1395.3,749.2 1398,728.3 1398.9,733.5 1400.7,722.5 1401.6,707.9 1403.4,695.2 1404.3,698.1 1405.2,692.9 1406.1,700.3 1408,691 1408.9,677.3 1409.8,681.4 1410.7,682.3 1411.6,686.8 1412.5,680.4 1413.4,680.8 1414.3,676.9 1415.2,665.2 1416.1,671.9 1417,673.5 1417.9,679.9 1418.8,681 1421.5,655.8 1422.4,659.2 1423.3,668.8 1424.2,664.1 1425.2,669.3 1426.1,664.1 1427,672 1427.9,663.3 1428.8,667.3 1429.7,652 1430.6,668.8 1431.5,673.3 1432.4,693.1 1433.3,688.4 1434.2,688.1 1435.1,688.5 1436.9,707.4 1437.8,703.2 1439.6,678.3 1440.5,678 1441.4,686.3 1443.3,695.4 1444.2,695.6 1446.9,666.3 1447.8,671 1448.7,662.2 1449.6,656.6 1450.5,659.9 1452.3,681.7 1453.2,674.3 1454.1,669.8 1455,671.5 1455.9,670.9 1457.7,688.7 1458.6,711.7 1459.5,716.1 1461.4,710.6 1462.3,711.7 1463.2,711 1465,711.1 1465.9,710.4 1466.8,708.6 1468.6,718.3 1469.5,717.2 1470.4,705.1 1471.3,707.2 1473.1,720.1 1474.9,709.2 1475.8,706.5 1476.7,705.2 1477.7,697.1 1480.4,710.8 1481.3,709.6 1482.2,702.4 1483.1,701.7 1484,702.2 1484.9,704.3 1485.8,708.1 1486.7,707.9 1491.2,743.4 1492.1,747.3 1493,746.9 1493.9,744.1 1494.9,747.7 1495.8,743.8 1496.7,749.6 1497.6,745.4 1498.5,752 1499.4,745.2 1502.1,760.1 1503,754.2 1503.9,753.7 1504.8,752.4 1505.7,755 1506.6,750.5 1508.4,750 1509.3,760.1 1510.2,760.7 1511.1,768.3 1512.1,763.1 1513,765.6 1513.9,765.4 1514.8,772.9 1515.7,774.7 1516.6,772.6 1517.5,772 1519.3,776.6 1521.1,779 1522,778.9 1522.9,775.2 1523.8,774.5 1524.7,778.7 1525.6,779.7 1526.5,780 1527.4,781.1 1528.3,784.8 1529.3,791.5 1530.2,794.8 1531.1,801.4 1532,797.7 1533.8,797 1534.7,803 1535.6,806.4 1536.5,808 1537.4,808.6 1538.3,805.1 1539.2,810.3 1540.1,810.4 1541,815.4 1542.8,822.4 1543.7,822.2 1544.6,818.1 1546.5,826.3 1547.4,834.3 1549.2,837.5 1550.1,837.1 1551,839.1 1551.9,842.4 1552.8,838.2 1553.7,842.5 1554.6,844.7 1555.5,854.2 1557.3,854.3 1558.2,852.3 1559.1,854.4 1560,854.9 1560.9,856.2 1561.8,855 1565.5,869.3 1566.4,867.1 1567.3,869.3 1568.2,869.8 1570,875.2 1570.9,876.8 1572.7,877.3 1573.6,878.4 1574.5,880.6 1576.3,883.5 1579,886.3 1581.8,892.7 1583.6,890.5 1584.5,890.6 1586.3,894.3 1587.2,894.5 1589.9,903.2 1590.8,904.1 1592.6,901.8 1593.5,902.9 1594.4,905.3 1595.3,906.6 1596.2,906 1598,909 1599,911.3 1599.9,911.9 1601.7,914.7 1602.6,915.4 1603.5,917.1 1605.3,918.2 1606.2,917.9 1607.1,918.4 1608.9,920.8 1609.8,921.1 1613.4,925.2 1616.2,929.3 1620.7,932.1 1621.6,933.4 1623.4,934.8 1624.3,935 1627.9,938.9 1633.4,942.9 1643.3,946.9 1650.6,948.9 1655.1,949.5 1711.2,949.5"/>
<path d="M1277.6,949.5 1369,949.5 1369.9,949.2 1370.8,944 1372.6,917.2 1375.4,839.1 1376.3,822.6 1377.2,808.1 1379,790.7 1379.9,798.4 1380.8,795.5 1381.7,783.4 1382.6,782.5 1383.5,782.4 1384.4,779.2 1385.3,773.5 1386.2,770.1 1387.1,768 1388,767.7 1388.9,767.8 1389.8,768.4 1390.8,757.4 1391.7,752.6 1392.6,752.4 1393.5,733.2 1394.4,728.4 1395.3,734 1398.9,716.5 1399.8,726.4 1400.7,718.5 1401.6,734.5 1402.5,722 1403.4,718.9 1404.3,706.8 1405.2,711.6 1406.1,721.2 1407,734.7 1408,756.4 1408.9,745.9 1409.8,743.4 1410.7,729.4 1411.6,727.9 1412.5,731.3 1413.4,737.5 1414.3,728.2 1415.2,736.1 1416.1,712.1 1417,732.9 1418.8,753.7 1419.7,757.7 1420.6,751.6 1421.5,755.5 1423.3,728.1 1424.2,731.5 1425.2,723 1426.1,729.7 1427,733.7 1427.9,726.5 1429.7,720.1 1430.6,742.3 1431.5,754.4 1432.4,736.5 1433.3,741.1 1434.2,748.6 1436,775.1 1436.9,764.7 1437.8,780.5 1438.7,777 1439.6,780.7 1440.5,793.2 1441.4,787.7 1442.3,784.6 1443.3,773.1 1444.2,754 1445.1,754.8 1446,742.6 1446.9,753.8 1447.8,745.7 1449.6,782.4 1451.4,786 1452.3,785.6 1453.2,800.6 1454.1,794 1455,790.1 1455.9,780.1 1457.7,789 1458.6,795.6 1459.5,785.4 1460.5,785 1461.4,786.8 1462.3,782.4 1463.2,787.8 1464.1,788 1465,795.1 1466.8,787 1467.7,787.6 1468.6,799.4 1469.5,805.1 1471.3,801 1472.2,811.2 1473.1,815.2 1474,814.8 1474.9,807 1475.8,802.6 1476.7,799.9 1477.7,801.3 1478.6,807.8 1479.5,802.3 1480.4,807 1481.3,801.9 1484,825.3 1484.9,822.9 1485.8,816.8 1486.7,813 1487.6,800.1 1488.5,796 1489.4,793.5 1490.3,804.1 1491.2,804.1 1492.1,806 1493,810.5 1493.9,809.5 1494.9,799.3 1495.8,807.4 1496.7,805.6 1497.6,822.8 1498.5,814.2 1499.4,822.2 1500.3,816.4 1501.2,807.2 1502.1,806.3 1504.8,825.8 1505.7,824.3 1506.6,825.1 1507.5,819.7 1509.3,838.6 1510.2,838.8 1511.1,829.4 1513,837.4 1513.9,839.2 1514.8,837.1 1516.6,823.1 1517.5,811.7 1519.3,813.9 1520.2,809.8 1521.1,809.5 1522,811.2 1522.9,822.9 1523.8,827.8 1524.7,826.8 1525.6,831.4 1526.5,834.1 1527.4,830.8 1528.3,829.5 1529.3,824.7 1530.2,836.2 1531.1,831.7 1532,830.7 1532.9,830.8 1533.8,835 1534.7,831 1535.6,824.6 1536.5,825.6 1537.4,829.8 1538.3,831.9 1539.2,828.7 1541,838.7 1541.9,848.4 1542.8,852.6 1543.7,866.1 1545.5,858.1 1546.5,856.5 1547.4,853.9 1548.3,846.8 1549.2,847.1 1550.1,835.9 1551,842.9 1551.9,839.3 1552.8,849.7 1554.6,839.2 1555.5,848.5 1556.4,848.4 1557.3,843.7 1558.2,846.5 1559.1,842.2 1560,842.7 1560.9,845.1 1562.7,853 1563.6,846 1564.6,845.8 1565.5,853.1 1566.4,848.2 1567.3,857.6 1568.2,854.6 1569.1,855.2 1570,860.7 1570.9,859.2 1571.8,859.4 1573.6,850.5 1574.5,849.9 1575.4,851.1 1577.2,866.5 1578.1,861.3 1579,859.8 1579.9,860.1 1580.8,863 1581.8,857.9 1582.7,862.3 1584.5,868.4 1586.3,882.9 1588.1,880.4 1589.9,890.7 1590.8,888.6 1592.6,887.3 1593.5,893.1 1594.4,895.4 1595.3,900.9 1596.2,897.7 1597.1,899.3 1598,899 1599,904.5 1600.8,909.9 1601.7,907.8 1602.6,909.3 1606.2,921.6 1607.1,926.2 1608.9,930.7 1609.8,931.1 1610.7,930.4 1611.6,930.6 1612.5,931.9 1616.2,934.9 1618,936.8 1618.9,938.8 1622.5,942.2 1627.9,944.3 1629.7,945.6 1633.4,947.2 1636.1,947.8 1643.3,948.6 1664.1,949.4 1711.2,949.5"/>
<path d="M1277.6,949.5 1366.3,949.5 1367.2,947.1 1368.1,938.3 1369,923.8 1371.7,850.8 1373.6,816.6 1374.5,808.7 1375.4,792.3 1376.3,800.1 1377.2,792.5 1379,752.7 1379.9,738.8 1380.8,738.7 1381.7,734.8 1382.6,743.2 1383.5,756.9 1384.4,747.7 1385.3,745 1386.2,751.3 1387.1,750.2 1388,729.9 1388.9,741.9 1389.8,738.2 1390.8,754.8 1391.7,741.2 1392.6,734.8 1393.5,724.1 1394.4,727.4 1396.2,714.8 1398,689.3 1398.9,700.9 1399.8,698 1400.7,699.9 1402.5,708.3 1403.4,723.8 1404.3,721.8 1405.2,724.4 1406.1,706.1 1407,712.6 1408,709.5 1408.9,714.3 1410.7,685.8 1411.6,687.6 1412.5,684.6 1414.3,707.7 1415.2,705.1 1417,684.5 1417.9,680.6 1418.8,704 1419.7,713.3 1420.6,718.8 1421.5,707.3 1422.4,720.8 1423.3,727 1424.2,718.5 1425.2,736.7 1427,718 1427.9,717.3 1428.8,709.3 1429.7,719.9 1430.6,718.1 1431.5,720.3 1432.4,715.5 1433.3,702.7 1435.1,733.4 1436,725.6 1436.9,734.7 1438.7,721 1440.5,713.2 1441.4,711.4 1442.3,696.3 1443.3,695 1444.2,700.8 1445.1,723 1446,728.3 1446.9,751.3 1447.8,758.6 1448.7,747.7 1449.6,748.7 1450.5,748.5 1451.4,763.2 1453.2,755.9 1455,796.6 1455.9,784.7 1456.8,790 1457.7,789.5 1458.6,806.4 1459.5,805.8 1460.5,796.4 1461.4,796.2 1462.3,790 1463.2,772.4 1464.1,775.8 1465,760.3 1466.8,776.4 1467.7,780.8 1468.6,777.8 1469.5,778.5 1470.4,766.8 1471.3,773 1472.2,772 1474,779.7 1474.9,780.2 1475.8,781.9 1476.7,780.3 1477.7,774.1 1478.6,782.4 1479.5,783.1 1480.4,782.5 1481.3,789.3 1482.2,768.3 1483.1,766.3 1484.9,776.4 1485.8,771.2 1486.7,769.8 1488.5,784 1489.4,777.1 1490.3,797.4 1491.2,802.1 1492.1,802.3 1493,791.4 1493.9,802.1 1494.9,790.7 1496.7,788 1497.6,791.5 1498.5,798.1 1499.4,778.7 1500.3,784.9 1501.2,787.8 1502.1,780 1503,785.6 1503.9,781.4 1504.8,784.2 1505.7,792 1506.6,780.6 1507.5,793.6 1508.4,785.7 1509.3,786.9 1510.2,782.9 1511.1,774.4 1512.1,775.6 1513,778 1513.9,777.2 1514.8,784.5 1515.7,777 1516.6,775.9 1518.4,800.5 1519.3,803.1 1520.2,790.9 1521.1,787.9 1522.9,795.6 1523.8,789.8 1524.7,795.8 1525.6,786.7 1526.5,801.2 1528.3,819.8 1529.3,824.7 1530.2,815 1531.1,809.9 1532.9,816.7 1533.8,818.9 1534.7,829.1 1535.6,825.7 1536.5,830.5 1537.4,830.1 1538.3,843 1539.2,848.4 1540.1,845.9 1541,848.6 1541.9,856.6 1542.8,857.8 1543.7,854.4 1544.6,854.3 1545.5,853.7 1546.5,851.5 1547.4,855.8 1549.2,861.6 1551.9,885.7 1552.8,881.9 1553.7,885 1554.6,882.7 1555.5,882.3 1556.4,878.9 1559.1,898.9 1561.8,911.7 1562.7,917.5 1563.6,920.5 1565.5,923.2 1567.3,930.3 1568.2,931.9 1569.1,931.8 1570,933.2 1570.9,933.6 1573.6,937 1574.5,939 1575.4,939.3 1579,943.4 1583.6,946.7 1589,948 1599.9,949.2 1621.6,949.5 1711.2,949.5"/>
<path d="M1277.6,949.5 1372.6,949.5 1373.6,944.4 1376.3,854.5 1378.1,810.9 1379,794.8 1379.9,791.2 1380.8,768.7 1381.7,771.7 1382.6,765 1383.5,774.9 1384.4,761.6 1386.2,759.2 1387.1,771 1388,774.3 1388.9,780.5 1389.8,772 1390.8,780.5 1391.7,765 1394.4,752.9 1396.2,739.9 1397.1,751.5 1398,756.7 1398.9,757.1 1399.8,753.9 1400.7,755.4 1401.6,746.1 1403.4,773.6 1405.2,757.3 1406.1,743.5 1407,746.1 1408,744.2 1409.8,760.9 1410.7,748.9 1411.6,750.7 1412.5,751.1 1413.4,750.9 1414.3,762.4 1415.2,756.3 1416.1,757.3 1417,748.3 1417.9,745.8 1418.8,747.4 1419.7,751 1420.6,759.8 1421.5,759 1422.4,752.3 1423.3,757.5 1424.2,748.9 1425.2,765.3 1426.1,774.1 1427,778.6 1428.8,767.8 1429.7,772.6 1430.6,774.3 1431.5,777.2 1432.4,777.7 1433.3,784.1 1434.2,775.7 1435.1,798.5 1436,791.1 1436.9,804.7 1437.8,802.1 1438.7,795.4 1439.6,793.7 1440.5,802.7 1441.4,805.6 1443.3,793.4 1444.2,805.1 1445.1,796.1 1446,793 1447.8,807.3 1448.7,804.2 1449.6,799.2 1451.4,812.1 1452.3,811.1 1453.2,820.1 1454.1,818 1455,818.6 1457.7,798.7 1458.6,800 1459.5,808.8 1460.5,807.6 1461.4,798.3 1462.3,797.8 1463.2,809.4 1464.1,809.7 1465,813.2 1465.9,814.6 1466.8,819 1467.7,813.7 1468.6,810.9 1469.5,817.2 1471.3,826.3 1472.2,825.4 1473.1,830.3 1474,823.6 1475.8,823.6 1476.7,831.6 1477.7,828.5 1478.6,835.6 1479.5,826 1480.4,834.9 1481.3,831.2 1482.2,845.7 1483.1,851.7 1484,848.6 1484.9,841.3 1485.8,842.4 1486.7,841.1 1487.6,840.5 1488.5,834.6 1489.4,836.4 1490.3,830.9 1491.2,819.7 1492.1,821 1493.9,836.3 1494.9,831 1495.8,834.6 1496.7,831.8 1497.6,833.6 1498.5,838.3 1499.4,837 1500.3,832.3 1501.2,830.3 1502.1,829.7 1503,829.8 1503.9,831.8 1504.8,837.3 1506.6,821.8 1507.5,821.2 1508.4,819.5 1509.3,827.2 1510.2,830.8 1511.1,831.5 1512.1,826 1513,831.7 1513.9,842.3 1515.7,849.5 1516.6,850.7 1517.5,854.7 1518.4,852.8 1519.3,861.1 1520.2,862.3 1521.1,856.4 1522,852.9 1522.9,855.7 1523.8,862 1524.7,862.1 1526.5,851.2 1527.4,849.4 1528.3,841.7 1529.3,847.7 1530.2,849.7 1531.1,851.1 1532,849.2 1532.9,850.4 1533.8,850.2 1534.7,851.4 1535.6,853.5 1536.5,852.5 1537.4,846 1538.3,846.4 1540.1,856.7 1541,856.7 1541.9,850 1542.8,853.9 1543.7,851.1 1545.5,862.5 1546.5,865.7 1547.4,866.4 1549.2,859.1 1550.1,861.5 1551,856.7 1551.9,864.2 1552.8,863.6 1554.6,865.3 1555.5,862.3 1556.4,861 1557.3,860.8 1558.2,861.7 1559.1,861.5 1560,855.1 1560.9,864 1561.8,863.7 1562.7,862 1564.6,860.8 1565.5,870.8 1566.4,874.2 1567.3,874.2 1568.2,872.6 1569.1,873.3 1570,877.4 1570.9,871.8 1571.8,871.7 1572.7,874.3 1573.6,871.2 1574.5,877 1575.4,878.1 1576.3,883.5 1577.2,874.5 1579,871.5 1579.9,871.9 1580.8,874.9 1581.8,882.8 1582.7,882.4 1583.6,883.5 1584.5,880 1585.4,879.8 1586.3,874.4 1589,887.8 1589.9,883.4 1590.8,885.1 1591.7,884.3 1592.6,879.8 1593.5,880 1595.3,878.8 1596.2,875.7 1597.1,876.6 1598,874.6 1599,876.1 1601.7,896 1602.6,892.3 1603.5,898.5 1604.4,893.4 1605.3,895.7 1606.2,896.3 1607.1,897.8 1608,896.7 1608.9,889.1 1609.8,889.5 1610.7,890.8 1612.5,898.9 1613.4,899.4 1615.2,898.7 1616.2,899.7 1617.1,902.9 1618.9,912.3 1619.8,915 1620.7,915.6 1621.6,915.3 1622.5,916.8 1624.3,918.2 1625.2,922.9 1627,927.5 1627.9,927.7 1629.7,931.7 1630.6,934.6 1632.4,938 1633.4,938.3 1635.2,940.9 1637.9,943.1 1638.8,944.2 1640.6,945.3 1647.8,948 1656.9,949 1668.7,949.4 1711.2,949.5"/>
<path d="M1277.6,949.5 1379.9,949.5 1380.8,949.2 1381.7,943.7 1382.6,930.9 1386.2,856.6 1389.8,797.1 1390.8,802.1 1391.7,785.6 1392.6,785.1 1393.5,781.4 1395.3,755 1396.2,749.7 1397.1,762.7 1398,766.5 1398.9,757.7 1399.8,753.4 1400.7,743.8 1401.6,750 1402.5,764 1403.4,761.9 1404.3,763 1405.2,758.6 1406.1,758.7 1407,744.7 1408,744.2 1408.9,748.7 1409.8,750.9 1411.6,761.5 1412.5,753 1413.4,759 1414.3,754 1415.2,762.8 1416.1,756.4 1417,773.3 1417.9,768.6 1418.8,766.6 1419.7,770 1422.4,801.9 1423.3,796.8 1424.2,810.6 1425.2,808.5 1426.1,816 1427,815.1 1427.9,804.9 1428.8,811.6 1429.7,806 1431.5,822 1432.4,820.2 1433.3,809.2 1434.2,807.5 1435.1,815.5 1436,818.1 1436.9,819.6 1437.8,809.9 1439.6,815 1441.4,822.8 1442.3,815.3 1444.2,816 1446,834.4 1446.9,833.4 1451.4,817.5 1452.3,819.1 1453.2,815.2 1454.1,818.1 1455,831.9 1455.9,829.9 1456.8,838.5 1457.7,833.9 1458.6,837.5 1459.5,834.5 1461.4,851 1462.3,855.8 1465,831.8 1465.9,842.4 1466.8,835.4 1467.7,822.8 1468.6,817.3 1469.5,816.1 1470.4,821.3 1471.3,807.8 1472.2,808.3 1474.9,820.6 1475.8,822.5 1477.7,839.8 1478.6,839.8 1479.5,847.6 1482.2,857.8 1483.1,855 1484,858.6 1484.9,856 1485.8,859.9 1486.7,861.2 1487.6,861.5 1488.5,860 1489.4,861.1 1490.3,857.9 1491.2,860.2 1492.1,844.1 1493,837.5 1493.9,837.4 1494.9,848.2 1495.8,853.1 1496.7,853.9 1497.6,862.7 1499.4,856.7 1502.1,869.4 1503,863.9 1503.9,862.7 1505.7,856.8 1506.6,860.2 1507.5,859.4 1508.4,853.2 1509.3,855.9 1510.2,855.3 1511.1,857.4 1512.1,853.7 1513,855.1 1513.9,861.1 1514.8,863 1515.7,869.9 1516.6,868.7 1519.3,868.2 1521.1,871.6 1522,871.9 1523.8,870.3 1524.7,872 1526.5,870.3 1528.3,859.9 1529.3,860.3 1530.2,862.5 1531.1,867.5 1532,866.3 1532.9,867.1 1533.8,872.3 1535.6,873 1536.5,870.9 1538.3,868.6 1539.2,868 1541,871.6 1541.9,872.5 1542.8,876.5 1543.7,875.1 1544.6,881.3 1545.5,881.2 1547.4,882.5 1548.3,880.3 1549.2,882.2 1550.1,881.1 1551,881.8 1551.9,883.9 1552.8,876.5 1553.7,872.6 1555.5,876.1 1556.4,875.2 1559.1,887.9 1560.9,890.3 1563.6,901.2 1564.6,903.6 1565.5,895.7 1566.4,895.3 1567.3,894 1568.2,895.3 1569.1,891.4 1570,890 1570.9,889.9 1571.8,890.5 1572.7,889.4 1574.5,891.3 1575.4,892.9 1576.3,889.8 1577.2,889.8 1579,891.4 1580.8,885.8 1581.8,885.9 1582.7,883.8 1583.6,887.2 1584.5,889.1 1585.4,889 1586.3,886 1587.2,886.4 1588.1,892.8 1589,893.6 1589.9,893.3 1590.8,895.7 1591.7,893.8 1592.6,893.1 1593.5,890.2 1594.4,896.6 1595.3,898.9 1596.2,897.2 1597.1,897.5 1598,898.8 1599.9,906.8 1600.8,907.8 1601.7,907.5 1602.6,905.5 1603.5,902.2 1604.4,904.4 1605.3,903.4 1606.2,901.7 1607.1,897.3 1608,897.1 1609.8,902.2 1610.7,899.3 1611.6,901.4 1612.5,902.1 1614.3,907.2 1615.2,907.3 1617.1,915.7 1618,917.7 1618.9,921.9 1619.8,921.8 1620.7,923.4 1621.6,922.8 1623.4,926.9 1627.9,935.2 1628.8,935.9 1631.5,939.8 1634.3,941.5 1637,944.2 1638.8,944.6 1644.2,946.7 1645.1,946.7 1648.7,947.8 1658.7,948.9 1675.9,949.4 1711.2,949.5"/>
<path d="M1277.6,949.5 1373.6,949.5 1374.5,944.3 1375.4,931.5 1377.2,887.7 1379.9,836.3 1380.8,834.9 1383.5,790.5 1384.4,783.4 1385.3,781.1 1386.2,763.5 1387.1,756 1388,752 1388.9,733.9 1389.8,736.4 1390.8,737.4 1391.7,736.5 1392.6,749.2 1393.5,757.6 1394.4,762.1 1395.3,750.5 1397.1,752.4 1398,766.6 1398.9,760.1 1400.7,726.5 1401.6,719.1 1402.5,729.7 1403.4,732.1 1404.3,745 1406.1,742.5 1408,769.7 1408.9,774.6 1409.8,772.7 1411.6,747.6 1414.3,767.2 1415.2,755.8 1416.1,750.5 1417,752.2 1417.9,749.7 1418.8,757.6 1419.7,756.6 1420.6,766.5 1421.5,765.2 1422.4,769.2 1423.3,763 1424.2,781.2 1425.2,781.5 1426.1,787.9 1427,786 1427.9,793.4 1428.8,782.7 1429.7,789.2 1430.6,789.4 1431.5,797.1 1432.4,796.3 1433.3,787.4 1434.2,797.5 1435.1,797.1 1436,796.1 1436.9,791.9 1437.8,793.6 1438.7,801.7 1439.6,815.8 1441.4,813.1 1443.3,798.6 1444.2,814.3 1445.1,820.8 1446,822.3 1446.9,817.3 1447.8,802.9 1448.7,798.4 1449.6,803.6 1450.5,797.4 1451.4,803.1 1452.3,804.2 1453.2,806.9 1454.1,822.6 1455,822.3 1455.9,827.4 1456.8,824.1 1457.7,811 1458.6,821.7 1459.5,822.2 1460.5,832 1462.3,817.7 1464.1,831.8 1465,835.9 1465.9,844.8 1466.8,845.5 1467.7,836.4 1468.6,830.9 1469.5,833.6 1470.4,826.1 1471.3,827.5 1472.2,818.9 1474,832.5 1474.9,847.8 1475.8,850.4 1476.7,850.1 1477.7,842.1 1478.6,849.2 1479.5,848.1 1480.4,860.8 1481.3,852.5 1482.2,853.5 1483.1,844.2 1484,847.4 1484.9,838.2 1486.7,837 1487.6,842.4 1489.4,837.5 1491.2,848.1 1492.1,850.2 1493.9,843.6 1494.9,844 1495.8,836.4 1496.7,837.7 1498.5,851.7 1499.4,853.8 1500.3,858.3 1501.2,857.4 1502.1,862.4 1503.9,866.6 1504.8,862.7 1506.6,870.5 1507.5,866 1508.4,857 1509.3,857.5 1511.1,863.6 1512.1,857.4 1513.9,858.2 1514.8,860.3 1515.7,858.3 1516.6,851.7 1517.5,854.3 1518.4,861.2 1519.3,860.2 1520.2,855.1 1521.1,856.4 1522,859.7 1523.8,851.4 1525.6,858.3 1526.5,858.4 1527.4,856 1528.3,865.5 1530.2,861.4 1531.1,861.6 1532,866.5 1533.8,859 1535.6,880.7 1536.5,872.5 1537.4,872.9 1538.3,870.4 1539.2,869.9 1540.1,861.3 1541.9,879.5 1542.8,875.9 1543.7,877.3 1544.6,876.9 1546.5,887.6 1548.3,907 1549.2,903.8 1550.1,894.7 1551,897.2 1551.9,896.8 1552.8,904.7 1553.7,907.5 1555.5,910.5 1558.2,926.4 1559.1,928.5 1560.9,936.9 1564.6,943.7 1567.3,946.7 1571.8,948.6 1577.2,949.3 1582.7,949.4 1711.2,949.5"/>
<path d="M1277.6,949.5 1379.9,949.5 1380.8,947.8 1381.7,934.8 1382.6,913.3 1385.3,825.1 1386.2,813.2 1387.1,812.5 1388.9,791.2 1390.8,749.9 1391.7,764.4 1394.4,733.2 1395.3,746.5 1398,725.6 1399.8,715.5 1400.7,715 1401.6,700.5 1402.5,705 1403.4,698.4 1404.3,708.3 1405.2,698.9 1406.1,698 1407,688.4 1408,693.5 1409.8,727.6 1410.7,728.9 1411.6,719.8 1412.5,726.3 1413.4,751.5 1415.2,775 1416.1,750.3 1417,741.4 1417.9,742.1 1418.8,740 1420.6,768.7 1421.5,768.3 1422.4,748.6 1423.3,757 1424.2,757.4 1425.2,768.8 1426.1,761.6 1427,772.5 1427.9,775.5 1428.8,773.3 1429.7,776.6 1430.6,795.5 1431.5,801 1432.4,797.5 1433.3,785.5 1434.2,778.3 1436,783.6 1436.9,787.8 1437.8,789.5 1438.7,772.1 1439.6,773.9 1441.4,784.8 1442.3,784.5 1443.3,792.3 1444.2,796.7 1445.1,806.1 1446,798 1446.9,805 1447.8,794.3 1448.7,790.5 1449.6,788.9 1450.5,780.5 1451.4,776.8 1454.1,789.7 1455,788.2 1455.9,787.4 1456.8,789.4 1457.7,784.8 1458.6,806.5 1459.5,809.3 1460.5,802.5 1461.4,798.8 1462.3,812.1 1464.1,817.4 1465.9,806.6 1466.8,791.4 1467.7,793.3 1468.6,812.3 1469.5,819.4 1470.4,819.6 1471.3,816.9 1472.2,804.5 1473.1,807.6 1474,801.1 1474.9,814.6 1475.8,812.6 1476.7,822.1 1479.5,830.6 1480.4,839 1481.3,836.2 1482.2,836.7 1483.1,830.8 1484,837.3 1484.9,833.8 1485.8,833.7 1486.7,829.4 1487.6,828.8 1488.5,831.8 1489.4,815.8 1490.3,827.7 1491.2,830.4 1492.1,838.4 1493,836.8 1494.9,851.4 1496.7,847 1497.6,856.1 1498.5,853.1 1499.4,855.3 1500.3,850.6 1501.2,854.3 1502.1,841.2 1503.9,840.6 1505.7,841 1506.6,848.4 1507.5,851.4 1508.4,852.2 1509.3,850.3 1510.2,850.3 1511.1,854.1 1512.1,851.2 1513,850.2 1513.9,843.3 1514.8,843.4 1515.7,838.3 1516.6,837.6 1517.5,838.5 1520.2,852.2 1521.1,849.2 1522,849.8 1522.9,848 1523.8,847.9 1524.7,846.1 1525.6,838.9 1527.4,839.7 1528.3,844 1529.3,842.8 1530.2,848.4 1531.1,847.8 1532,855.1 1532.9,854.8 1533.8,849.3 1537.4,862 1538.3,862.7 1539.2,872.1 1540.1,873.4 1541,868.7 1541.9,868.9 1542.8,871.6 1543.7,872 1544.6,875.7 1545.5,872 1547.4,876 1548.3,882.3 1549.2,881.1 1550.1,882 1551.9,899.6 1552.8,902.3 1553.7,899.7 1554.6,900.9 1555.5,901.2 1556.4,900.7 1558.2,909.4 1559.1,911.8 1560,915.8 1560.9,915.5 1561.8,915.9 1563.6,920.3 1564.6,921.7 1565.5,922.4 1566.4,924.9 1569.1,929.3 1570.9,933.3 1572.7,936 1573.6,936.7 1575.4,939.6 1578.1,941.6 1579,942.7 1579.9,942.6 1582.7,944.8 1586.3,946.6 1590.8,947.7 1603.5,949 1627,949.5 1711.2,949.5"/>
<path d="M1277.6,949.5 1376.3,949.5 1377.2,940.8 1378.1,918 1380.8,818.3 1381.7,793.6 1383.5,759.9 1385.3,759.5 1386.2,752.9 1387.1,771 1388,761.6 1389.8,782.5 1390.8,780.8 1391.7,787.1 1392.6,772.8 1393.5,776.9 1394.4,793.8 1395.3,791.6 1396.2,799 1397.1,792.7 1398,773.6 1398.9,775.8 1399.8,755.2 1400.7,769.5 1401.6,763.2 1402.5,762.1 1403.4,752.5 1404.3,756.2 1405.2,755.9 1406.1,764.5 1407,769.2 1408,765.3 1408.9,751.7 1410.7,762.6 1411.6,778.2 1412.5,777.4 1413.4,772.2 1414.3,765.5 1415.2,752 1416.1,762.1 1417,767.4 1418.8,738 1419.7,733.5 1420.6,723.5 1421.5,735.9 1422.4,737.2 1423.3,752.1 1424.2,751.9 1425.2,765.7 1426.1,766.8 1427,776.2 1427.9,780.9 1428.8,801.2 1430.6,781.1 1431.5,767 1432.4,780.9 1434.2,797.8 1436.9,780.5 1437.8,792.1 1438.7,790.4 1439.6,797.8 1440.5,794 1441.4,795.6 1442.3,793.5 1443.3,782.7 1444.2,794.8 1445.1,787.4 1446,775.1 1446.9,776 1447.8,772 1448.7,783.4 1449.6,778.4 1450.5,781.6 1451.4,796.6 1452.3,794.2 1453.2,802.2 1454.1,798.9 1455,790.1 1455.9,788.5 1456.8,797.7 1457.7,795.3 1458.6,805.3 1459.5,786.7 1461.4,796.1 1462.3,802.9 1463.2,817.5 1464.1,812.1 1465,802.4 1465.9,807.6 1466.8,804.9 1467.7,819.8 1468.6,812 1469.5,820.1 1470.4,813.7 1471.3,811.7 1472.2,821.1 1473.1,819.1 1474,819 1475.8,808.1 1476.7,819.4 1477.7,816.1 1478.6,817.2 1479.5,813.9 1480.4,813.8 1481.3,820.7 1482.2,810.8 1483.1,805.8 1484,814.1 1484.9,817.9 1485.8,834.2 1486.7,830.8 1487.6,836.2 1489.4,832 1490.3,835.7 1491.2,835.2 1492.1,824.4 1493.9,822 1494.9,832.2 1495.8,826.1 1496.7,822.7 1497.6,831.3 1498.5,833.6 1499.4,841.1 1500.3,836.7 1501.2,839.4 1503,831.4 1503.9,820.9 1505.7,816.4 1506.6,831.1 1507.5,829.1 1508.4,833.3 1509.3,829.5 1510.2,832.1 1511.1,831.1 1512.1,827.2 1513,827.6 1513.9,827.2 1514.8,823.5 1515.7,825 1517.5,834.9 1518.4,831.3 1519.3,837.2 1520.2,839.6 1521.1,845.5 1522,843.3 1522.9,842.8 1523.8,849.4 1524.7,844.6 1526.5,826.8 1527.4,834.4 1528.3,834.5 1529.3,835.4 1530.2,829.7 1531.1,830.3 1532,828 1532.9,828.4 1533.8,823.7 1534.7,828.6 1535.6,818.7 1539.2,843.5 1540.1,843.6 1541,847.3 1541.9,846.9 1542.8,842.5 1543.7,854.7 1545.5,838 1546.5,835.4 1547.4,844.4 1549.2,842.6 1550.1,843.9 1551,848.7 1551.9,848.6 1553.7,840.3 1554.6,844.1 1555.5,851.9 1556.4,855.3 1557.3,851.2 1558.2,851.9 1559.1,853.2 1560,851.1 1560.9,843.3 1561.8,840.7 1562.7,843.4 1563.6,842.7 1564.6,851.3 1565.5,848.8 1566.4,851.8 1567.3,842 1568.2,847.3 1569.1,849.8 1570,843.6 1570.9,850 1571.8,849.5 1572.7,849.7 1573.6,842.2 1574.5,840.9 1575.4,850.8 1576.3,849.4 1577.2,847 1578.1,848.6 1579,850.6 1579.9,857 1581.8,865.6 1582.7,864.6 1583.6,859.7 1584.5,861 1586.3,870.8 1587.2,869.3 1588.1,869.8 1589,864 1590.8,860 1591.7,859.1 1592.6,863.4 1593.5,863.4 1594.4,868 1595.3,864.4 1597.1,873.3 1598,879.8 1599,880.4 1599.9,888.3 1600.8,887.9 1603.5,908.2 1607.1,931.4 1609.8,940.6 1611.6,944.2 1613.4,946.5 1616.2,948.2 1620.7,949.1 1624.3,949.4 1711.2,949.5"/>
<path d="M1277.6,949.5 1367.2,949.5 1368.1,949.1 1369,943.4 1370.8,918.9 1373.6,866.2 1375.4,844.9 1376.3,842.4 1377.2,826.4 1378.1,818.5 1379,814.9 1379.9,804.7 1380.8,807.4 1381.7,807.6 1382.6,812 1383.5,821.8 1384.4,814.8 1385.3,820.7 1386.2,817.4 1387.1,828.8 1388,826.2 1389.8,807.7 1390.8,802.9 1391.7,799.3 1392.6,803.3 1393.5,788.3 1394.4,794.2 1395.3,773.3 1397.1,786.8 1398,807.2 1398.9,808 1399.8,802.4 1400.7,793.2 1401.6,799.8 1402.5,794.1 1403.4,804.3 1404.3,808.8 1405.2,800.9 1406.1,800.4 1407,794.4 1408.9,795.3 1409.8,793.1 1410.7,798.2 1411.6,799.5 1413.4,805.6 1414.3,783.2 1416.1,799.3 1417,797.7 1417.9,805.2 1418.8,807.7 1419.7,827.5 1421.5,825.5 1422.4,835.3 1423.3,826.9 1425.2,832.6 1426.1,826.9 1427,833.5 1427.9,832.7 1428.8,838.2 1429.7,835 1430.6,838.5 1431.5,831.7 1432.4,831.6 1433.3,829.5 1434.2,845.1 1435.1,837.6 1436,833 1437.8,841.7 1438.7,838 1439.6,837.5 1440.5,835.6 1442.3,821.4 1443.3,830.7 1444.2,833.5 1445.1,833.6 1446,839.1 1446.9,841.8 1447.8,837.8 1448.7,841.4 1449.6,851 1450.5,853.6 1451.4,845.4 1452.3,843.4 1453.2,844.1 1454.1,841.7 1455,842.6 1455.9,845.8 1456.8,843.7 1457.7,842.7 1459.5,862.1 1462.3,853.5 1463.2,851.8 1464.1,852 1465,862.6 1465.9,864.4 1466.8,860.5 1467.7,853.8 1468.6,858.1 1469.5,858 1470.4,856.6 1472.2,860.9 1474.9,845.1 1475.8,848.3 1476.7,845.6 1478.6,850.8 1479.5,859 1480.4,860.3 1481.3,862.9 1482.2,868.8 1483.1,870.4 1484,877 1485.8,878.4 1486.7,878.4 1487.6,873 1488.5,872.7 1489.4,869.3 1490.3,869.8 1491.2,872.3 1493,883.7 1493.9,886.5 1494.9,875 1495.8,875.2 1496.7,873.8 1497.6,877.5 1498.5,877.4 1499.4,874.1 1500.3,874.7 1501.2,873.1 1502.1,873.7 1503,869.2 1503.9,866.7 1504.8,865.9 1505.7,868.8 1506.6,876.8 1507.5,880.6 1508.4,882.7 1509.3,881.5 1510.2,876.6 1512.1,876.3 1514.8,881 1515.7,880.2 1516.6,883.9 1517.5,882.9 1519.3,886.1 1520.2,881.6 1521.1,885 1522,885.9 1522.9,893.6 1523.8,892.1 1524.7,893.1 1525.6,889 1526.5,891.5 1527.4,896.2 1528.3,895.9 1529.3,899.1 1531.1,889.2 1532,890.5 1532.9,885.4 1533.8,885.3 1534.7,879.8 1535.6,878.2 1536.5,878.2 1537.4,875.1 1538.3,878.7 1539.2,878.4 1540.1,879.1 1541,873.8 1542.8,878.4 1543.7,883 1544.6,883.5 1545.5,885.1 1546.5,884.8 1547.4,888.5 1548.3,885.7 1549.2,888.8 1550.1,886.9 1551,894.8 1551.9,888.4 1552.8,891.2 1553.7,888.9 1554.6,889.9 1556.4,884.7 1557.3,886.4 1558.2,886 1559.1,882.9 1560,886.8 1560.9,885.8 1561.8,886.6 1562.7,884.9 1563.6,888.9 1564.6,890.6 1566.4,884.3 1567.3,888.2 1569.1,891.3 1570,887.2 1570.9,889.7 1571.8,885.7 1572.7,885.3 1573.6,887.6 1574.5,896.5 1575.4,896.2 1577.2,891.6 1579,892 1580.8,897.2 1581.8,894.1 1582.7,893.8 1583.6,895.3 1584.5,903.7 1585.4,905.9 1586.3,906.6 1587.2,904.6 1588.1,906.7 1589,906 1589.9,903.2 1590.8,902.5 1591.7,906.2 1592.6,908 1593.5,906.7 1595.3,912 1597.1,908.5 1599,911.2 1599.9,910.5 1600.8,911.2 1601.7,915.8 1602.6,913.9 1603.5,914.8 1604.4,917.3 1605.3,921.8 1606.2,923.9 1607.1,921.7 1608.9,926.6 1610.7,929.8 1611.6,928.4 1612.5,928.1 1613.4,928.2 1614.3,929.8 1615.2,932.6 1617.1,934 1619.8,939.4 1620.7,940.1 1622.5,942.4 1626.1,945.3 1630.6,947 1635.2,948.1 1646.9,949.2 1662.3,949.5 1711.2,949.5"/>
<path d="M1277.6,949.5 1377.2,949.5 1378.1,946.7 1379,939.2 1381.7,900.5 1382.6,891.5 1383.5,886.7 1385.3,869.7 1386.2,864.4 1387.1,862 1388,864.1 1388.9,864.7 1389.8,856.7 1390.8,854.5 1392.6,865.5 1393.5,862.9 1394.4,856 1395.3,857.5 1396.2,862.2 1397.1,859.6 1398,866.6 1398.9,864.5 1399.8,854.4 1400.7,849.6 1401.6,848.9 1402.5,850.8 1404.3,857.9 1405.2,859.2 1406.1,852.7 1407,856.4 1408.9,850.9 1409.8,851.1 1410.7,857 1411.6,858.5 1412.5,850.9 1414.3,846.7 1415.2,848.9 1416.1,852.8 1417,852.7 1417.9,857.5 1418.8,858.6 1419.7,863 1420.6,864.4 1421.5,873.3 1423.3,862.2 1424.2,859.6 1425.2,864.3 1426.1,863.9 1427,855.8 1427.9,862.7 1428.8,856.9 1429.7,854.7 1430.6,859.5 1431.5,861.3 1432.4,868.2 1433.3,858 1434.2,852.1 1435.1,850.4 1436,850.5 1437.8,861.8 1438.7,863.6 1439.6,863.2 1440.5,856.5 1442.3,866.9 1443.3,865.9 1444.2,863.9 1446,869.1 1446.9,864.9 1447.8,867.5 1448.7,871.8 1450.5,863.3 1451.4,863.5 1452.3,871.2 1453.2,870.2 1455,871.8 1455.9,867.5 1456.8,868.8 1457.7,868.1 1458.6,868.2 1459.5,863.7 1461.4,867 1462.3,874 1463.2,873.3 1464.1,873.2 1465,872.3 1465.9,865.3 1466.8,867 1467.7,867 1468.6,879.6 1469.5,880.1 1470.4,877.8 1471.3,874.1 1472.2,873.2 1473.1,874.4 1474,873.8 1474.9,876.9 1475.8,876.6 1476.7,877.8 1477.7,886 1478.6,884.3 1480.4,888.5 1481.3,892.8 1482.2,890.7 1484,892.5 1485.8,885 1486.7,879.7 1487.6,883.6 1488.5,881.6 1489.4,884.4 1490.3,880.8 1491.2,883.7 1493,886.5 1493.9,883.3 1494.9,884 1496.7,891.3 1498.5,893.8 1499.4,893.5 1500.3,886.2 1503,896.6 1503.9,894.5 1504.8,887.7 1505.7,890.7 1506.6,889.9 1507.5,889.7 1508.4,891.3 1509.3,889.9 1510.2,890.1 1511.1,887.8 1512.1,888.5 1513.9,892.4 1514.8,897 1515.7,898.9 1516.6,899.3 1517.5,901.1 1518.4,901.8 1521.1,894.7 1522,898.2 1523.8,894.7 1524.7,896.6 1525.6,900.3 1526.5,899.4 1527.4,900.3 1528.3,898.1 1529.3,898 1531.1,891.2 1532,893.2 1532.9,898.3 1534.7,904.1 1535.6,903 1536.5,905.2 1538.3,902.9 1539.2,903 1540.1,905.8 1541,904.8 1541.9,902.1 1542.8,902.6 1544.6,898.8 1546.5,902.7 1547.4,902.2 1548.3,902.4 1549.2,901.6 1550.1,902.5 1551,899.1 1551.9,900.8 1552.8,900.9 1553.7,900.4 1554.6,900.4 1555.5,907.4 1556.4,906.1 1557.3,909.7 1558.2,911.5 1560,910 1560.9,907 1561.8,909.3 1562.7,908.5 1563.6,903.1 1564.6,900.6 1565.5,901.4 1568.2,902.7 1569.1,901.4 1570,905.4 1570.9,904.6 1571.8,906.7 1572.7,906.4 1573.6,910.7 1574.5,912.8 1575.4,910.2 1576.3,910.6 1577.2,909.8 1579,911.7 1580.8,915.9 1581.8,915.3 1583.6,921.7 1584.5,923.7 1585.4,924.7 1586.3,924.6 1588.1,928.1 1589,928.8 1589.9,931.5 1590.8,931.4 1591.7,933.9 1592.6,934.1 1593.5,936.3 1596.2,941 1597.1,942.1 1599.9,944.3 1600.8,945.5 1603.5,947.2 1609.8,948.6 1618,949.3 1711.2,949.5"/>
<path d="M1277.6,949.5 1378.1,949.5 1379,948.7 1379.9,940.1 1383.5,867.8 1384.4,855.5 1386.2,844.3 1387.1,829.9 1388,821.5 1388.9,819.5 1389.8,822.4 1390.8,808.6 1391.7,816.7 1392.6,808.5 1393.5,822.5 1394.4,821.3 1395.3,814.4 1397.1,789.8 1398,790.5 1398.9,789.1 1399.8,782.6 1400.7,784 1401.6,778.9 1402.5,776.7 1403.4,785.2 1404.3,779.3 1405.2,790.6 1406.1,783.6 1407,789.2 1408,786 1408.9,786.2 1409.8,794.2 1410.7,783.6 1411.6,786.1 1412.5,772.8 1413.4,777 1414.3,772.3 1415.2,785.7 1417,798.5 1417.9,796.2 1418.8,787.2 1419.7,789.1 1420.6,788.4 1422.4,802.8 1424.2,825.5 1425.2,820.5 1426.1,811.6 1427,808.5 1427.9,809.7 1428.8,812.7 1429.7,813.4 1432.4,792.3 1433.3,793.3 1434.2,788.6 1435.1,803.2 1436,804.5 1436.9,807.1 1437.8,795.3 1438.7,801 1439.6,810.4 1440.5,810.7 1441.4,806.2 1442.3,808.2 1443.3,792 1444.2,787.9 1445.1,780.1 1446.9,797.7 1447.8,795 1448.7,800.3 1449.6,798.3 1450.5,810.4 1451.4,810.4 1452.3,824.4 1453.2,823.6 1454.1,827.1 1455,827.9 1455.9,827.5 1456.8,824.4 1457.7,812.6 1458.6,813.8 1459.5,816.1 1460.5,829.1 1461.4,833 1462.3,839.9 1463.2,834.6 1464.1,837.7 1465,846.3 1465.9,844.8 1467.7,867.4 1468.6,859.4 1469.5,855 1470.4,843.4 1471.3,842.4 1473.1,832.8 1474,836.9 1474.9,825 1475.8,819.5 1476.7,819.5 1477.7,817.1 1478.6,820.5 1480.4,842.1 1481.3,845.2 1482.2,841.8 1483.1,844.5 1484,849.5 1484.9,848.5 1487.6,842.6 1488.5,838.6 1489.4,844 1490.3,838.8 1491.2,836.1 1492.1,838 1493,845.3 1493.9,845.3 1494.9,841.8 1495.8,846.7 1496.7,841.1 1497.6,838.9 1498.5,842.2 1499.4,844.3 1500.3,845.5 1501.2,849.8 1502.1,849 1503,857.3 1503.9,860 1504.8,861 1505.7,854.5 1506.6,852.8 1507.5,852.4 1508.4,853.8 1509.3,849.4 1511.1,854.3 1512.1,851.8 1514.8,861 1515.7,866.2 1516.6,855.9 1517.5,857.2 1518.4,862.1 1519.3,863.4 1521.1,858.6 1522,866.9 1522.9,866.3 1523.8,868 1524.7,868.3 1525.6,875.4 1526.5,875.5 1527.4,876.6 1528.3,875 1529.3,879.2 1530.2,880.4 1531.1,878.6 1532,880.1 1532.9,882.6 1533.8,883.2 1534.7,882.1 1536.5,884.6 1538.3,879.9 1540.1,877 1541,878.3 1541.9,880.9 1542.8,886.1 1544.6,891.3 1545.5,890.5 1546.5,887.3 1547.4,891.5 1548.3,891.3 1550.1,897.2 1551.9,898.2 1553.7,898.2 1555.5,902.9 1556.4,907.8 1557.3,905.4 1558.2,900.8 1559.1,902.9 1560,906.8 1561.8,910.2 1562.7,913.2 1563.6,914 1565.5,918.4 1567.3,924.7 1568.2,926 1570.9,926.4 1571.8,927.4 1573.6,932.1 1575.4,934.9 1576.3,935.2 1577.2,937.2 1578.1,937.2 1579,938.5 1581.8,940.7 1582.7,942.5 1584.5,943.8 1585.4,943.4 1587.2,945 1596.2,948.1 1608.9,949.2 1630.6,949.5 1711.2,949.5"/>
<path d="M1277.6,949.5 1379.9,949.5 1380.8,946.3 1383.5,903.6 1388,851.2 1388.9,851.5 1390.8,865.1 1391.7,856.9 1392.6,858.7 1393.5,855.7 1394.4,856.9 1395.3,850.8 1397.1,857.9 1398,854.1 1398.9,844.9 1399.8,853.9 1400.7,844.2 1401.6,846.2 1402.5,847.1 1403.4,846.9 1405.2,843.3 1406.1,845.8 1407,842.3 1408,826.8 1408.9,831.3 1409.8,823 1410.7,819.1 1411.6,819.3 1412.5,832.4 1413.4,828.9 1415.2,838.9 1416.1,848.9 1417.9,845.1 1418.8,848.4 1419.7,838 1420.6,835.7 1421.5,835.8 1422.4,836.5 1423.3,844 1424.2,846.8 1425.2,845.7 1427,848.4 1427.9,855.7 1428.8,853 1429.7,847.7 1431.5,843.2 1432.4,846.8 1433.3,853.6 1434.2,856.7 1435.1,858 1436,851.2 1436.9,851.7 1437.8,851 1439.6,863.3 1440.5,862.7 1441.4,858 1442.3,855.1 1443.3,863.1 1444.2,866 1445.1,854.3 1446,853 1446.9,856.1 1448.7,865.3 1449.6,866.3 1450.5,871 1451.4,867 1452.3,872.8 1453.2,871.6 1454.1,873.3 1455,865.5 1455.9,865.3 1456.8,872.6 1457.7,874 1458.6,879.1 1459.5,877 1460.5,879.4 1461.4,878.7 1462.3,876.2 1463.2,878.2 1464.1,878.2 1465,879.7 1465.9,885.1 1467.7,891.8 1468.6,889.8 1469.5,889.8 1470.4,886.8 1471.3,896.1 1473.1,896.5 1474,894.7 1474.9,893.9 1476.7,885.2 1478.6,896.8 1479.5,893.3 1480.4,887.3 1481.3,885.3 1482.2,884.4 1484,890.5 1484.9,895.6 1486.7,898.8 1487.6,901.5 1488.5,898.3 1489.4,897 1490.3,893.8 1491.2,897.1 1492.1,897.3 1493,898 1493.9,899.3 1494.9,897.6 1495.8,897.9 1496.7,901.9 1497.6,903.4 1498.5,900.5 1499.4,895.8 1500.3,898.6 1501.2,899.1 1502.1,898.2 1503,896 1503.9,895.5 1505.7,898.7 1506.6,905.2 1507.5,906 1508.4,908.5 1509.3,903.1 1511.1,899.9 1513,898.1 1513.9,899.7 1514.8,899.6 1515.7,901.2 1516.6,897.7 1517.5,901.1 1518.4,899.8 1520.2,903.8 1522,905.6 1522.9,901.9 1523.8,904 1524.7,908.4 1525.6,908 1526.5,909.1 1527.4,906.5 1528.3,910.7 1529.3,911.2 1530.2,906.4 1531.1,908.6 1532,902.6 1532.9,903.9 1533.8,906.2 1534.7,912 1535.6,910.7 1536.5,906.1 1537.4,904.7 1538.3,908.6 1539.2,905.7 1540.1,906.6 1541,906.9 1542.8,904.5 1544.6,904.4 1545.5,906.6 1546.5,907 1547.4,904.8 1548.3,906.4 1549.2,902.8 1550.1,908.8 1551,906.5 1551.9,909.9 1552.8,910 1553.7,908.6 1554.6,908.9 1555.5,910.1 1556.4,909 1557.3,912.4 1558.2,910.4 1559.1,912.8 1560,908.1 1560.9,907.2 1561.8,908.2 1562.7,906.5 1563.6,909.5 1564.6,910.4 1566.4,908.7 1567.3,907.2 1568.2,909.3 1569.1,909.7 1570,910.9 1570.9,911.1 1571.8,907.9 1572.7,909.4 1573.6,909.5 1574.5,908.3 1575.4,909.3 1576.3,908.8 1577.2,910.2 1578.1,908.2 1579,911.9 1579.9,912.9 1582.7,910.1 1583.6,911.3 1585.4,920.8 1586.3,920.5 1587.2,916.1 1588.1,914.8 1589,917.1 1589.9,918.3 1590.8,918.9 1591.7,918.6 1593.5,920.4 1594.4,919.7 1596.2,921.3 1598,919.8 1599,919.8 1599.9,918.2 1600.8,913.6 1601.7,913.3 1602.6,913.9 1603.5,917.4 1605.3,916.7 1606.2,918.9 1607.1,919.3 1608.9,923.9 1610.7,925.7 1611.6,925.1 1614.3,931.1 1615.2,932.2 1616.2,931.7 1617.1,932.6 1618,933.9 1618.9,934.6 1619.8,936.1 1620.7,936.7 1621.6,938.3 1623.4,940.1 1625.2,942.7 1626.1,943.3 1627.9,943.8 1628.8,944.7 1631.5,945.5 1635.2,947.4 1638.8,948.3 1645.1,949.1 1656.9,949.4 1711.2,949.5"/>
<path d="M1277.6,949.5 1379,949.5 1379.9,945.5 1382.6,881.7 1383.5,871.1 1384.4,854.2 1385.3,846.6 1387.1,840.8 1388,834.8 1388.9,837.7 1389.8,839.3 1390.8,839.3 1391.7,827.3 1392.6,830.4 1393.5,830.6 1394.4,829 1395.3,818.7 1396.2,819.6 1397.1,816.9 1398,815.8 1398.9,820.6 1399.8,833.1 1400.7,832.2 1401.6,836.6 1402.5,837.9 1403.4,840.7 1404.3,837.1 1405.2,825.5 1406.1,829.5 1407,829.8 1408,825 1408.9,830.5 1409.8,821 1410.7,822.8 1411.6,810.3 1412.5,808.6 1413.4,813.4 1414.3,813.5 1415.2,815.1 1416.1,813 1417.9,803.5 1418.8,790 1419.7,792.1 1420.6,792.8 1422.4,815.1 1423.3,811.5 1424.2,814.6 1425.2,814.3 1427,820.5 1427.9,819.1 1429.7,822.8 1430.6,825.4 1431.5,839.4 1432.4,836.4 1433.3,846.2 1434.2,848.1 1435.1,847.9 1436,851.5 1436.9,849.1 1437.8,848.6 1438.7,848.7 1439.6,847.1 1440.5,857.7 1442.3,844 1443.3,848.2 1445.1,861 1446,856.4 1446.9,862.8 1447.8,864.3 1448.7,862.7 1449.6,855.1 1451.4,860 1452.3,856.6 1453.2,858.3 1454.1,859.3 1455,852 1456.8,860.9 1457.7,860.5 1459.5,845.2 1460.5,844.7 1461.4,837 1462.3,837.4 1463.2,845.5 1464.1,845.4 1465,839.9 1465.9,842.5 1467.7,858.7 1468.6,856.4 1469.5,857.2 1470.4,854.6 1471.3,855.2 1472.2,857.9 1473.1,863.4 1474,863 1474.9,861.1 1475.8,861.7 1476.7,859.7 1477.7,856.2 1478.6,855.3 1479.5,855.8 1480.4,859.1 1482.2,860.4 1484,851.5 1484.9,852.8 1485.8,858.3 1486.7,858.2 1487.6,862.3 1489.4,858.1 1490.3,861.6 1491.2,863.1 1492.1,870.3 1493,867.7 1493.9,872.4 1494.9,865.1 1495.8,863.4 1496.7,870.4 1498.5,877.4 1499.4,873.2 1500.3,873.7 1502.1,868.1 1503,873.4 1503.9,874.1 1504.8,870.3 1505.7,871.1 1507.5,875.2 1508.4,868.6 1509.3,866.4 1510.2,867.1 1511.1,866 1512.1,869.4 1513,875.6 1513.9,878.2 1514.8,878.7 1515.7,876.7 1517.5,882.8 1518.4,881.3 1519.3,880.8 1520.2,879.3 1521.1,876.2 1522,875.2 1522.9,874.9 1523.8,882.1 1524.7,878.7 1525.6,878.6 1527.4,879.8 1528.3,880.8 1529.3,880.5 1531.1,896.6 1532,890.9 1532.9,896.4 1533.8,887.9 1534.7,891.5 1536.5,887.8 1537.4,890.5 1538.3,890.2 1540.1,897.6 1541,897.3 1541.9,898.9 1543.7,892.6 1545.5,901.1 1546.5,902 1547.4,902.1 1548.3,898.8 1549.2,900.8 1550.1,898.6 1551,898.6 1551.9,900 1555.5,917.7 1558.2,924.7 1560,931.3 1561.8,936.2 1565.5,941.8 1566.4,942.4 1567.3,943.8 1569.1,945.4 1570,945.5 1574.5,947.8 1578.1,948.7 1588.1,949.4 1711.2,949.5"/>
<path d="M1277.6,949.5 1366.3,949.5 1367.2,948.3 1368.1,945.3 1370.8,931.4 1372.6,913.2 1374.5,898.4 1375.4,893.3 1377.2,884.1 1378.1,881.9 1380.8,886 1383.5,862.3 1384.4,861.6 1385.3,864.5 1386.2,869.4 1387.1,869.8 1388,869.6 1388.9,866.7 1389.8,868.9 1390.8,875.9 1392.6,882.5 1393.5,881.9 1394.4,880.4 1396.2,869.6 1397.1,871.3 1398,869.4 1398.9,873.8 1399.8,869.1 1401.6,863.8 1402.5,863.5 1403.4,857.9 1404.3,848.6 1405.2,852.9 1406.1,849.6 1409.8,848.4 1410.7,847 1411.6,850.8 1412.5,852.6 1413.4,846.2 1415.2,854.6 1416.1,854.8 1417,862 1418.8,868 1419.7,862 1420.6,864.1 1421.5,867.5 1422.4,867.4 1423.3,860.4 1424.2,872.8 1425.2,870.9 1426.1,871.7 1427,862 1427.9,861.9 1428.8,858 1429.7,857.4 1431.5,865.7 1433.3,854.2 1434.2,853.2 1435.1,853.8 1436.9,866.8 1437.8,870.4 1439.6,874.1 1441.4,881.3 1442.3,875 1443.3,874.4 1444.2,870 1445.1,870.8 1446,872.7 1446.9,876.4 1448.7,871.8 1449.6,872 1450.5,874.1 1451.4,873.4 1452.3,875.2 1453.2,874.2 1454.1,872.6 1455,869.6 1455.9,868.2 1456.8,865.8 1457.7,867.4 1458.6,872.8 1459.5,881.9 1460.5,880.7 1461.4,881.6 1462.3,880.1 1463.2,882.8 1464.1,883.7 1466.8,899.3 1467.7,896.6 1468.6,900.5 1469.5,894 1470.4,896.2 1471.3,894.9 1472.2,896.8 1473.1,893.8 1474,898.5 1474.9,894.6 1475.8,895.5 1476.7,893.2 1478.6,897.9 1479.5,895 1481.3,900.9 1482.2,901.8 1483.1,904.5 1484,905.4 1484.9,904.9 1485.8,905.1 1486.7,902.2 1487.6,907 1488.5,903.2 1489.4,906.5 1491.2,905.1 1492.1,907.6 1493,908.1 1493.9,910.7 1494.9,912 1495.8,909.5 1496.7,914.8 1497.6,909.7 1498.5,907.9 1499.4,907 1500.3,910.9 1501.2,910.8 1502.1,909.9 1503,909.8 1504.8,908 1505.7,908.5 1506.6,910.8 1507.5,910.9 1508.4,907.4 1509.3,909.6 1510.2,908.7 1511.1,906.3 1512.1,906.7 1513,908.7 1513.9,907 1514.8,904.1 1515.7,905.4 1516.6,908.3 1517.5,909.6 1518.4,905.9 1519.3,907.7 1520.2,908.4 1521.1,911.2 1522,910.6 1522.9,911.5 1523.8,911.5 1524.7,914.4 1525.6,913.6 1526.5,910.4 1527.4,909.5 1528.3,909.6 1529.3,912.6 1530.2,913.3 1531.1,912 1533.8,915.6 1534.7,917.7 1535.6,914.7 1536.5,916 1537.4,915.9 1538.3,917.3 1539.2,917.7 1540.1,916.5 1541,916.8 1541.9,915 1542.8,915.8 1543.7,915.9 1544.6,917.7 1546.5,917.9 1547.4,919.6 1548.3,920.3 1550.1,924.4 1551,924.2 1552.8,920.3 1554.6,920.7 1557.3,919.6 1558.2,921.2 1559.1,921.9 1560,921.6 1561.8,922.9 1562.7,920.6 1563.6,919.9 1564.6,917.2 1567.3,919.9 1568.2,921.4 1570,920.3 1570.9,923.9 1571.8,922.8 1572.7,925.1 1573.6,924.2 1574.5,925.3 1578.1,932.6 1580.8,937.3 1582.7,941.9 1584.5,943.6 1586.3,945.8 1587.2,946.5 1589,947.2 1594.4,948.7 1603.5,949.4 1711.2,949.5"/>
<path d="M1277.6,949.5 1379.9,949.5 1380.8,946.3 1382.6,929.1 1384.4,901.9 1386.2,860 1387.1,849.3 1388,842.9 1388.9,844.2 1390.8,811.7 1391.7,815 1393.5,811.5 1394.4,807.9 1395.3,809.7 1396.2,797.3 1397.1,792.9 1398,798.5 1398.9,797.8 1399.8,790.6 1400.7,792.1 1402.5,812.1 1403.4,804.2 1404.3,807.6 1405.2,794.4 1407,788 1408.9,793.4 1409.8,801.2 1410.7,800.7 1411.6,796.4 1412.5,794.2 1413.4,795.9 1414.3,794.4 1415.2,794.8 1417,789.5 1417.9,792.6 1418.8,806.3 1419.7,800.3 1420.6,806.7 1421.5,800.8 1422.4,804.8 1423.3,802.1 1424.2,805.5 1425.2,818.4 1426.1,810.7 1427,809.7 1427.9,812.8 1428.8,812.3 1429.7,812.3 1430.6,818 1431.5,819.9 1432.4,820.2 1434.2,821.9 1435.1,817.3 1436,814.7 1436.9,820.5 1437.8,820.8 1438.7,819 1439.6,813.6 1440.5,822.2 1441.4,817.1 1442.3,819.8 1443.3,809.2 1444.2,820.1 1445.1,822.8 1447.8,841.7 1448.7,833.8 1449.6,833.9 1450.5,835.7 1451.4,841.3 1452.3,830.9 1453.2,827.4 1454.1,831.4 1455.9,837.1 1456.8,847.5 1457.7,843.9 1458.6,843.8 1459.5,846.6 1460.5,854.8 1461.4,857.1 1462.3,853.2 1463.2,853.5 1464.1,852.9 1465,848.1 1465.9,856.5 1466.8,859.4 1467.7,861.1 1468.6,858.4 1469.5,857.9 1470.4,858.1 1471.3,858.6 1472.2,863.1 1473.1,863.1 1474,861.4 1474.9,857.5 1475.8,861.5 1476.7,855.4 1477.7,856.7 1479.5,870.1 1480.4,871.2 1482.2,866.1 1483.1,866.7 1484,858 1484.9,864.6 1485.8,863.5 1486.7,867.3 1487.6,861.6 1488.5,863.9 1489.4,862.7 1490.3,866.6 1491.2,860.8 1492.1,865.3 1493,861.3 1493.9,867.3 1494.9,867.5 1495.8,873.9 1496.7,864.4 1497.6,865.2 1498.5,858.6 1499.4,865 1500.3,862 1501.2,865.3 1502.1,865.5 1503,870 1503.9,861.2 1504.8,871.9 1505.7,875.1 1506.6,884.9 1511.1,875.2 1513,880.9 1513.9,885.2 1514.8,886.2 1515.7,877.6 1516.6,873.9 1517.5,875.9 1518.4,881.8 1519.3,883.9 1520.2,883.1 1521.1,886.8 1522,879 1522.9,880.6 1523.8,879.9 1524.7,885.6 1525.6,881.2 1527.4,879.5 1528.3,880.2 1529.3,878.6 1530.2,880.8 1531.1,880.2 1532,876.9 1532.9,876.7 1533.8,879.6 1534.7,878.4 1535.6,883.3 1536.5,881.2 1537.4,883.9 1538.3,881.3 1540.1,890.2 1541,889.4 1542.8,885 1543.7,886.7 1544.6,886.4 1545.5,887.8 1546.5,887.1 1547.4,885.5 1548.3,890.6 1549.2,891 1550.1,898.3 1551,901.6 1551.9,907.7 1552.8,911.4 1553.7,913 1557.3,927.1 1560,935.1 1561.8,939.5 1563.6,942.4 1566.4,945.6 1569.1,947.6 1574.5,949 1583.6,949.4 1711.2,949.5"/>
<path d="M1277.6,949.5 1363.6,949.5 1364.5,947.8 1365.4,937.9 1369,863.2 1369.9,849.8 1370.8,843.3 1372.6,818.4 1373.6,817.3 1374.5,817.2 1375.4,815.5 1376.3,798.8 1377.2,798.9 1378.1,790.9 1379,791 1379.9,796.1 1380.8,809.7 1381.7,790.2 1383.5,782.3 1384.4,784.3 1385.3,774.8 1387.1,781.4 1388,773.1 1388.9,774.8 1390.8,799 1391.7,794.1 1392.6,798.8 1393.5,801.8 1394.4,797.4 1395.3,797.8 1396.2,805.6 1398,794.2 1399.8,801.4 1400.7,810.6 1402.5,821.1 1403.4,818.5 1404.3,814.4 1405.2,819.5 1406.1,815.9 1407,797.3 1408,802 1408.9,801 1409.8,808.6 1410.7,807.1 1412.5,827.3 1413.4,827.6 1414.3,837.8 1416.1,840.1 1417,828.2 1417.9,825.7 1418.8,825.2 1419.7,815.7 1420.6,810.2 1421.5,809.7 1422.4,816 1424.2,834.9 1425.2,836.5 1426.1,833.3 1427,832 1428.8,850.2 1429.7,854.6 1430.6,848.7 1431.5,848.6 1432.4,836.9 1433.3,845.3 1434.2,842.6 1435.1,844.9 1436,843.7 1436.9,844.8 1437.8,855.2 1438.7,857.9 1439.6,850.3 1440.5,854.2 1441.4,851.7 1442.3,860.2 1443.3,859.7 1444.2,862.9 1445.1,860.6 1446,854.3 1447.8,862.1 1448.7,858.5 1449.6,861.9 1450.5,860.8 1453.2,851.9 1454.1,861.1 1455,858.6 1456.8,850.8 1457.7,857.5 1458.6,856 1459.5,859.9 1460.5,852.2 1461.4,854.7 1463.2,857.8 1464.1,867.9 1465.9,857.8 1466.8,859.2 1467.7,863.3 1468.6,864 1469.5,868.9 1470.4,867.2 1471.3,869.6 1472.2,863.3 1473.1,860.9 1474,860.7 1474.9,866.5 1475.8,868.8 1476.7,872.9 1477.7,872.4 1479.5,876.4 1480.4,870.5 1481.3,870.1 1482.2,871.7 1483.1,875.1 1484,875.3 1484.9,868.9 1485.8,872.3 1486.7,878.6 1487.6,879.4 1488.5,883 1489.4,880.3 1490.3,884.2 1491.2,886.4 1492.1,883.1 1493.9,886.8 1494.9,882.8 1495.8,882.4 1496.7,873.8 1497.6,876.5 1498.5,874.1 1499.4,876.6 1500.3,877.6 1501.2,880.4 1503,875.4 1504.8,881.8 1505.7,878.2 1506.6,879.5 1507.5,879 1508.4,882.8 1509.3,883 1510.2,878.3 1511.1,879.8 1512.1,876.6 1513,875.2 1513.9,878.8 1514.8,874.8 1515.7,877 1516.6,876.7 1517.5,874.2 1518.4,875.2 1519.3,880 1520.2,878 1521.1,879.1 1522,877.7 1522.9,888.4 1523.8,886 1524.7,891.3 1525.6,891.7 1526.5,891.3 1527.4,890 1528.3,890.4 1529.3,893.2 1530.2,893.1 1531.1,898.1 1532,896.5 1532.9,891.8 1533.8,883.3 1534.7,880.4 1535.6,885.1 1536.5,881.4 1537.4,882.7 1538.3,880.8 1539.2,880.7 1541,887.3 1543.7,892.3 1544.6,901.9 1545.5,902.4 1546.5,896.9 1547.4,898.3 1550.1,890.9 1551.9,899.7 1552.8,892.5 1554.6,888.7 1556.4,882.6 1559.1,892.5 1560,892.4 1560.9,892.8 1561.8,892.5 1562.7,890.7 1563.6,893.4 1564.6,900.3 1565.5,902 1566.4,903.2 1567.3,900.3 1570,906.5 1570.9,909.6 1571.8,910.7 1572.7,909.8 1573.6,912.3 1574.5,910.1 1575.4,910.8 1576.3,916.5 1577.2,916.8 1578.1,919.5 1579,918 1579.9,919.2 1580.8,919.1 1581.8,922.6 1583.6,926.7 1584.5,925 1585.4,928.2 1589,934.4 1589.9,934.6 1591.7,937.6 1593.5,938.9 1596.2,941.9 1598,943.3 1601.7,945.6 1607.1,947.5 1614.3,948.8 1627,949.4 1711.2,949.5"/>
<path d="M1277.6,949.5 1367.2,949.5 1368.1,949 1369,941.3 1369.9,926.6 1372.6,861.2 1374.5,844.4 1375.4,842.3 1377.2,833.6 1378.1,832.7 1379,823.9 1379.9,823.1 1380.8,823.8 1381.7,831.8 1383.5,821.6 1384.4,821.9 1385.3,817.4 1386.2,808.5 1388,829 1388.9,825.6 1389.8,830.4 1390.8,830.3 1391.7,826.9 1392.6,816.9 1393.5,818.5 1394.4,822.5 1395.3,810.8 1397.1,818.2 1398,810.9 1398.9,812.6 1399.8,813.5 1400.7,817.7 1401.6,813.2 1402.5,812 1404.3,797.8 1405.2,799.5 1406.1,808.5 1408,802.9 1408.9,802.9 1409.8,799.8 1410.7,812.9 1411.6,811.9 1412.5,816.8 1413.4,804.9 1414.3,804.3 1416.1,828.2 1417,826.4 1417.9,825.4 1418.8,813.4 1419.7,809.9 1420.6,812.5 1421.5,808 1422.4,819.1 1424.2,799.5 1425.2,801.4 1426.1,801.8 1427,812.1 1427.9,806 1428.8,810.7 1429.7,806.1 1430.6,793.4 1431.5,794.5 1433.3,809.6 1434.2,802.5 1436,825.7 1436.9,823 1437.8,825.2 1439.6,812.2 1440.5,809.6 1442.3,836.4 1444.2,828.7 1445.1,830.2 1446,833.3 1446.9,838.8 1447.8,835.4 1448.7,835.1 1449.6,827.2 1450.5,830.8 1452.3,817 1453.2,819.5 1454.1,825.9 1455,829.7 1455.9,831.1 1456.8,828.2 1457.7,832.8 1458.6,831.5 1459.5,844.3 1460.5,848 1461.4,845.5 1463.2,826.8 1464.1,829.8 1465,825.7 1465.9,824.2 1467.7,810.4 1470.4,834.3 1471.3,828.4 1472.2,828.2 1473.1,830.9 1474,843.4 1475.8,856.7 1476.7,853.2 1477.7,851 1479.5,860.9 1481.3,862.1 1482.2,858.8 1483.1,862.3 1484,858.2 1484.9,859 1485.8,863 1486.7,859.4 1487.6,865.3 1488.5,867 1489.4,871.9 1490.3,870.4 1491.2,862.6 1492.1,867 1494.9,861.6 1495.8,855.9 1496.7,862.1 1498.5,865.7 1499.4,863.8 1500.3,852.9 1501.2,855.4 1502.1,855.3 1504.8,869.2 1505.7,862.7 1506.6,867.5 1507.5,866.8 1508.4,871.3 1509.3,870.1 1510.2,876.7 1511.1,878.1 1512.1,870.1 1513,866 1515.7,868.8 1517.5,876 1518.4,877.5 1520.2,882.1 1521.1,876.6 1522,874.8 1522.9,871.3 1523.8,871.1 1524.7,875.1 1526.5,871.2 1527.4,871.8 1528.3,869.8 1529.3,871.2 1530.2,870.2 1531.1,873 1532,878.6 1532.9,879.9 1533.8,880.5 1534.7,883.8 1535.6,880.5 1536.5,889.2 1537.4,885.8 1538.3,888 1539.2,892.3 1541,897.5 1542.8,894.7 1543.7,897.4 1544.6,896 1545.5,903.4 1546.5,907.5 1547.4,906.4 1548.3,901.8 1549.2,900.2 1551,907.2 1551.9,905.7 1552.8,907.2 1553.7,906.3 1555.5,910.5 1556.4,913.5 1557.3,913 1558.2,915.8 1560,918.7 1561.8,923.2 1562.7,926.8 1563.6,927.8 1564.6,930.8 1565.5,931.3 1566.4,933.2 1567.3,934.1 1569.1,938.7 1570,938.8 1572.7,941.9 1573.6,942.4 1574.5,942.5 1575.4,943.5 1577.2,944.7 1579,945.3 1580.8,946.4 1583.6,946.8 1587.2,947.9 1593.5,948.8 1599,949.2 1620.7,949.5 1711.2,949.5"/>
<path d="M1277.6,949.5 1365.4,949.5 1366.3,946.9 1367.2,939.9 1369.9,896 1370.8,876.6 1371.7,868.7 1373.6,858 1374.5,849.1 1375.4,830.2 1376.3,839.8 1377.2,825.2 1379,816.3 1379.9,822.8 1380.8,821 1382.6,806.6 1383.5,812.7 1385.3,813.7 1386.2,805.5 1387.1,808.5 1388,803.1 1388.9,808.3 1389.8,807.5 1390.8,807.3 1391.7,807.7 1392.6,798.2 1393.5,798.1 1394.4,802.8 1395.3,803.1 1396.2,800.3 1397.1,806.1 1398,806 1398.9,810 1399.8,797.2 1400.7,808.5 1401.6,811.1 1402.5,816.1 1403.4,817.2 1404.3,803.3 1405.2,803.4 1406.1,812.7 1407,813.5 1408,807.1 1408.9,794.8 1409.8,792.2 1410.7,784.4 1411.6,782.5 1412.5,782 1413.4,796.8 1414.3,787.2 1415.2,796.6 1416.1,795.7 1417,790.4 1418.8,794.8 1419.7,793.9 1420.6,795.5 1421.5,780.4 1422.4,774.8 1423.3,773.4 1425.2,786.7 1426.1,789.3 1427.9,803 1430.6,811.9 1431.5,823.2 1432.4,814.3 1433.3,826 1435.1,821.5 1436,824.4 1436.9,825.5 1437.8,836.8 1439.6,829.9 1440.5,836.7 1442.3,835.4 1443.3,839.5 1444.2,841.1 1445.1,841.2 1446.9,836.8 1447.8,836.3 1448.7,827.1 1449.6,827.3 1450.5,831.8 1451.4,832.1 1452.3,833.2 1453.2,829.8 1455,845.3 1455.9,848.5 1456.8,848.6 1457.7,849.6 1458.6,848.5 1460.5,851 1461.4,858.2 1462.3,858.6 1463.2,858.4 1464.1,860.1 1465,853.9 1465.9,852.3 1466.8,851.6 1467.7,857.8 1468.6,860.2 1470.4,873.5 1471.3,870.7 1472.2,863.8 1473.1,868.7 1474,870.1 1474.9,866.5 1475.8,852.1 1476.7,850.2 1477.7,857.3 1478.6,860.2 1479.5,861.5 1480.4,861.8 1481.3,858.2 1482.2,858.1 1484,868 1484.9,868.7 1485.8,865.5 1486.7,865.4 1487.6,870.5 1488.5,867.2 1489.4,866.8 1490.3,870.9 1491.2,870.3 1492.1,870.9 1493.9,867.2 1494.9,876.9 1495.8,870.6 1496.7,872.5 1497.6,868.3 1498.5,872.3 1499.4,867.1 1500.3,866.4 1501.2,859 1502.1,862.6 1503,864 1504.8,878 1505.7,881.4 1506.6,882.5 1507.5,885.3 1508.4,884.2 1509.3,886.9 1510.2,882.6 1511.1,885.3 1512.1,885.9 1513.9,870.2 1514.8,870.4 1516.6,880.3 1517.5,883 1518.4,884.5 1519.3,887.8 1520.2,885.7 1522,890.1 1522.9,893.4 1523.8,888.6 1525.6,872.3 1526.5,871.2 1527.4,874 1528.3,869.2 1529.3,866.3 1530.2,869.3 1531.1,869.8 1532.9,873.4 1535.6,887.3 1536.5,889.1 1537.4,889.6 1538.3,889.5 1540.1,888.3 1541,893.1 1541.9,894.3 1542.8,893.4 1543.7,889.7 1544.6,892 1545.5,891.4 1546.5,885.3 1547.4,885.6 1548.3,887.1 1550.1,884.7 1551,888.5 1551.9,888.2 1552.8,882.4 1553.7,885.1 1554.6,886.1 1555.5,890.4 1556.4,888.6 1559.1,894.9 1560,894.7 1560.9,897.3 1561.8,891 1562.7,890.6 1563.6,893.2 1565.5,901.7 1566.4,897.9 1568.2,898.6 1570,902.3 1570.9,907.4 1571.8,906.4 1572.7,908.6 1575.4,907.4 1576.3,909.2 1577.2,909.6 1578.1,912.6 1579,913.5 1579.9,913.9 1581.8,909.9 1585.4,923.6 1586.3,921 1587.2,922.8 1589,925.1 1589.9,928.3 1590.8,928.3 1591.7,931.2 1592.6,932.1 1594.4,936.2 1595.3,937.4 1596.2,937.1 1597.1,938.5 1598,938.4 1599,939.7 1599.9,939.5 1600.8,940.1 1603.5,942.7 1604.4,942.9 1605.3,943.8 1609.8,946.2 1615.2,947.7 1619.8,948.5 1629.7,949.3 1711.2,949.5"/>
<path d="M1277.6,949.5 1375.4,949.5 1376.3,945 1378.1,924.3 1379.9,888.7 1380.8,876.3 1382.6,869.9 1383.5,858.6 1386.2,837.3 1387.1,827.3 1388,831.9 1388.9,834.6 1390.8,846.4 1391.7,846.3 1392.6,850.7 1393.5,847.2 1395.3,843 1396.2,842.3 1397.1,845.7 1398,836.8 1398.9,831.4 1399.8,832 1400.7,835 1401.6,844.7 1402.5,841.4 1403.4,843.8 1404.3,840.2 1405.2,851.4 1406.1,852.3 1407,857.2 1408,852.4 1408.9,857.7 1409.8,853.5 1410.7,860.4 1411.6,859.2 1412.5,860.2 1413.4,851.8 1414.3,850.8 1415.2,853.5 1416.1,852.8 1417,849.5 1418.8,858.1 1419.7,855.1 1421.5,858.2 1422.4,871.7 1423.3,871.2 1424.2,876.3 1425.2,876.8 1426.1,875.9 1427,876 1428.8,869.3 1429.7,867.7 1430.6,868.7 1431.5,872.4 1432.4,871.8 1433.3,868.1 1434.2,867.1 1435.1,867.2 1436,873.9 1436.9,874.8 1437.8,873.3 1438.7,876.3 1440.5,876.7 1441.4,881.8 1442.3,881.4 1444.2,877.5 1445.1,878.5 1446,880.6 1446.9,876.4 1447.8,875.2 1448.7,876.4 1449.6,876 1450.5,883.5 1451.4,885.7 1452.3,889.3 1453.2,889.1 1454.1,890.4 1455.9,881.5 1456.8,883.6 1457.7,889.3 1459.5,893.3 1460.5,889.2 1461.4,887.5 1462.3,888.1 1463.2,892.6 1464.1,893.9 1465,894.5 1465.9,891.2 1467.7,893.3 1468.6,891.5 1469.5,892.3 1470.4,888.4 1471.3,890.5 1472.2,890.2 1474,895.1 1474.9,895.6 1475.8,893.8 1476.7,898.8 1477.7,892.6 1478.6,891.8 1479.5,888.4 1480.4,891 1481.3,892.1 1482.2,895.1 1483.1,894.5 1484,899.5 1484.9,897.1 1485.8,897.4 1487.6,893.3 1489.4,895.9 1490.3,898 1491.2,897 1492.1,898 1493.9,903.4 1494.9,905 1496.7,904.3 1497.6,906.1 1498.5,903.7 1499.4,905.2 1500.3,897.3 1501.2,901.3 1502.1,900 1503,903.7 1503.9,903.4 1504.8,903.6 1506.6,902.6 1507.5,905.6 1509.3,906.8 1510.2,909 1512.1,911.4 1513,910.1 1514.8,910.4 1515.7,908.8 1516.6,911.6 1518.4,909.8 1519.3,910.5 1520.2,907.4 1521.1,907.4 1522.9,911.4 1523.8,910.8 1524.7,906.1 1525.6,904.3 1526.5,903.4 1527.4,904.6 1528.3,903.5 1529.3,906.4 1530.2,906.3 1531.1,909.6 1532,911.1 1532.9,911.1 1533.8,914.9 1534.7,911.8 1535.6,912.3 1536.5,911.7 1537.4,908.4 1538.3,908 1539.2,908.7 1540.1,911.7 1541,911.6 1541.9,907.1 1542.8,908.1 1543.7,906.2 1544.6,910.3 1545.5,909.7 1546.5,910.5 1547.4,909.7 1548.3,911.3 1549.2,908.6 1551,911.9 1551.9,908.5 1552.8,906.6 1553.7,906.3 1554.6,907.9 1555.5,906.4 1556.4,907 1557.3,909.8 1558.2,909.4 1560,915 1560.9,915.8 1561.8,914.5 1562.7,915.3 1563.6,919.3 1564.6,920.2 1565.5,918.8 1567.3,921.8 1569.1,924.1 1571.8,932.6 1572.7,933.6 1573.6,935.8 1574.5,936.5 1576.3,939.8 1577.2,940.9 1579,941.5 1581.8,945.3 1585.4,947.7 1589.9,948.9 1599.9,949.4 1711.2,949.5"/>
<path d="M1277.6,949.5 1364.5,949.5 1365.4,947.5 1367.2,932.2 1369,909.9 1370.8,881.6 1371.7,872.6 1372.6,867 1373.6,866.2 1376.3,843.9 1377.2,841.3 1378.1,843.7 1379,856.7 1379.9,858.3 1381.7,831.1 1382.6,830.7 1383.5,831.8 1384.4,835.9 1385.3,828.9 1386.2,832.8 1387.1,825.6 1388,836.7 1388.9,841.7 1390.8,848.1 1392.6,863.3 1393.5,859.6 1394.4,861.6 1395.3,857.6 1396.2,849.6 1397.1,848.4 1398,854.3 1398.9,856.5 1399.8,857.4 1400.7,847.6 1401.6,853.2 1402.5,846.4 1403.4,857.4 1404.3,862.5 1405.2,861.3 1406.1,868.9 1407,867.1 1408,860.4 1408.9,859.2 1409.8,860.1 1410.7,864.6 1411.6,865.9 1412.5,866.3 1413.4,875 1414.3,872.7 1415.2,866.8 1417.9,877.6 1418.8,879.1 1419.7,873.6 1421.5,877.1 1422.4,875.3 1423.3,875 1424.2,871.5 1425.2,871 1427,877.5 1427.9,875.5 1428.8,876.3 1429.7,870.6 1430.6,876.3 1431.5,875 1432.4,879 1433.3,877 1434.2,872.1 1435.1,870.8 1436.9,877.5 1437.8,878.1 1438.7,878.3 1439.6,882 1440.5,883.1 1441.4,880.5 1443.3,887.1 1444.2,885.3 1445.1,881.4 1446,879 1446.9,878.4 1447.8,882.7 1448.7,882.5 1449.6,889.1 1450.5,886.2 1452.3,882.7 1454.1,885.8 1455,886.3 1455.9,884.7 1456.8,887.4 1457.7,889 1458.6,886.2 1459.5,891.2 1461.4,897.8 1462.3,893.2 1463.2,892.6 1464.1,894.2 1465,894.5 1465.9,896.9 1466.8,903.7 1469.5,894.5 1470.4,897.8 1472.2,901.6 1473.1,902.2 1474.9,899.8 1475.8,901.6 1476.7,902.4 1477.7,901.3 1478.6,902.9 1480.4,897.2 1481.3,897.2 1482.2,896 1483.1,897.6 1485.8,906.6 1486.7,902.9 1487.6,903 1488.5,907.5 1490.3,906.8 1491.2,908.5 1493,909.8 1493.9,908.1 1494.9,910.7 1495.8,910.7 1496.7,906.5 1497.6,906.4 1500.3,909.3 1501.2,909.9 1502.1,909.8 1503.9,905.5 1504.8,908.1 1505.7,906.8 1506.6,907.3 1507.5,909.2 1509.3,910.6 1511.1,902.8 1512.1,908.3 1513,906.4 1513.9,908.4 1515.7,905.4 1516.6,908.1 1517.5,909.7 1519.3,916.7 1520.2,916.2 1521.1,913 1522,916 1522.9,916 1523.8,918.7 1525.6,914.5 1526.5,916.2 1527.4,912.2 1528.3,911.8 1530.2,913.8 1531.1,914.1 1532,916.7 1532.9,914 1533.8,914.6 1534.7,911.2 1535.6,912.4 1536.5,915.6 1537.4,913.9 1538.3,913.8 1539.2,914.5 1540.1,916.3 1541,914.1 1541.9,915 1542.8,917.1 1543.7,922.7 1544.6,919.7 1545.5,921.7 1546.5,919.5 1547.4,918.7 1548.3,915.7 1549.2,917.7 1550.1,917.8 1551,918.8 1551.9,917.4 1552.8,919.7 1553.7,917.4 1555.5,915.9 1556.4,918.1 1557.3,915.2 1558.2,917.5 1559.1,917.2 1560,917.7 1560.9,914.5 1561.8,912.5 1562.7,914.4 1563.6,914.2 1564.6,914.6 1565.5,917.1 1566.4,918.4 1567.3,917.3 1568.2,917 1572.7,921.7 1574.5,916.6 1575.4,917 1576.3,915.9 1577.2,916.1 1579,914.4 1579.9,915.9 1580.8,916.4 1581.8,916.4 1583.6,915.4 1585.4,916.4 1586.3,916.1 1588.1,916.7 1589.9,915 1590.8,914.7 1591.7,916.6 1592.6,919.8 1593.5,920.5 1594.4,922.1 1595.3,922.5 1596.2,920.8 1598,924.9 1599,924.9 1599.9,925.6 1600.8,924.1 1601.7,924.6 1602.6,922.1 1605.3,926.5 1606.2,924.4 1607.1,925.3 1608,927.5 1608.9,928.1 1610.7,928.1 1611.6,927.4 1613.4,924.1 1615.2,925.8 1616.2,925.6 1617.1,927.1 1618,929.7 1619.8,931.9 1622.5,936.2 1625.2,938.1 1627.9,941.5 1629.7,942.5 1632.4,945 1636.1,947.2 1645.1,948.8 1653.3,949.3 1711.2,949.5"/>
<path d="M1277.6,949.5 1378.1,949.5 1379,949.1 1379.9,947 1381.7,937.5 1383.5,921.5 1387.1,899.2 1388,891.8 1388.9,888.7 1389.8,887 1390.8,889.1 1391.7,883.2 1393.5,863.9 1394.4,860.8 1395.3,859.4 1396.2,864.4 1397.1,866.2 1398,862.8 1398.9,862.2 1399.8,863.6 1402.5,850 1403.4,858.5 1404.3,862.2 1405.2,860.7 1406.1,849.5 1407,848.5 1408,851.2 1408.9,851.4 1409.8,854.6 1410.7,854.4 1411.6,856.3 1412.5,856.9 1413.4,854.3 1414.3,854.2 1416.1,857.7 1417,853.1 1417.9,854.2 1419.7,862.2 1420.6,857.8 1421.5,862.7 1422.4,873.6 1423.3,866.1 1425.2,859 1426.1,861.1 1427,859.9 1428.8,876 1429.7,878.4 1430.6,874.8 1431.5,879.6 1434.2,862.5 1435.1,861.7 1436,860 1437.8,854.4 1438.7,855.2 1439.6,853.4 1440.5,860.7 1441.4,860.8 1442.3,870.3 1443.3,870.6 1445.1,875.1 1446,871.7 1446.9,872.5 1447.8,871.7 1448.7,869.7 1449.6,873.2 1450.5,873 1452.3,877.9 1453.2,872.1 1454.1,875.5 1455,868.4 1455.9,878.1 1456.8,883.2 1457.7,881.3 1458.6,880.3 1459.5,881.9 1461.4,886.9 1462.3,884.4 1463.2,884.9 1464.1,879.6 1465,879.7 1465.9,884.3 1466.8,877.2 1467.7,875 1468.6,870.6 1469.5,871.7 1470.4,871.2 1471.3,875.2 1472.2,873.2 1473.1,874 1474,871 1474.9,878.8 1475.8,881.7 1476.7,886.7 1477.7,885.2 1478.6,888.9 1479.5,888.3 1480.4,894.2 1481.3,895.7 1482.2,898.4 1483.1,893.6 1484,892.4 1484.9,892.6 1485.8,900 1487.6,898.8 1488.5,897.2 1489.4,894.5 1491.2,893.6 1492.1,889.9 1493,890.4 1493.9,889.1 1495.8,894.1 1496.7,891 1497.6,891.3 1498.5,890.1 1501.2,895.6 1502.1,893.5 1503,893.3 1503.9,886 1504.8,888.2 1505.7,888.1 1506.6,886.3 1507.5,889.7 1508.4,887.9 1509.3,892 1510.2,889.3 1511.1,889 1512.1,890.8 1513,889.7 1514.8,898.7 1516.6,896.9 1517.5,891.2 1518.4,896.4 1519.3,893.5 1520.2,896.7 1521.1,894.9 1522,890.9 1522.9,889.3 1523.8,886.5 1524.7,892.8 1525.6,893.7 1526.5,897 1529.3,894.4 1530.2,898.1 1531.1,899.1 1532,901.1 1532.9,901.5 1533.8,903.1 1534.7,902.3 1535.6,904.2 1537.4,906.3 1538.3,904.9 1540.1,899.8 1541,894.7 1542.8,900.3 1543.7,899.1 1544.6,902.2 1546.5,898.9 1547.4,894.9 1548.3,901.5 1549.2,902.9 1550.1,906.4 1551,901.3 1551.9,904.4 1552.8,902.4 1554.6,907.6 1555.5,905.8 1556.4,905.6 1557.3,904.1 1558.2,902 1559.1,897.2 1560,899.6 1561.8,902.1 1562.7,899.3 1564.6,902.3 1565.5,902.8 1566.4,900.1 1567.3,903.2 1568.2,903 1569.1,904.5 1570,904.5 1570.9,909.4 1571.8,911.4 1573.6,907.8 1574.5,910.4 1576.3,906.7 1577.2,905.9 1579,908.2 1579.9,906.5 1581.8,904.6 1582.7,906 1583.6,911.6 1584.5,913.9 1585.4,914.4 1586.3,911.6 1587.2,913.6 1590.8,918.1 1591.7,917.4 1592.6,918 1594.4,921.2 1595.3,921.3 1596.2,922.4 1597.1,925.5 1600.8,931.9 1601.7,935.5 1603.5,938.7 1608,943.4 1608.9,944.8 1609.8,944.6 1610.7,945.1 1611.6,945 1612.5,945.8 1617.1,947 1619.8,948.2 1625.2,949 1630.6,949.2 1711.2,949.5"/>
<path d="M1277.6,949.5 1369,949.5 1369.9,946.3 1370.8,938.6 1373.6,909.2 1377.2,874.8 1378.1,870.7 1379,855.2 1379.9,852.7 1380.8,847.4 1381.7,853.1 1382.6,838 1383.5,839.6 1384.4,830.4 1385.3,830.6 1387.1,848.8 1388,850.9 1388.9,847.3 1389.8,838.4 1390.8,841.7 1391.7,842.2 1392.6,847.3 1393.5,847.6 1394.4,839.8 1396.2,835.1 1397.1,835 1398.9,842 1399.8,841.2 1400.7,842.4 1401.6,840.9 1402.5,841.5 1404.3,831.2 1405.2,834.8 1406.1,833.2 1407,834.1 1408.9,829.7 1409.8,819.7 1410.7,822.8 1411.6,819.3 1412.5,823.9 1413.4,818.4 1415.2,835.6 1416.1,841 1417,840.2 1418.8,850.3 1420.6,837.4 1421.5,833.7 1422.4,846.4 1423.3,845.8 1424.2,843.2 1425.2,846.1 1426.1,857 1427,857.5 1427.9,866.3 1428.8,868.3 1429.7,865.2 1430.6,857.1 1431.5,858.6 1432.4,866.1 1433.3,865.1 1434.2,862.1 1435.1,865.2 1436,861.3 1436.9,859.5 1438.7,858.4 1439.6,868.4 1440.5,871.4 1441.4,878.9 1443.3,867.4 1444.2,871.2 1445.1,871.5 1446,882.5 1446.9,880.4 1447.8,870.9 1448.7,873.5 1449.6,869.7 1450.5,872.2 1451.4,868 1452.3,868.6 1453.2,873.7 1454.1,873.2 1455,871 1455.9,877 1456.8,878 1457.7,880.9 1458.6,880.8 1459.5,877.6 1460.5,877.6 1461.4,872.8 1463.2,879.8 1464.1,880.5 1465,879.1 1465.9,883.3 1466.8,884.3 1467.7,884.1 1468.6,883.1 1470.4,884.8 1471.3,886.2 1473.1,892.3 1474,891.1 1475.8,895.9 1476.7,894.7 1477.7,894.8 1479.5,899 1480.4,900.3 1481.3,899.4 1482.2,901.4 1483.1,895.3 1484,892.4 1484.9,894.9 1485.8,894.1 1486.7,895.6 1487.6,891.8 1488.5,891.4 1490.3,887.4 1491.2,887.6 1492.1,892.9 1493,895.5 1493.9,897 1494.9,896.5 1495.8,902.1 1496.7,905.6 1498.5,909.9 1499.4,909.8 1501.2,902.5 1502.1,902.2 1503.9,895.8 1504.8,897.5 1505.7,897.9 1506.6,896 1507.5,897.4 1508.4,896.9 1509.3,899 1510.2,899.8 1511.1,906.7 1512.1,904.2 1514.8,910.7 1515.7,908.8 1516.6,909 1517.5,903.8 1518.4,905.2 1519.3,900.4 1520.2,906.7 1522,908.8 1522.9,913.8 1523.8,910.4 1524.7,909.8 1525.6,912.4 1526.5,912.6 1527.4,913.4 1528.3,911.1 1529.3,910.5 1530.2,908.9 1531.1,902.1 1532,905.8 1533.8,900.7 1534.7,900 1535.6,905.3 1536.5,907.3 1537.4,908.1 1538.3,906.1 1539.2,906.4 1540.1,903 1541.9,907.3 1543.7,903.7 1544.6,900.8 1545.5,902.4 1546.5,902.5 1547.4,906.7 1548.3,908.9 1549.2,907.2 1550.1,908.8 1551,905.5 1551.9,906.5 1552.8,906.4 1553.7,905.6 1555.5,905.6 1557.3,909.5 1558.2,909.3 1559.1,910.5 1560,908.4 1560.9,910.1 1561.8,910.1 1562.7,912.4 1563.6,910.3 1564.6,909.2 1566.4,913.3 1567.3,917.6 1568.2,919.3 1569.1,918 1570,919 1570.9,917.2 1571.8,919.5 1573.6,921.9 1574.5,921.7 1578.1,924.2 1579,928 1579.9,928.7 1580.8,927.3 1581.8,928.7 1583.6,933.6 1589,940.8 1596.2,946.4 1599.9,947.8 1603.5,948.6 1612.5,949.3 1620.7,949.5 1711.2,949.5"/>
<path d="M1277.6,949.5 1374.5,949.5 1375.4,949.1 1376.3,945.5 1377.2,939.5 1378.1,930.8 1382.6,868.1 1383.5,865.6 1385.3,852.9 1388,826.1 1388.9,821.9 1389.8,828 1390.8,826.8 1391.7,830.5 1392.6,825.8 1394.4,837.1 1396.2,832.8 1397.1,835.7 1398,844.7 1398.9,838 1400.7,816.3 1401.6,820.4 1402.5,819.3 1403.4,810.9 1405.2,806.9 1406.1,808.2 1408,821.2 1409.8,812.3 1410.7,820.7 1411.6,823.7 1412.5,821.9 1414.3,813.5 1415.2,801.2 1416.1,794.6 1417,806.8 1417.9,811.4 1418.8,804.9 1419.7,801.8 1420.6,801.9 1421.5,798 1423.3,779.4 1424.2,793.7 1425.2,800.3 1426.1,796.7 1427,805.2 1428.8,814.2 1429.7,814.7 1430.6,817.9 1431.5,825.5 1432.4,823.9 1433.3,823.3 1434.2,824.3 1435.1,806.2 1436.9,801.9 1437.8,795.3 1438.7,802.2 1439.6,802.4 1440.5,806.8 1441.4,801.8 1443.3,816.6 1444.2,815.4 1445.1,816.6 1446,820.8 1446.9,816 1447.8,821.5 1448.7,820.3 1449.6,828 1451.4,812.5 1452.3,808.3 1454.1,832.3 1455,833.8 1456.8,821.8 1458.6,831 1459.5,832.9 1460.5,833.5 1461.4,832.1 1462.3,828.9 1463.2,829.7 1464.1,820.9 1465,836.9 1465.9,837.5 1467.7,852.5 1468.6,848.3 1469.5,852.4 1470.4,847.5 1472.2,851.6 1473.1,849.6 1474,855 1474.9,851.3 1475.8,841.5 1476.7,847.7 1477.7,840.8 1478.6,845.2 1479.5,846.8 1480.4,852.6 1481.3,851 1482.2,853.5 1483.1,858.8 1484,869.1 1484.9,859.5 1485.8,857.6 1486.7,848.8 1487.6,855.8 1489.4,841.3 1490.3,830.9 1491.2,836.4 1492.1,837.6 1493,837.9 1493.9,836.1 1494.9,841 1495.8,839.3 1496.7,840.4 1497.6,840.4 1499.4,854.2 1501.2,875.1 1502.1,876.6 1503,882.7 1503.9,884.5 1504.8,882.2 1505.7,878.6 1506.6,879.5 1507.5,877.6 1508.4,880.8 1509.3,880 1510.2,883.5 1511.1,877.2 1512.1,876.1 1513,870.9 1513.9,872.2 1514.8,870.2 1516.6,861.4 1517.5,861.5 1518.4,863.4 1521.1,874.1 1522,870 1522.9,867.5 1524.7,878.7 1525.6,872.9 1526.5,874.7 1527.4,871 1528.3,870.3 1529.3,866.4 1530.2,864.9 1531.1,860.5 1532,860.8 1532.9,860.3 1533.8,865.4 1534.7,863.4 1536.5,862.8 1539.2,875.7 1540.1,872.9 1541,873.3 1542.8,881 1543.7,883.3 1544.6,878.3 1545.5,880.8 1546.5,881.2 1547.4,883.4 1548.3,882.9 1549.2,880.6 1551,874.3 1551.9,877.1 1552.8,876.3 1553.7,876.7 1555.5,874.5 1556.4,866.7 1558.2,871.9 1559.1,875.9 1560,873.1 1560.9,877 1562.7,879.8 1563.6,879.3 1564.6,876.5 1565.5,870.9 1566.4,872.4 1568.2,884 1570.9,890.6 1571.8,891.5 1573.6,891.4 1574.5,886.7 1576.3,893.5 1577.2,893.5 1578.1,894 1579,887.5 1579.9,894.6 1580.8,897.4 1582.7,885.4 1583.6,884.3 1584.5,890.3 1585.4,888.1 1586.3,883 1587.2,884.6 1588.1,880.5 1589,879.4 1589.9,882.2 1590.8,883.8 1591.7,887.1 1592.6,886.2 1593.5,887.1 1594.4,888.3 1595.3,891 1596.2,891.9 1597.1,890.7 1598,885.4 1599.9,893.2 1601.7,895.4 1602.6,893.5 1604.4,899.9 1605.3,900.5 1606.2,906 1607.1,907.4 1608,910.4 1608.9,910.5 1609.8,909.9 1610.7,911.7 1611.6,911 1612.5,912.5 1613.4,913.2 1617.1,921.9 1618.9,928.7 1619.8,930.1 1620.7,930.6 1623.4,935 1624.3,934.9 1625.2,936 1626.1,936.3 1627.9,939 1629.7,939.2 1637,945.4 1644.2,948.1 1655.1,949.1 1670.5,949.4 1711.2,949.5"/>
<path d="M1277.6,949.5 1375.4,949.5 1376.3,946.1 1377.2,933.8 1380.8,854.1 1381.7,848 1383.5,825.8 1384.4,805.1 1387.1,773.9 1388,770.4 1388.9,769 1389.8,770.1 1390.8,778.7 1391.7,780.1 1392.6,783.4 1393.5,782.8 1394.4,788.9 1395.3,803.4 1398,823.4 1398.9,811.1 1399.8,826.9 1401.6,816 1403.4,784.7 1404.3,787.9 1405.2,782.8 1406.1,780.9 1407,795.8 1408,781.6 1408.9,774.5 1410.7,791.1 1411.6,796.2 1412.5,797.8 1413.4,803.6 1414.3,792.3 1415.2,791 1416.1,783.6 1417,785.9 1417.9,784.5 1418.8,790.6 1419.7,794 1420.6,789.6 1421.5,787.2 1422.4,798 1423.3,784.8 1424.2,781.7 1425.2,800.1 1426.1,794.1 1427,802.9 1428.8,793.7 1429.7,794.3 1430.6,789.4 1431.5,791.5 1432.4,802.4 1433.3,803.8 1434.2,817.9 1435.1,809.6 1436,796 1436.9,796.4 1437.8,795.4 1438.7,798.6 1439.6,795.7 1440.5,794.2 1441.4,794.3 1442.3,804.2 1443.3,809.4 1444.2,818.1 1445.1,820.7 1446,825.5 1446.9,827.5 1447.8,813.6 1448.7,813 1449.6,814.7 1450.5,822.7 1451.4,827.2 1452.3,825.5 1453.2,828.4 1455.9,817.6 1457.7,823.8 1458.6,822.8 1459.5,820.9 1460.5,821.1 1461.4,825.2 1462.3,835.7 1463.2,832.5 1464.1,832.8 1465,822.2 1465.9,823 1466.8,822.4 1467.7,826.1 1470.4,822.2 1471.3,825.4 1472.2,836 1473.1,836.8 1474.9,851.4 1475.8,851.5 1476.7,857.1 1477.7,855.8 1478.6,857.9 1480.4,859.1 1482.2,850.2 1483.1,844 1484.9,845.2 1485.8,841 1486.7,850.5 1487.6,848.1 1488.5,843.1 1489.4,846.6 1490.3,846.3 1491.2,857 1492.1,854.9 1493,863.9 1495.8,849.9 1497.6,859 1498.5,858.6 1499.4,864.7 1500.3,860.2 1501.2,862.6 1502.1,862 1503,858 1503.9,859.5 1504.8,855.1 1505.7,853.7 1506.6,850.9 1507.5,846.6 1508.4,853.5 1509.3,855.5 1510.2,860.1 1511.1,857.1 1513,848.4 1514.8,855.9 1515.7,854.8 1516.6,847.6 1518.4,859.4 1519.3,860.5 1520.2,860.3 1521.1,857.2 1522,859.1 1522.9,858.9 1523.8,865.3 1524.7,865.3 1525.6,860.2 1526.5,861.2 1527.4,860.7 1528.3,866.3 1529.3,862 1530.2,865 1532,862.8 1532.9,866.6 1533.8,868.9 1534.7,873.6 1535.6,873.7 1537.4,879.6 1538.3,878.8 1539.2,879.3 1540.1,876.2 1541,876.1 1541.9,872.6 1543.7,886.5 1544.6,881.7 1546.5,877.9 1547.4,880.3 1548.3,881.4 1549.2,880.7 1550.1,881.7 1551,881.7 1551.9,883.6 1552.8,887.1 1553.7,888.1 1554.6,891.7 1555.5,893.7 1556.4,892 1557.3,891.4 1558.2,887 1559.1,884.4 1560,879.3 1560.9,883.2 1562.7,882.3 1563.6,879.3 1564.6,884.4 1565.5,885.2 1566.4,883.5 1567.3,883.5 1568.2,881.5 1569.1,882.4 1570,881.9 1570.9,883.7 1571.8,883.6 1572.7,881.3 1573.6,880.7 1574.5,883.6 1575.4,880.9 1576.3,887.2 1577.2,886.5 1579,879.1 1579.9,879.7 1580.8,885 1582.7,892 1584.5,882.7 1585.4,881.2 1586.3,887.6 1587.2,889 1588.1,891.6 1589.9,882.6 1590.8,881.2 1591.7,882.1 1592.6,884.1 1593.5,883.8 1594.4,878.4 1595.3,882.5 1596.2,884 1597.1,895.8 1598,898.5 1599,897.5 1600.8,889.2 1601.7,889.4 1603.5,901 1604.4,901.6 1606.2,901 1607.1,903.6 1608,905 1608.9,905.7 1609.8,907.5 1610.7,911.4 1611.6,912.9 1614.3,922.6 1616.2,922.9 1618,929.5 1621.6,939.2 1625.2,944.1 1628.8,946.6 1632.4,948.1 1637.9,949 1643.3,949.3 1711.2,949.5"/>
<path d="M1277.6,949.5 1375.4,949.5 1376.3,948.3 1378.1,936.2 1380.8,912.6 1382.6,888.1 1383.5,885.6 1384.4,880.3 1385.3,877.9 1386.2,863.4 1387.1,867.3 1388,862 1389.8,841.7 1390.8,837.8 1391.7,835.9 1392.6,825 1393.5,820.1 1394.4,827.7 1395.3,828 1397.1,843.2 1398.9,839.1 1399.8,840.9 1400.7,854.5 1403.4,831.5 1404.3,827.6 1405.2,828.3 1406.1,819.8 1407,825.5 1408,814.9 1408.9,819.7 1409.8,815.1 1410.7,825.2 1412.5,832.1 1413.4,830.7 1414.3,826 1415.2,828.5 1416.1,836.1 1417,836.7 1417.9,838.9 1418.8,832.4 1419.7,835.2 1421.5,828.8 1422.4,828.9 1423.3,824.4 1424.2,823.9 1425.2,824.8 1427,830.4 1427.9,824.8 1428.8,821.3 1429.7,832.1 1430.6,827.7 1431.5,830.1 1432.4,831.4 1433.3,825 1434.2,827.1 1435.1,819.8 1436,836.5 1436.9,836.9 1437.8,826.3 1438.7,832.8 1439.6,832.9 1440.5,837.6 1441.4,839.3 1442.3,836.6 1443.3,843.3 1444.2,846.9 1445.1,856.5 1446,857.4 1446.9,852.4 1448.7,854.8 1449.6,850.8 1450.5,851.4 1451.4,843.1 1452.3,843.2 1453.2,838.7 1454.1,845.1 1455,841.1 1455.9,842.2 1456.8,837.9 1457.7,845.1 1458.6,842.6 1459.5,850.5 1460.5,849.8 1461.4,852.2 1462.3,852 1463.2,857.1 1465,855.4 1465.9,850.5 1466.8,856.1 1467.7,851.6 1468.6,853.8 1469.5,845.4 1470.4,851.3 1471.3,852.9 1472.2,848.2 1474,847.9 1474.9,850.1 1475.8,848.8 1476.7,850.7 1477.7,863.7 1479.5,871.9 1480.4,868.6 1481.3,870.8 1482.2,869.3 1483.1,870.7 1484,867.1 1484.9,865.6 1485.8,858.1 1486.7,863.1 1487.6,865.2 1488.5,874.5 1489.4,878.6 1490.3,880.1 1491.2,873.4 1492.1,874 1493,876.5 1493.9,880.9 1494.9,881.1 1495.8,876 1496.7,874.3 1497.6,871.1 1498.5,871.4 1499.4,878.1 1500.3,874.5 1501.2,867.6 1502.1,865.8 1503,862.3 1503.9,872 1504.8,871.3 1505.7,874.2 1506.6,874.4 1507.5,870.1 1508.4,874.8 1509.3,875.3 1510.2,883 1511.1,883.8 1512.1,882.3 1513,883.8 1513.9,880.2 1514.8,878.9 1515.7,878.5 1516.6,880.3 1517.5,883.4 1518.4,879.8 1519.3,882.2 1520.2,881.5 1521.1,879.8 1522,875.4 1522.9,877.7 1523.8,878.9 1525.6,885.8 1526.5,892.8 1527.4,892.3 1528.3,890.6 1529.3,891.4 1530.2,894.3 1531.1,892.8 1532,889.2 1532.9,889 1533.8,881.5 1534.7,877.1 1535.6,878.6 1536.5,882.5 1538.3,893.5 1539.2,893.2 1540.1,889.9 1541,883.2 1541.9,887.8 1543.7,887.3 1544.6,886.3 1545.5,887.4 1548.3,895.6 1549.2,895.4 1550.1,897.8 1551,898.4 1553.7,907.7 1554.6,907.8 1558.2,924 1560.9,934.2 1563.6,941.1 1565.5,944.1 1568.2,946.5 1570,947.6 1572.7,948.4 1576.3,949.1 1583.6,949.4 1711.2,949.5"/>
<path d="M1277.6,949.5 1372.6,949.5 1373.6,946.8 1374.5,936.9 1378.1,868.9 1379,854.8 1379.9,846.7 1380.8,851.8 1381.7,850.7 1382.6,838.6 1383.5,836.3 1384.4,828.8 1385.3,824.7 1386.2,825.4 1387.1,823.6 1388,820.3 1388.9,808.2 1389.8,806.1 1390.8,806 1391.7,803.2 1393.5,826.3 1394.4,822.6 1395.3,831.4 1396.2,830.6 1397.1,839.5 1398,841.4 1398.9,837.9 1399.8,843 1400.7,832.3 1401.6,834.5 1402.5,827.6 1403.4,830.6 1404.3,823.8 1405.2,827.9 1406.1,822.4 1407,825.5 1408,822.3 1408.9,820.9 1409.8,820.3 1410.7,813.4 1411.6,820.4 1412.5,817.3 1413.4,820.7 1414.3,831.8 1415.2,835.7 1416.1,835.2 1417,825.8 1418.8,831.7 1419.7,825.4 1420.6,822.7 1422.4,836.8 1423.3,832.8 1424.2,835.7 1427,856.4 1427.9,855.2 1428.8,849.3 1430.6,844 1431.5,852.6 1432.4,847.2 1433.3,846 1434.2,839.5 1435.1,843.4 1436,838 1437.8,843.4 1438.7,841.2 1439.6,840.3 1440.5,837.7 1441.4,848.4 1442.3,854 1443.3,850.5 1445.1,838.8 1446,836 1446.9,847 1447.8,848.6 1448.7,839.4 1449.6,838.4 1450.5,833.9 1451.4,834.6 1452.3,830.6 1453.2,834.5 1454.1,851.8 1455,845.7 1455.9,847.2 1456.8,843.1 1457.7,845.8 1458.6,843.7 1459.5,842.9 1460.5,846.4 1462.3,831.8 1463.2,830.1 1464.1,834.5 1465,835.8 1465.9,839.2 1466.8,839.4 1467.7,841.5 1468.6,848.6 1469.5,852.9 1470.4,863.2 1471.3,863.1 1472.2,864.7 1473.1,869.1 1474,866.1 1475.8,874.4 1476.7,872.3 1477.7,868 1478.6,867.4 1479.5,865.4 1480.4,866.8 1481.3,860.8 1482.2,863.1 1483.1,861.7 1484.9,855.5 1486.7,852.1 1487.6,853.5 1488.5,852.2 1489.4,856.3 1490.3,854.5 1491.2,854.6 1493,863.3 1493.9,864.8 1494.9,860.3 1495.8,861.4 1496.7,858.6 1497.6,860.6 1498.5,849.1 1499.4,856 1500.3,855.9 1502.1,865.7 1503,869.1 1503.9,879 1505.7,865.8 1506.6,868 1508.4,864.3 1509.3,858.5 1510.2,866 1511.1,862.6 1512.1,866.2 1513,863.2 1513.9,867.5 1516.6,871 1517.5,872.9 1518.4,876.5 1519.3,877.1 1520.2,875.8 1521.1,870.2 1522,870.9 1523.8,866.9 1524.7,868.6 1525.6,860.5 1526.5,866.6 1527.4,866.6 1529.3,871.8 1530.2,875.8 1531.1,878.1 1532,883.3 1532.9,885.9 1533.8,890.3 1535.6,880.7 1536.5,887.7 1537.4,887.8 1538.3,884.7 1540.1,875 1541,879 1541.9,878.2 1542.8,882.5 1543.7,884.6 1544.6,877.2 1545.5,872.7 1546.5,870.9 1549.2,881.4 1550.1,877.3 1551,875.9 1551.9,873.2 1552.8,873.1 1553.7,874.4 1554.6,872.8 1557.3,884.9 1558.2,883.2 1560,877.3 1560.9,884.3 1561.8,886.4 1562.7,891.6 1564.6,885.7 1565.5,885.7 1568.2,892.3 1569.1,890.4 1570,890.2 1570.9,884.1 1571.8,884.6 1572.7,887.6 1573.6,888.1 1575.4,882.5 1576.3,883.8 1578.1,891.3 1579,898.5 1579.9,899.8 1581.8,897.2 1582.7,899.3 1583.6,907.3 1584.5,910.8 1585.4,912.2 1587.2,904 1589,904.4 1589.9,905 1591.7,901.9 1592.6,904.3 1593.5,904.9 1594.4,906.2 1596.2,910 1597.1,913.4 1598,914.4 1599,914.7 1599.9,918.3 1600.8,917.8 1601.7,918.3 1603.5,920.3 1604.4,924.2 1605.3,925.2 1606.2,927.3 1608,929.3 1609.8,930 1611.6,933.5 1615.2,939 1618,940.7 1620.7,943.5 1622.5,943.3 1624.3,944.8 1625.2,944.9 1627,946.2 1629.7,946.4 1630.6,946.9 1633.4,947.6 1645.1,949.1 1668.7,949.5 1711.2,949.5"/>
<path d="M1277.6,949.5 1369,949.5 1369.9,948.6 1370.8,944.3 1377.2,876.4 1378.1,873.8 1379,861.2 1379.9,856.1 1380.8,853.9 1381.7,839.8 1382.6,835.7 1383.5,833 1384.4,851.9 1385.3,853 1387.1,843.8 1388,847.9 1388.9,845.4 1389.8,846.7 1390.8,842.9 1391.7,841.3 1392.6,832.2 1393.5,829.4 1394.4,833.6 1395.3,831.8 1396.2,832.4 1397.1,823 1398,828.1 1398.9,821.4 1399.8,830.6 1400.7,836.3 1401.6,839.9 1403.4,820.2 1405.2,840.6 1406.1,846.9 1407,845.4 1408,842.4 1408.9,844.8 1409.8,842.9 1410.7,848.9 1411.6,849.7 1412.5,841.9 1415.2,832.9 1416.1,827.8 1417.9,832.4 1418.8,826.2 1420.6,821.3 1421.5,827.3 1422.4,838.1 1423.3,837.7 1424.2,836.6 1425.2,825.9 1426.1,827.4 1427,831.6 1427.9,828.7 1428.8,830.9 1429.7,837.5 1430.6,826.8 1431.5,828.9 1432.4,829.7 1433.3,829.9 1434.2,832.3 1435.1,837 1436,846.5 1436.9,843.4 1437.8,831.9 1438.7,834 1439.6,834.8 1440.5,838.3 1442.3,839.5 1443.3,842.3 1444.2,842 1446.9,856.1 1447.8,856 1448.7,855.4 1449.6,855.6 1450.5,866.9 1451.4,868.6 1452.3,879.5 1453.2,877.5 1454.1,877.5 1455,867.6 1455.9,871.8 1456.8,871.1 1457.7,874.4 1458.6,867.5 1459.5,869.7 1460.5,875 1461.4,871.2 1462.3,869.3 1463.2,865.8 1464.1,864.4 1465,866.9 1465.9,868.4 1466.8,871.7 1467.7,872.6 1468.6,870.4 1469.5,869.7 1470.4,867.1 1471.3,869.7 1473.1,871.2 1474,867.5 1474.9,867.9 1475.8,865.2 1476.7,865 1477.7,866 1478.6,867.7 1479.5,868.2 1480.4,871.1 1482.2,866.9 1483.1,869.5 1484,870.5 1484.9,874 1485.8,870.9 1486.7,877.9 1487.6,878 1488.5,878.7 1489.4,883.6 1490.3,884.1 1491.2,882.7 1492.1,879.2 1493,878.5 1493.9,881.4 1494.9,877.3 1495.8,881.4 1496.7,877.5 1497.6,884.7 1498.5,885.1 1499.4,888.4 1500.3,884.4 1502.1,889.3 1503,889.1 1503.9,885.9 1504.8,885.5 1505.7,885.6 1506.6,884.9 1507.5,886.9 1509.3,885.5 1510.2,892.2 1511.1,895.8 1512.1,896.1 1513,887.9 1513.9,887.7 1514.8,885.3 1515.7,880.2 1516.6,881.6 1517.5,885.1 1518.4,883.9 1520.2,887.3 1522,892.7 1523.8,895.4 1524.7,889.8 1525.6,892.2 1526.5,898.2 1527.4,899.4 1528.3,899.2 1529.3,894.2 1530.2,898.9 1531.1,897 1532,897.6 1532.9,895.8 1533.8,897.8 1534.7,896 1535.6,895.6 1536.5,898 1537.4,902.2 1538.3,904.4 1539.2,902.6 1541.9,904.2 1542.8,903.3 1543.7,901.5 1544.6,901.5 1545.5,899.5 1546.5,903.2 1548.3,901.7 1549.2,900.5 1550.1,900.6 1551,901.2 1553.7,904.7 1554.6,897.6 1556.4,905.7 1557.3,906.3 1559.1,904.9 1560,905.4 1560.9,908 1562.7,905 1563.6,904.8 1564.6,902.7 1565.5,906.5 1566.4,901.9 1567.3,906.1 1568.2,908.3 1570,909.9 1570.9,913.5 1571.8,912.9 1572.7,911.6 1573.6,911.3 1575.4,913.8 1576.3,910.4 1578.1,907.6 1579,909.7 1579.9,909.4 1580.8,911.9 1581.8,912.2 1582.7,914.5 1583.6,913.6 1584.5,914.1 1585.4,913.6 1586.3,915 1587.2,912.7 1588.1,913.1 1589,915.4 1589.9,915.8 1590.8,919.3 1592.6,922.6 1593.5,922.7 1594.4,921.3 1595.3,925.1 1596.2,926.7 1599,930.1 1599.9,930.6 1600.8,930.4 1601.7,931.1 1602.6,933.3 1603.5,933.6 1604.4,934.6 1606.2,937.7 1607.1,938.3 1608,938.4 1608.9,940 1609.8,940 1611.6,941.2 1614.3,943.7 1615.2,944.3 1617.1,944.6 1619.8,946.1 1630.6,948.5 1640.6,949.2 1711.2,949.5"/>
<path d="M1277.6,949.5 1372.6,949.5 1373.6,948.5 1374.5,938.8 1377.2,879.8 1379,869.6 1379.9,866.6 1380.8,859 1381.7,859 1382.6,855.7 1384.4,855.5 1386.2,867.2 1387.1,865.2 1388,867.9 1389.8,854.4 1390.8,841.2 1392.6,843.9 1393.5,856 1394.4,849.4 1395.3,855.6 1396.2,857.9 1397.1,859 1398,859.4 1398.9,853.7 1399.8,856.1 1400.7,848.4 1401.6,844.9 1402.5,845.8 1403.4,850.4 1404.3,840.2 1405.2,835.3 1406.1,827 1407,832.5 1408,835 1408.9,832.7 1409.8,832.1 1410.7,830.6 1411.6,833.3 1412.5,844 1413.4,845.5 1414.3,837.2 1415.2,837.3 1416.1,834.1 1417,840.9 1417.9,836.3 1418.8,837.4 1419.7,846.7 1420.6,838 1421.5,844.6 1422.4,845.4 1423.3,854.1 1425.2,856.3 1426.1,856.7 1427.9,846.1 1428.8,850.4 1429.7,851.7 1430.6,849.4 1431.5,851.1 1432.4,850.5 1433.3,848.6 1435.1,856 1436,854.7 1436.9,851 1437.8,852.4 1438.7,858.9 1440.5,852.8 1441.4,842.8 1442.3,836.7 1444.2,848.4 1445.1,850.8 1446,844.1 1446.9,846.5 1447.8,847.3 1448.7,849 1449.6,853.4 1450.5,856.2 1451.4,854.6 1452.3,856.4 1453.2,856 1454.1,853.5 1455,843.1 1456.8,854 1457.7,855 1458.6,844.5 1459.5,847 1460.5,853.8 1461.4,856 1462.3,856.4 1463.2,856.2 1464.1,861.5 1465,859.4 1465.9,859.3 1466.8,859.6 1467.7,862.7 1468.6,862.8 1469.5,864.5 1470.4,859 1471.3,865.9 1472.2,865.2 1473.1,869.5 1474,877.5 1475.8,872.2 1477.7,862.3 1478.6,859 1479.5,856.6 1480.4,855.9 1481.3,863 1482.2,861.4 1484,876.6 1484.9,870.5 1486.7,874.2 1487.6,879 1488.5,873.7 1490.3,870.9 1491.2,881.3 1493,888.6 1495.8,872 1496.7,871.2 1497.6,873.2 1498.5,880.6 1499.4,876.6 1500.3,876.7 1501.2,870.9 1502.1,873 1503,870.1 1504.8,880.8 1505.7,877.2 1506.6,880.1 1507.5,881.2 1508.4,880.6 1509.3,881.2 1510.2,885.8 1511.1,885.6 1513,872.6 1514.8,868.9 1515.7,868.3 1516.6,874.8 1518.4,878.2 1519.3,873.8 1520.2,878.8 1521.1,879.7 1522,882.4 1523.8,873.1 1524.7,871.2 1525.6,875.4 1526.5,877 1527.4,877.6 1528.3,873.3 1530.2,878.4 1531.1,885.7 1532,888.5 1532.9,888 1533.8,884.2 1534.7,886.5 1536.5,895.5 1537.4,890.6 1538.3,889.2 1539.2,882.7 1541,888.3 1541.9,893 1542.8,887.5 1543.7,887.3 1544.6,887.8 1545.5,889.8 1546.5,888.3 1547.4,890.2 1548.3,894.9 1549.2,891 1550.1,890.3 1551,890.4 1551.9,889.6 1552.8,892.1 1553.7,891.3 1554.6,893.2 1555.5,894 1557.3,898.8 1558.2,899.9 1559.1,900.2 1560,902.8 1560.9,899.7 1561.8,899.5 1563.6,903.7 1564.6,903.8 1566.4,893.3 1567.3,891 1568.2,890 1570,883.3 1570.9,884.1 1571.8,883.4 1572.7,886.7 1574.5,890.6 1575.4,894.7 1576.3,895 1577.2,901.7 1578.1,905.8 1579,906.6 1579.9,905.1 1580.8,907.5 1581.8,906.1 1582.7,905.8 1585.4,901.4 1586.3,898 1587.2,899.9 1588.1,899.7 1589,897.9 1589.9,900.8 1590.8,900.8 1591.7,906.5 1593.5,912.2 1595.3,915.3 1597.1,922.3 1598,924 1599,927.5 1600.8,931.1 1601.7,932.5 1602.6,932.3 1604.4,934.3 1605.3,936.2 1609.8,942.6 1612.5,944.4 1613.4,945.5 1615.2,946.4 1617.1,946.8 1619.8,947.8 1624.3,948.6 1634.3,949.3 1711.2,949.5"/>
<path d="M1277.6,949.5 1369.9,949.5 1370.8,949 1371.7,940.2 1372.6,923 1376.3,843.3 1377.2,842.8 1378.1,831.5 1379,834.4 1379.9,821.9 1380.8,819.6 1381.7,806.3 1382.6,798.2 1383.5,779.2 1384.4,785.5 1385.3,771.7 1386.2,769.5 1387.1,766.1 1388,755.3 1388.9,757.2 1389.8,762 1390.8,769.7 1391.7,792.5 1392.6,789.1 1393.5,794.3 1395.3,777.5 1396.2,785.6 1397.1,768.9 1398,773.7 1398.9,783 1399.8,778.6 1400.7,777.4 1403.4,781.6 1404.3,777.5 1405.2,776.5 1406.1,764.2 1407,758.6 1408,766.5 1408.9,787.3 1409.8,779.6 1410.7,777.2 1411.6,766.7 1412.5,775.2 1413.4,789.2 1415.2,792 1416.1,792.3 1417,774.4 1418.8,783.3 1419.7,799.9 1420.6,795.3 1421.5,800.1 1423.3,816.8 1424.2,813.4 1425.2,804.5 1426.1,802 1427,796 1427.9,801.1 1428.8,803 1429.7,806.8 1430.6,806.9 1431.5,802.2 1432.4,807.1 1433.3,808.9 1435.1,803.8 1436,785.2 1436.9,794.5 1437.8,798.7 1438.7,814.3 1440.5,805.3 1441.4,807.1 1443.3,819.9 1445.1,812.1 1446,811.1 1447.8,801.1 1448.7,798.4 1449.6,793.1 1450.5,800.1 1451.4,797.5 1452.3,808.3 1453.2,800.1 1454.1,809.5 1455.9,820 1456.8,815.8 1457.7,822.1 1459.5,816.8 1460.5,818.1 1461.4,831.2 1462.3,830.4 1463.2,836.7 1464.1,830.8 1465,832.2 1465.9,835.4 1467.7,852.1 1468.6,849.2 1469.5,853.4 1470.4,851.2 1471.3,841.2 1473.1,829.7 1474,838.7 1474.9,840.3 1475.8,846.3 1478.6,839.8 1479.5,844.3 1480.4,837.1 1481.3,837.2 1482.2,838.2 1483.1,844.7 1484,835.1 1484.9,840.2 1485.8,840.2 1488.5,847.8 1489.4,845.9 1490.3,835.7 1491.2,833.2 1492.1,849.5 1493.9,828.8 1494.9,822.8 1495.8,820.6 1498.5,828.5 1500.3,841.9 1501.2,838.8 1502.1,845 1503,847.2 1503.9,851.8 1504.8,848.1 1505.7,840.2 1506.6,845.5 1507.5,846 1508.4,839.6 1509.3,845.7 1510.2,842.9 1512.1,851.5 1513,850.4 1513.9,856.9 1514.8,848.3 1515.7,851.7 1516.6,850.7 1517.5,845.6 1518.4,851.6 1519.3,851.4 1520.2,853.2 1521.1,857.9 1522,855.2 1522.9,859.9 1523.8,855.9 1524.7,853.9 1525.6,855.1 1527.4,864 1528.3,862.3 1530.2,853 1531.1,857.6 1532,858.2 1533.8,869.4 1534.7,868.3 1536.5,858.9 1537.4,858.3 1538.3,864.6 1539.2,860.3 1540.1,861.9 1541.9,861.4 1543.7,859.4 1545.5,870.2 1546.5,868.7 1547.4,865.6 1548.3,864.7 1550.1,867.9 1551,872 1551.9,873.3 1552.8,869.3 1553.7,861.9 1554.6,858.1 1555.5,865.4 1556.4,864.1 1557.3,864.7 1558.2,861 1559.1,866.6 1560,869.5 1560.9,868.6 1561.8,873.2 1562.7,874.6 1564.6,867.2 1565.5,860.5 1566.4,862.6 1567.3,859.1 1568.2,862.2 1569.1,868.6 1570,866.8 1570.9,872.9 1572.7,865.8 1573.6,868.8 1574.5,866.4 1575.4,868.8 1577.2,859 1579,861.5 1579.9,865.1 1580.8,863.6 1581.8,860.3 1582.7,870.5 1584.5,872.3 1585.4,871.8 1586.3,870.4 1588.1,862.4 1589,864.6 1590.8,867.1 1591.7,864.7 1592.6,860.8 1593.5,858.7 1595.3,871.8 1596.2,875.6 1597.1,876.4 1599,887.6 1599.9,897 1602.6,909 1603.5,916.7 1605.3,927.9 1606.2,931 1609.8,940.2 1612.5,945 1614.3,946.7 1616.2,947.8 1618.9,948.7 1626.1,949.4 1711.2,949.5"/>
<path d="M1277.6,949.5 1376.3,949.5 1377.2,949.1 1379,944.9 1382.6,929.2 1383.5,925.9 1384.4,924.2 1388,908.6 1388.9,908.1 1390.8,908.3 1392.6,902 1393.5,901.9 1394.4,903.4 1395.3,903.7 1396.2,901.8 1397.1,902.3 1398,903.5 1398.9,903.2 1399.8,902.2 1400.7,905.3 1401.6,906.9 1402.5,905.8 1405.2,900.1 1406.1,899.8 1407,904.4 1408,904.7 1408.9,900.6 1409.8,898.4 1410.7,900.5 1411.6,904.9 1412.5,907.5 1414.3,901.5 1415.2,899.5 1416.1,900.7 1417,903.4 1417.9,903.5 1418.8,904 1419.7,900.6 1421.5,903.8 1422.4,903.3 1423.3,905.8 1424.2,904.9 1425.2,906.6 1426.1,905.8 1427,906.4 1427.9,909.5 1428.8,904.4 1429.7,901.8 1430.6,897.1 1432.4,890.6 1434.2,893.4 1435.1,893.5 1436,891.2 1436.9,892.6 1437.8,898.9 1439.6,902.9 1440.5,899.8 1441.4,900.3 1442.3,897.9 1443.3,897.8 1444.2,898.3 1445.1,901.5 1446,902 1446.9,899 1447.8,898.3 1448.7,898.4 1449.6,902.6 1450.5,901.6 1451.4,902.6 1452.3,904.8 1453.2,905 1454.1,902.4 1455,904.1 1457.7,896.6 1458.6,894.9 1459.5,894.3 1460.5,892.2 1461.4,892.5 1462.3,891.7 1463.2,892.7 1464.1,899.2 1465,898.5 1465.9,900.1 1466.8,897.7 1467.7,898.7 1468.6,898.4 1469.5,897.1 1470.4,899 1472.2,901.4 1473.1,901.1 1474,898.5 1474.9,900.8 1475.8,899.8 1476.7,896.2 1477.7,895.1 1478.6,895.7 1479.5,895.1 1480.4,892.6 1481.3,893.9 1482.2,898.7 1483.1,898.2 1484,902.2 1484.9,899.9 1485.8,901.8 1486.7,898.3 1487.6,900 1488.5,902.8 1489.4,901.3 1490.3,902.1 1491.2,901.6 1492.1,903.5 1493,902.9 1494.9,898.8 1495.8,899.9 1496.7,898.5 1497.6,901.2 1498.5,897.4 1499.4,899.8 1500.3,905.7 1501.2,907.8 1502.1,908.1 1503,901.9 1503.9,901.8 1504.8,902.6 1506.6,899.2 1507.5,895.6 1508.4,895.1 1509.3,897.5 1510.2,897.8 1511.1,900 1512.1,899.1 1513,895.9 1513.9,894.8 1514.8,896.4 1515.7,896.7 1516.6,900.1 1517.5,901.8 1518.4,904.7 1519.3,901 1522,903.1 1522.9,900.2 1523.8,902.2 1524.7,903.5 1525.6,904.1 1527.4,901.5 1528.3,903.1 1529.3,901.8 1530.2,903.9 1531.1,903.9 1532,906.4 1532.9,907.6 1533.8,908 1534.7,907.8 1535.6,906.9 1536.5,908.9 1537.4,906.8 1538.3,908.8 1539.2,904.9 1540.1,905.3 1541,908 1542.8,909.8 1543.7,909.3 1544.6,911.2 1545.5,915.6 1546.5,912.9 1549.2,909.6 1550.1,910.7 1551,910.2 1551.9,910.3 1552.8,910.9 1553.7,907.9 1554.6,909.5 1555.5,909.9 1556.4,915.3 1557.3,916.6 1559.1,913.6 1560,914.3 1560.9,913.1 1561.8,916.3 1562.7,917.4 1563.6,919.1 1564.6,915.4 1566.4,916.1 1568.2,922.3 1569.1,927.3 1570.9,930.9 1571.8,931.2 1572.7,930.8 1573.6,928.6 1574.5,928.6 1575.4,930.4 1576.3,933.6 1578.1,936.1 1579,936.8 1581.8,942.5 1586.3,947 1590.8,948.7 1596.2,949.3 1603.5,949.5 1711.2,949.5"/>
<path d="M1277.6,949.5 1369,949.5 1369.9,946.9 1370.8,939.4 1374.5,898 1375.4,896.5 1376.3,888 1377.2,883.3 1378.1,871.9 1379,871 1379.9,868 1380.8,867.1 1381.7,871.6 1382.6,872.2 1383.5,877.6 1384.4,875.1 1385.3,881.3 1386.2,877.3 1387.1,876.9 1388,875.7 1388.9,880 1389.8,874.5 1390.8,876 1391.7,880.1 1392.6,881.1 1393.5,877.7 1394.4,879 1395.3,878.8 1396.2,883.1 1397.1,879.8 1398,885.3 1398.9,882.7 1399.8,881.1 1400.7,880.3 1401.6,878.6 1402.5,878.7 1403.4,881.2 1404.3,882.3 1405.2,877.2 1406.1,883 1407,881.9 1408,883.6 1408.9,884.3 1409.8,883.3 1410.7,886 1411.6,882 1412.5,886.2 1413.4,883.8 1414.3,879.9 1416.1,884.6 1417.9,875.8 1418.8,864.8 1419.7,867.7 1420.6,863.2 1421.5,869.7 1422.4,867.2 1423.3,866.5 1424.2,868.1 1425.2,871.8 1427,872.4 1427.9,873.5 1429.7,880.6 1430.6,882.1 1431.5,877.2 1432.4,879.3 1433.3,874.7 1434.2,878.2 1435.1,877.8 1436,873.6 1436.9,875.9 1437.8,874.4 1439.6,884.1 1440.5,883.5 1441.4,881 1442.3,885.3 1443.3,892.5 1444.2,896 1445.1,896.1 1446,895.7 1446.9,899.3 1448.7,896.1 1449.6,899.6 1450.5,899.4 1452.3,897 1454.1,899.8 1455.9,899.8 1457.7,894.7 1458.6,895.6 1459.5,894.3 1460.5,895.2 1461.4,894.5 1462.3,899.8 1463.2,897.7 1464.1,893.6 1465,894.6 1465.9,897.1 1466.8,896.6 1467.7,897.1 1468.6,892.4 1469.5,897.2 1470.4,894.6 1471.3,898.5 1472.2,898.9 1473.1,898.2 1474,901.5 1474.9,901.2 1476.7,903.6 1477.7,902.6 1478.6,902.8 1479.5,903.9 1480.4,902.7 1481.3,903.2 1482.2,905.5 1483.1,905 1484,909.4 1484.9,910.2 1485.8,909.7 1486.7,905.1 1487.6,905.9 1488.5,907.6 1489.4,910.8 1490.3,906.7 1491.2,907.4 1493,900.8 1494.9,904.7 1495.8,904.6 1496.7,899.3 1497.6,899.5 1498.5,899 1499.4,899.3 1500.3,897.2 1501.2,898.7 1502.1,902.8 1503,903.3 1503.9,903.1 1504.8,904.9 1505.7,903.3 1506.6,906.4 1507.5,906.9 1508.4,910.1 1509.3,910.6 1511.1,904.4 1512.1,906.7 1513,906 1513.9,909.3 1514.8,908.5 1515.7,910.3 1516.6,909.8 1517.5,910.7 1518.4,908.9 1519.3,910.1 1520.2,910.2 1521.1,912.7 1522,912.2 1522.9,913 1524.7,912.9 1525.6,914.1 1527.4,918.4 1528.3,917.2 1530.2,917.2 1531.1,915 1532,915.1 1532.9,916.5 1533.8,916.1 1534.7,917.2 1536.5,913 1537.4,913.1 1538.3,911.6 1539.2,911.5 1540.1,912.2 1541,910.5 1541.9,914.5 1542.8,914.6 1543.7,917.1 1544.6,916.6 1545.5,916.6 1546.5,917.5 1547.4,917.6 1548.3,916.5 1549.2,919.5 1550.1,917.1 1551,916.1 1551.9,912.7 1554.6,910.7 1555.5,912 1556.4,914.5 1558.2,915.6 1559.1,914.7 1560.9,915.7 1562.7,920.4 1563.6,920.1 1564.6,917 1565.5,916.8 1568.2,919.8 1569.1,919.3 1570,917.5 1570.9,917.9 1571.8,920.6 1572.7,926.1 1575.4,928.1 1576.3,928.2 1579,931.4 1579.9,931.8 1580.8,931.7 1582.7,935.1 1584.5,935.9 1585.4,936 1587.2,938.8 1588.1,939.4 1589,939.1 1589.9,939.7 1590.8,939.7 1591.7,940.8 1592.6,940.3 1595.3,942 1597.1,943.7 1599,944.2 1601.7,945.6 1603.5,945.8 1607.1,947.1 1616.2,948.6 1627.9,949.2 1648.7,949.5 1711.2,949.5"/>
<path d="M1277.6,949.5 1371.7,949.5 1372.6,948.8 1374.5,943.9 1376.3,936.6 1378.1,927.5 1379,920.4 1379.9,917.3 1380.8,914.4 1381.7,913.9 1384.4,902.1 1385.3,901.6 1386.2,900.3 1387.1,904.7 1388,902.1 1388.9,903.2 1389.8,899.2 1390.8,902.3 1391.7,902.2 1393.5,897.1 1395.3,903.8 1397.1,901.1 1398.9,903.8 1399.8,900.3 1400.7,904.1 1401.6,906.3 1402.5,904.7 1403.4,903.8 1404.3,903.9 1405.2,902.8 1407,895.6 1408,893.2 1409.8,890.5 1410.7,892.1 1411.6,892 1413.4,892.7 1414.3,892.3 1415.2,891.2 1416.1,891 1417,892.3 1417.9,892 1418.8,893.7 1419.7,889.9 1420.6,895 1421.5,890.8 1422.4,891.5 1423.3,893.4 1424.2,896.5 1425.2,893.9 1426.1,895 1427,892.1 1427.9,894.7 1428.8,893.3 1429.7,894.9 1430.6,893.9 1431.5,889.8 1432.4,888 1433.3,887 1434.2,886.7 1435.1,890.8 1436,897.7 1436.9,898 1437.8,898.8 1438.7,894.2 1439.6,892.9 1440.5,892.5 1441.4,896.6 1442.3,896.9 1443.3,894.7 1444.2,889.7 1445.1,891.2 1446,891.5 1446.9,889.6 1448.7,894.6 1449.6,899.1 1450.5,894.4 1451.4,895.2 1452.3,898.3 1453.2,898.6 1454.1,896.8 1455,895.7 1455.9,897.2 1456.8,896.1 1457.7,903.3 1458.6,903.4 1459.5,905.3 1460.5,901.5 1461.4,903.7 1462.3,903.8 1463.2,903.5 1464.1,906.3 1465,905.3 1466.8,900.7 1467.7,900.4 1468.6,902.3 1469.5,902.1 1470.4,907.2 1473.1,902 1474,898.8 1474.9,903.3 1475.8,901.8 1476.7,904.1 1477.7,902.7 1478.6,903.5 1479.5,906.3 1480.4,907.3 1481.3,907 1482.2,907.3 1483.1,906.6 1484,909.2 1484.9,909.2 1485.8,911.5 1486.7,910.8 1487.6,906.9 1488.5,907 1489.4,904 1492.1,907.1 1493,909.3 1494.9,905.7 1495.8,906.1 1496.7,908.4 1497.6,913.1 1498.5,911.5 1499.4,910.8 1501.2,916.1 1502.1,916.1 1503,916.5 1504.8,915.2 1505.7,916.5 1506.6,919.2 1507.5,918.5 1509.3,914.6 1510.2,913.6 1511.1,911.2 1512.1,914 1513,913.4 1514.8,911.1 1516.6,912.1 1517.5,911.1 1519.3,915 1520.2,912.9 1521.1,912 1522,911.9 1522.9,914.7 1524.7,917.5 1525.6,918.3 1527.4,918.3 1529.3,919.4 1530.2,919.6 1531.1,918.8 1532,918.8 1534.7,920.1 1535.6,916.6 1536.5,916.4 1537.4,917.2 1539.2,920.9 1540.1,920.8 1542.8,915.2 1543.7,916.9 1545.5,913.5 1546.5,914.5 1547.4,914 1548.3,917.6 1550.1,919.7 1551,918.9 1551.9,920.9 1552.8,920.4 1553.7,921.2 1554.6,918.8 1555.5,918.2 1556.4,919.4 1557.3,919.7 1558.2,922.7 1559.1,921.2 1560,922.5 1562.7,920.8 1563.6,922 1564.6,922.2 1566.4,920.9 1567.3,921.1 1568.2,921.7 1569.1,921.1 1570.9,924.8 1571.8,924.4 1572.7,924.8 1573.6,924.7 1574.5,925.1 1575.4,924.7 1576.3,926.7 1577.2,927 1579,922.9 1580.8,922.8 1583.6,929.3 1584.5,926.7 1585.4,925.5 1586.3,925.4 1588.1,927.7 1589,927.6 1590.8,925 1591.7,926.2 1592.6,926.8 1593.5,929.5 1597.1,936.3 1599.9,934.1 1600.8,936.5 1602.6,936.3 1605.3,938.3 1606.2,938 1608.9,938.9 1610.7,940 1612.5,940.3 1613.4,940.8 1614.3,942 1616.2,943.4 1618,944.5 1624.3,946.8 1627,947.1 1633.4,948.5 1642.4,949.1 1662.3,949.4 1711.2,949.5"/>
<path d="M1277.6,949.5 1379,949.5 1379.9,949 1381.7,944.1 1384.4,930.7 1387.1,921 1388,919.2 1388.9,918.9 1389.8,917.7 1390.8,917.4 1391.7,914.2 1392.6,913.6 1393.5,910.7 1394.4,909.7 1395.3,909.5 1396.2,912.2 1397.1,911.2 1398,913.9 1398.9,909.3 1399.8,914.7 1401.6,912.9 1402.5,909.9 1403.4,909.8 1405.2,912.9 1406.1,911.7 1407,913.4 1408,910.8 1408.9,910.6 1409.8,909.5 1412.5,914.2 1413.4,912.8 1416.1,912.9 1417,914.1 1418.8,913.9 1420.6,911.4 1421.5,911.2 1422.4,906.8 1423.3,907.1 1424.2,908.7 1425.2,907.2 1426.1,909.5 1427,908.2 1427.9,907.8 1428.8,906.4 1429.7,908.7 1430.6,912.6 1431.5,912.7 1433.3,912.3 1435.1,908.6 1436,909 1436.9,913.1 1437.8,914.5 1438.7,914.4 1439.6,911.4 1440.5,909.9 1441.4,909.4 1443.3,907.3 1444.2,908.4 1446,908.4 1446.9,908.7 1447.8,910.7 1448.7,910.2 1449.6,906.1 1450.5,905.2 1451.4,909.3 1452.3,910.6 1453.2,914.1 1454.1,913.7 1455,916.5 1455.9,913.9 1456.8,914.2 1457.7,916.8 1458.6,917.3 1459.5,914.6 1460.5,914.5 1461.4,915.3 1462.3,918 1463.2,918.7 1464.1,916.5 1465,917.2 1465.9,916.8 1466.8,918.9 1467.7,919.3 1468.6,919.1 1470.4,921.5 1471.3,921 1472.2,921.3 1474,915 1474.9,917.2 1476.7,917.2 1478.6,913.4 1480.4,914.4 1481.3,918.2 1482.2,919.3 1483.1,918.9 1484,917.2 1484.9,917.7 1485.8,915.6 1487.6,918.6 1488.5,918.4 1489.4,917.6 1490.3,919.4 1491.2,919.4 1492.1,920.8 1493,920.5 1493.9,923.7 1494.9,924.1 1495.8,923.4 1496.7,923.6 1499.4,922.1 1500.3,923.8 1503,924.9 1504.8,927.2 1506.6,921.1 1507.5,920.8 1509.3,923.4 1510.2,923.1 1513,923.3 1513.9,923.1 1514.8,926.4 1515.7,928 1516.6,927.9 1517.5,925.5 1519.3,926.1 1520.2,927.8 1521.1,924.8 1522,924.3 1523.8,926.6 1527.4,925.9 1530.2,930.2 1531.1,928.2 1532.9,928.2 1533.8,930.4 1534.7,931.2 1535.6,930.8 1536.5,929.8 1537.4,930.9 1538.3,930.8 1539.2,929.6 1540.1,929.1 1541,929.8 1542.8,932.8 1544.6,932.3 1545.5,930 1547.4,933.2 1548.3,934 1549.2,933.8 1550.1,934.5 1551,934.2 1552.8,934.2 1554.6,936.3 1555.5,935.8 1556.4,937.6 1558.2,939.1 1560.9,940.4 1561.8,941.4 1562.7,941.6 1563.6,942.7 1564.6,942.1 1570.9,945.7 1574.5,946.4 1577.2,947.4 1588.1,948.9 1602.6,949.4 1711.2,949.5"/>
<path d="M1277.6,949.5 1380.8,949.3 1381.7,946 1382.6,939.8 1386.2,908.8 1388,897.5 1388.9,897.1 1389.8,897.5 1390.8,896 1391.7,895.8 1392.6,893 1393.5,892.7 1394.4,893.7 1395.3,893.1 1396.2,894.5 1397.1,894.6 1398,896.3 1398.9,895.1 1399.8,896.3 1400.7,899.1 1401.6,900.8 1402.5,901.1 1403.4,905 1404.3,903.2 1405.2,905.1 1406.1,897.5 1407,901.4 1408,894.3 1408.9,895.4 1409.8,891 1410.7,892.9 1411.6,892.6 1412.5,885.3 1415.2,891.3 1416.1,891.2 1417,888.3 1417.9,890.4 1418.8,890.4 1419.7,887.4 1420.6,887.9 1421.5,886.7 1422.4,888.2 1424.2,877.1 1425.2,876.3 1427,884.3 1428.8,884.4 1429.7,886.9 1431.5,896.7 1432.4,897.3 1433.3,899 1434.2,896.2 1435.1,899.3 1436,899.5 1436.9,900.8 1437.8,898.8 1438.7,898.6 1439.6,901.4 1440.5,903 1441.4,901.7 1442.3,903.4 1443.3,899.2 1446,907 1446.9,905.5 1447.8,904.7 1448.7,907 1449.6,906.1 1450.5,909.3 1451.4,908.2 1452.3,909.7 1453.2,909.6 1455,911.2 1455.9,911.1 1456.8,907.8 1457.7,908.9 1458.6,905.9 1459.5,906.4 1460.5,908.1 1461.4,907.6 1462.3,909.6 1463.2,909.3 1464.1,908 1465,910.7 1465.9,910.1 1466.8,910.9 1467.7,911.1 1468.6,910 1469.5,910.3 1472.2,916 1473.1,912.6 1474,913.4 1474.9,913.2 1475.8,916.7 1476.7,916 1477.7,919.1 1478.6,918 1479.5,918.7 1480.4,917.5 1481.3,917.7 1482.2,919.9 1483.1,920.6 1484,922.3 1484.9,922.9 1486.7,920.6 1487.6,921.3 1488.5,921.3 1489.4,924.6 1490.3,921.3 1491.2,922.8 1493,919.5 1493.9,919.2 1494.9,916.9 1495.8,918.1 1496.7,917.9 1497.6,919 1499.4,922.7 1500.3,922.5 1501.2,923.1 1502.1,923 1503.9,925.7 1504.8,925.2 1505.7,927.3 1506.6,925.9 1508.4,925.2 1510.2,926.1 1511.1,927.4 1512.1,927.9 1513,928.2 1513.9,927.7 1514.8,929.1 1515.7,927.8 1517.5,923.7 1518.4,924.7 1519.3,924.9 1520.2,926.8 1521.1,927.7 1522,927.2 1522.9,925.6 1524.7,926.8 1525.6,926.3 1526.5,927.5 1529.3,925.3 1530.2,926.1 1532,925.6 1535.6,929.8 1536.5,929.8 1537.4,930.7 1538.3,930.6 1539.2,931.4 1540.1,931.5 1541,933 1541.9,933.3 1542.8,934.4 1544.6,937.2 1545.5,937.1 1547.4,935.1 1548.3,936.8 1549.2,936.5 1551,937.8 1555.5,942.6 1556.4,942.7 1559.1,943.9 1560.9,944 1563.6,945.7 1565.5,946 1568.2,947.2 1576.3,948.8 1590.8,949.4 1711.2,949.5"/>
<path d="M1277.6,949.5 1372.6,949.5 1373.6,948.7 1374.5,946.2 1375.4,942.1 1379.9,908.9 1380.8,906.3 1381.7,905 1383.5,898.4 1384.4,897.1 1385.3,897.2 1386.2,895.5 1387.1,896.8 1388,894.2 1388.9,889.8 1390.8,887.9 1391.7,888.8 1392.6,888.1 1394.4,885.8 1395.3,882.6 1397.1,886.6 1398,887.9 1398.9,883.2 1399.8,884.3 1400.7,891.1 1402.5,895 1403.4,892.1 1404.3,893.9 1406.1,893.9 1407,889.6 1408,889.6 1408.9,886.9 1409.8,891.9 1410.7,888.4 1411.6,886.5 1412.5,887.4 1413.4,890.8 1414.3,890.6 1415.2,891.9 1416.1,883.6 1417,887.1 1417.9,886.2 1418.8,890.2 1419.7,889 1420.6,886.5 1421.5,882.6 1422.4,884.1 1423.3,883.4 1424.2,885.8 1425.2,882.9 1426.1,887.2 1427,888.2 1427.9,891.2 1429.7,888.4 1431.5,884.3 1432.4,888.8 1433.3,891.2 1434.2,886.5 1435.1,887.9 1436,885.4 1436.9,889.1 1437.8,885.5 1438.7,884.4 1440.5,885.3 1441.4,885.3 1442.3,881.5 1443.3,882.8 1444.2,885.1 1445.1,893.5 1446,892.8 1446.9,890.9 1447.8,887.6 1448.7,888.1 1449.6,890.6 1450.5,891.6 1451.4,888.9 1452.3,891.9 1453.2,893 1454.1,895.1 1455.9,886.5 1458.6,896.8 1459.5,890.6 1460.5,888.8 1462.3,880.8 1463.2,883.5 1464.1,889.3 1465,883.6 1465.9,882 1466.8,877.5 1467.7,879.5 1468.6,879.7 1469.5,876 1470.4,875.3 1472.2,864.1 1475.8,885 1476.7,887.2 1477.7,885.7 1479.5,878.3 1483.1,887.5 1484,886.2 1484.9,880.7 1487.6,887.7 1488.5,885.3 1489.4,880.1 1490.3,881.2 1491.2,877.2 1492.1,876.8 1493,875.1 1493.9,871.9 1494.9,873.8 1495.8,877.3 1497.6,889.6 1498.5,885.6 1499.4,888.2 1501.2,884.5 1502.1,888.8 1503,887.7 1503.9,887.8 1504.8,884.7 1505.7,883.2 1506.6,884.7 1507.5,885 1508.4,884.4 1509.3,885.6 1511.1,885.8 1512.1,889.5 1513,888.6 1513.9,892.3 1514.8,889.8 1515.7,890 1516.6,893.3 1517.5,893.4 1518.4,897.6 1519.3,893.9 1520.2,894 1521.1,892.7 1522,893.8 1522.9,896.9 1524.7,890.4 1525.6,889.5 1526.5,890.9 1528.3,902.1 1529.3,900.7 1531.1,894.3 1532,895.3 1532.9,899.1 1534.7,901.2 1535.6,899 1536.5,898.6 1537.4,903.2 1538.3,903.2 1540.1,898 1542.8,896.8 1543.7,897.1 1545.5,900.9 1546.5,905.9 1547.4,904.6 1548.3,904.4 1549.2,906.7 1551,908.3 1551.9,907.4 1553.7,904.1 1554.6,900.6 1555.5,903.7 1556.4,902.9 1558.2,899.9 1559.1,902.7 1560,902.2 1560.9,904.2 1562.7,906.3 1563.6,906.2 1564.6,905.2 1565.5,906.1 1566.4,905.7 1567.3,904.6 1568.2,902.6 1569.1,904.4 1570,905.1 1570.9,908.1 1571.8,909.3 1572.7,913.2 1573.6,909.6 1574.5,911.7 1575.4,912.8 1576.3,917 1577.2,917.9 1578.1,919.9 1579,919.8 1579.9,917.9 1581.8,916.4 1583.6,917.8 1584.5,919.7 1585.4,923.2 1586.3,922.7 1587.2,926.5 1589,929.6 1590.8,934.4 1593.5,937.2 1594.4,939.6 1598,943.7 1599,944.2 1601.7,946.7 1605.3,948.3 1610.7,949.2 1620.7,949.5 1711.2,949.5"/>
<path d="M1277.6,949.5 1366.3,949.5 1367.2,949.3 1369,946.8 1370.8,941.6 1372.6,935.1 1373.6,934.4 1375.4,929.8 1376.3,928.5 1377.2,923.9 1378.1,921.1 1379,921.3 1379.9,924.5 1380.8,922.8 1381.7,922.4 1382.6,920 1383.5,921.9 1384.4,920.4 1385.3,922.6 1386.2,922.4 1387.1,921.6 1388,917.6 1388.9,917 1389.8,915.4 1391.7,915.4 1392.6,917.6 1393.5,918.8 1394.4,919.3 1395.3,917.2 1396.2,919.8 1397.1,920.4 1398,922.7 1398.9,921.1 1399.8,921.7 1400.7,920.3 1401.6,920.2 1403.4,919.1 1404.3,918.9 1405.2,920.4 1406.1,919.4 1407,920.8 1408,917.4 1409.8,916.5 1410.7,917.1 1411.6,916.6 1412.5,913.9 1413.4,914 1414.3,916 1415.2,915.7 1416.1,915.9 1417,915.4 1417.9,918.6 1418.8,918.6 1419.7,920.8 1420.6,919.6 1423.3,922.7 1425.2,916.2 1426.1,916.2 1427,917.4 1427.9,916.4 1428.8,916.5 1429.7,914 1431.5,911.5 1435.1,914.4 1436,915.9 1436.9,913.8 1437.8,915.3 1439.6,915.7 1440.5,915.7 1442.3,913.8 1443.3,914.4 1446,921.5 1446.9,920.4 1447.8,923.3 1448.7,923.8 1450.5,923 1453.2,915.3 1454.1,915.5 1455,916.2 1455.9,916 1456.8,911.9 1457.7,911.7 1458.6,910.4 1459.5,911.8 1460.5,911.1 1462.3,914.9 1463.2,916 1464.1,914.9 1465,916.4 1465.9,916.7 1466.8,918.1 1467.7,916 1468.6,919.3 1469.5,920.5 1470.4,920.2 1473.1,917.5 1474,915 1474.9,913.9 1475.8,915.7 1476.7,915.2 1477.7,915.8 1478.6,914.9 1479.5,913 1480.4,916.6 1482.2,920 1483.1,918.3 1484,918.5 1484.9,921.9 1486.7,921.5 1487.6,923.3 1488.5,922.9 1489.4,924.6 1490.3,922.1 1491.2,921.3 1493.9,912.9 1494.9,911.7 1495.8,912.4 1497.6,909.5 1498.5,909.9 1499.4,911.4 1500.3,912 1501.2,911.5 1502.1,911.5 1503,909.6 1503.9,909.1 1504.8,910 1505.7,913.4 1506.6,912.7 1507.5,914 1508.4,913.6 1509.3,916.2 1511.1,918.9 1512.1,918.3 1513,918.8 1513.9,918.1 1514.8,916.7 1515.7,918.3 1516.6,916 1517.5,917.1 1518.4,914.2 1519.3,914.2 1521.1,916.6 1522,919 1522.9,918.8 1523.8,917.9 1524.7,921.4 1525.6,921.8 1526.5,924.2 1527.4,922.6 1529.3,922.1 1530.2,923.5 1532,924.2 1532.9,923.3 1533.8,926 1534.7,925 1535.6,927.5 1536.5,927.6 1537.4,928.8 1539.2,927.6 1540.1,927.5 1541,928.5 1541.9,927.6 1542.8,929.3 1543.7,930.1 1544.6,930.3 1545.5,931.8 1546.5,932.2 1547.4,934.4 1548.3,935.6 1549.2,935.7 1550.1,937 1553.7,939.1 1554.6,938.8 1555.5,939.9 1559.1,942.2 1560.9,944.6 1563.6,946.3 1567.3,947.5 1569.1,947.7 1570.9,948.3 1579,949.2 1589.9,949.4 1711.2,949.5"/>
<path d="M1277.6,949.5 1368.1,949.4 1369,948.1 1369.9,945.7 1373.6,928.1 1375.4,922.3 1377.2,914.6 1379,910.5 1379.9,910.1 1381.7,904.5 1382.6,903.1 1383.5,900.5 1384.4,900.4 1385.3,901.9 1386.2,902.6 1387.1,905.3 1388,905.1 1388.9,907.3 1389.8,904.2 1390.8,903.6 1391.7,902.4 1392.6,903.3 1393.5,903 1394.4,903.7 1395.3,903.7 1396.2,904.6 1397.1,900.6 1398,899.7 1398.9,899.8 1399.8,897 1400.7,896.3 1401.6,893.5 1402.5,895.9 1403.4,895.3 1404.3,892.4 1405.2,892.9 1407,896.6 1408,901.4 1409.8,900 1410.7,897.8 1411.6,898.7 1412.5,902.3 1413.4,903 1414.3,901.6 1415.2,898.6 1416.1,899.2 1417,904 1417.9,906.8 1418.8,907 1419.7,905.1 1420.6,906.5 1421.5,903 1422.4,901.9 1423.3,899.7 1424.2,904.6 1426.1,908.7 1427.9,901.5 1428.8,896.1 1430.6,900.9 1431.5,901.2 1432.4,898.9 1434.2,889.2 1435.1,887.5 1436,889.4 1436.9,894.6 1437.8,895.5 1438.7,898.2 1439.6,902.7 1440.5,902.4 1441.4,903.7 1442.3,904.1 1443.3,904.4 1444.2,903 1445.1,902.6 1446,899.8 1446.9,900 1447.8,899.5 1448.7,901.9 1449.6,901.1 1450.5,901.1 1452.3,903.6 1453.2,903.3 1454.1,905.9 1455,903.5 1455.9,906.4 1456.8,906.7 1457.7,906.3 1458.6,908 1459.5,905.3 1460.5,906.7 1461.4,905.2 1462.3,907.7 1463.2,908.9 1464.1,908.5 1465,905.9 1465.9,906.8 1466.8,906.7 1467.7,909.3 1468.6,909.8 1469.5,909.4 1471.3,907.8 1472.2,907.6 1473.1,904.5 1474,906.5 1474.9,905.8 1475.8,910.1 1476.7,908.9 1478.6,914.8 1479.5,914.9 1480.4,912.4 1481.3,913.4 1483.1,919.2 1484.9,919.6 1485.8,918.9 1486.7,917.2 1487.6,917.3 1488.5,919 1489.4,919 1491.2,914.5 1492.1,914.4 1493,915.2 1493.9,917.3 1494.9,916.3 1495.8,916.2 1496.7,915.3 1497.6,919.3 1498.5,918.8 1499.4,921 1500.3,917.6 1502.1,920.5 1503,919.3 1503.9,919.5 1504.8,916.8 1505.7,918.2 1506.6,916.7 1507.5,916.1 1509.3,917.3 1510.2,919.1 1511.1,919.8 1512.1,921.1 1513,919.3 1513.9,919.6 1514.8,919.4 1515.7,921.9 1516.6,919.8 1517.5,920.8 1518.4,921.2 1519.3,920.3 1520.2,920.5 1521.1,920.2 1522,920.4 1522.9,918.1 1523.8,917.7 1524.7,920.7 1527.4,924.5 1529.3,923.9 1530.2,924.5 1531.1,926.2 1532,926.9 1534.7,925.8 1535.6,923.6 1536.5,925.5 1539.2,919.6 1540.1,920.7 1541,922.7 1541.9,922.2 1542.8,922.4 1543.7,923.3 1544.6,923.6 1545.5,924.8 1546.5,924.7 1547.4,926.5 1548.3,925.3 1549.2,925.3 1550.1,922.8 1551,922.8 1551.9,923.6 1553.7,922.1 1554.6,922.5 1559.1,928.5 1560,928.7 1562.7,932.7 1563.6,932.4 1564.6,932.7 1566.4,934.1 1569.1,938.8 1570,939 1570.9,939.6 1571.8,941.4 1573.6,942.3 1574.5,942.3 1575.4,943.4 1577.2,943.8 1580.8,946.1 1584.5,947.6 1594.4,949.1 1605.3,949.4 1711.2,949.5"/>
<path d="M1277.6,949.5 1377.2,949.4 1378.1,948.6 1379.9,944.8 1382.6,938.2 1383.5,935.2 1384.4,933.5 1386.2,928 1387.1,926.8 1388.9,927.5 1389.8,926 1390.8,923.2 1391.7,923.2 1392.6,918.5 1395.3,920 1397.1,915.8 1398,917 1399.8,916.6 1401.6,920.2 1402.5,918.8 1403.4,921.1 1404.3,921.2 1405.2,920.5 1406.1,918.7 1407,918.6 1408,920.9 1409.8,919.4 1410.7,921 1411.6,919.8 1412.5,922 1413.4,921.5 1414.3,920.3 1415.2,917.5 1416.1,917.5 1418.8,911.6 1419.7,912.2 1420.6,914.1 1421.5,913.8 1422.4,915.9 1423.3,916.3 1424.2,914.7 1425.2,914.5 1426.1,916.2 1427,915.9 1427.9,914.8 1428.8,912.4 1429.7,914.5 1430.6,914.7 1431.5,914.4 1433.3,915.9 1434.2,915.3 1435.1,915.3 1436.9,916.7 1437.8,916 1438.7,914.7 1440.5,913.6 1441.4,912.6 1442.3,913.6 1443.3,915.6 1445.1,916.9 1446.9,917.8 1447.8,918.7 1448.7,918.1 1449.6,918.7 1450.5,915.8 1451.4,918.6 1452.3,918.1 1453.2,918.4 1455,915.7 1455.9,917.3 1456.8,915 1457.7,917.2 1458.6,918.4 1459.5,918 1460.5,918.1 1461.4,917 1463.2,915.8 1464.1,919.4 1465.9,923.3 1466.8,921 1468.6,921.9 1469.5,921.1 1470.4,921.6 1471.3,923.7 1472.2,924.2 1473.1,923 1474.9,918.2 1475.8,920.5 1476.7,919.3 1477.7,920.8 1478.6,920.7 1480.4,918 1481.3,918 1483.1,920.8 1484,919.9 1484.9,919.5 1485.8,918.5 1486.7,918.4 1488.5,920.4 1489.4,920.3 1490.3,922.3 1491.2,922.5 1492.1,923.7 1493,924 1494.9,924.2 1495.8,923 1497.6,925 1498.5,924.9 1500.3,927.2 1502.1,925.1 1503,924.8 1503.9,925.5 1504.8,927.3 1505.7,927.8 1506.6,928.9 1507.5,929.2 1508.4,928 1509.3,928 1511.1,929.8 1512.1,929.3 1513,929.3 1513.9,928.4 1514.8,929.5 1515.7,929.7 1518.4,931.7 1519.3,931 1520.2,929.1 1522,929.3 1522.9,930.5 1524.7,929.2 1525.6,930.5 1527.4,931.5 1528.3,931.3 1529.3,931.5 1530.2,932.7 1532,932.9 1532.9,933.6 1533.8,933.3 1534.7,932 1535.6,932.5 1538.3,931.9 1540.1,932.2 1542.8,933.6 1544.6,932.9 1547.4,933.8 1549.2,932 1550.1,932.1 1551,933.4 1551.9,933.9 1552.8,933 1553.7,934.5 1554.6,935.1 1555.5,935.2 1556.4,936.3 1558.2,936.5 1559.1,936 1560,936.4 1560.9,937.9 1561.8,937.2 1562.7,937.6 1563.6,938.7 1564.6,938.6 1565.5,937.4 1567.3,937.4 1568.2,937.7 1569.1,937.2 1570,937.5 1570.9,938.1 1571.8,938.2 1572.7,939.1 1575.4,940.8 1576.3,940.9 1579.9,944 1581.8,945 1589,947.8 1593.5,948.6 1600.8,949.2 1614.3,949.5 1711.2,949.5"/>
</g>
<path d="M1277.6,949.5 1354.5,949.5 1355.4,949.3 1356.4,947.1 1357.3,943.7 1358.2,939.2 1360,924.4 1361.8,903.9 1363.6,880.2 1364.5,863.9 1367.2,804.8 1369,778.8 1369.9,770.6 1371.7,761.5 1372.6,755.9 1373.6,753.1 1374.5,754.1 1375.4,756.5 1376.3,760.4 1377.2,760.4 1378.1,763 1379,763.8 1380.8,774.8 1381.7,778.3 1382.6,775.8 1383.5,776.3 1385.3,768.7 1386.2,756.7 1388,744.9 1388.9,741.1 1389.8,735.3 1390.8,732.5 1391.7,728.4 1392.6,725.9 1393.5,727 1395.3,734.7 1396.2,737.4 1397.1,742 1398,745.4 1398.9,745.7 1400.7,745 1401.6,746.7 1402.5,751.1 1403.4,760.5 1407,789.3 1408,793.6 1408.9,796 1409.8,795.9 1410.7,794.8 1411.6,794.3 1412.5,794.3 1414.3,790.9 1415.2,791.1 1417,794.1 1417.9,793.9 1418.8,795.5 1419.7,797.7 1420.6,801.3 1421.5,798.9 1422.4,797.2 1423.3,789.8 1425.2,779.3 1426.1,778.5 1427.9,781.4 1431.5,802.6 1432.4,805.9 1433.3,810.9 1434.2,813.1 1435.1,813.6 1436,807.2 1436.9,802.3 1437.8,800.8 1438.7,802.1 1439.6,802.8 1440.5,805.8 1442.3,819.2 1443.3,823.4 1444.2,825 1446.9,832.2 1448.7,839.5 1449.6,842.1 1450.5,841.3 1451.4,838.4 1452.3,832.8 1453.2,829.6 1454.1,827 1455,827.1 1455.9,824.3 1458.6,830.1 1459.5,829.7 1460.5,830 1461.4,829.5 1462.3,828.7 1463.2,826.3 1465,826.7 1466.8,832.6 1467.7,833.4 1469.5,837.4 1470.4,841.4 1473.1,849.9 1474,854 1475.8,857.1 1476.7,856.7 1477.7,855.4 1478.6,855.4 1479.5,856.1 1480.4,857.3 1482.2,858 1483.1,857.5 1484,855.9 1484.9,853.3 1485.8,853 1486.7,851.2 1487.6,850.1 1488.5,848.1 1489.4,848.8 1490.3,848.8 1491.2,849.9 1493,851.2 1494.9,856.7 1495.8,861.4 1496.7,863.1 1498.5,865.2 1499.4,864.3 1500.3,864.2 1501.2,861 1503,857.4 1504.8,861.5 1505.7,865.6 1506.6,866.2 1508.4,868.2 1510.2,871.9 1511.1,871.6 1512.1,872.4 1513,871.5 1513.9,872 1514.8,871.3 1515.7,872.2 1516.6,872 1517.5,872.4 1519.3,869.8 1520.2,869.8 1521.1,870.3 1522,870 1522.9,869 1523.8,868.8 1524.7,869.7 1525.6,869.9 1526.5,871 1527.4,870.8 1528.3,872.3 1529.3,871.5 1530.2,871.8 1531.1,871.4 1532,873.2 1532.9,874.1 1533.8,874.4 1535.6,872 1536.5,873.9 1537.4,874.7 1538.3,876.7 1539.2,876.6 1540.1,879 1541,882.5 1541.9,883.8 1542.8,884.6 1543.7,884.3 1544.6,886.4 1545.5,886.8 1546.5,887.5 1547.4,885.5 1548.3,885.8 1549.2,884 1550.1,884.1 1551,883.1 1551.9,884.7 1552.8,882.7 1553.7,882.2 1554.6,881.1 1555.5,882.8 1557.3,890.1 1559.1,898.9 1560,904.1 1562.7,923.7 1563.6,929.1 1566.4,943.4 1567.3,946.7 1568.2,948.4 1570,949.3 1570.9,949.5 1711.2,949.5" fill="none" stroke="#000" stroke-width="7.5" stroke-linecap="butt" stroke-linejoin="round" clip-path="url(#cpe)"/>
<path d="M1277.6,949.5 1369.4,949.5 1369.9,916.8 1613.9,866.6 1618.9,871.5 1619.4,949.5 1711.2,949.5" fill="none" stroke="#a00000" stroke-width="5.6" stroke-dasharray="20.7 9" stroke-linecap="butt" stroke-linejoin="round" clip-path="url(#cpe)"/>
<path d="M1277.6,949.5 1372.2,949.5 1372.8,917.9 1570.5,866.1 1571.2,949.5 1711.2,949.5" fill="none" stroke="#bf0000" stroke-width="5.6" stroke-opacity="0.8" stroke-linecap="square" stroke-linejoin="round" clip-path="url(#cpe)"/>
<text x="1295" y="568" font-size="25" text-anchor="start" stroke="#000" stroke-width="0.35">Δ<tspan font-style="italic" dx="0.20">t</tspan> <tspan dx="-2.80">=</tspan> <tspan dx="-2.55">15</tspan> <tspan dx="-2.45">ns</tspan></text>
<text x="1169.3" y="571.2" font-size="29" text-anchor="start" stroke="#000" stroke-width="0.35" font-weight="bold">e</text>
<rect x="1480.7" y="542.9" width="242.4" height="107.9" fill="#fff" stroke="#d4d4d4" stroke-width="3.7"/>
<path d="M1488.6,561.9H1528.6" stroke="#bf0000" stroke-width="5.6" stroke-linecap="square" stroke-opacity="0.8"/>
<path d="M1488.6,597.3H1528.6" stroke="#a00000" stroke-width="5.6" stroke-dasharray="20.7 9"/>
<path d="M1488.6,631.2H1528.6" stroke="#000" stroke-width="7.5" stroke-linecap="square"/>
<text x="1545" y="567.7" font-size="20" text-anchor="start" stroke="#000" stroke-width="0.35">sim. high <tspan font-style="italic">E</tspan><tspan font-size="14" dy="3.20">B</tspan><tspan dy="-3.20">, 2</tspan><tspan font-style="italic">B</tspan><tspan font-size="14" dy="3.20">0</tspan></text>
<text x="1545" y="602.8" font-size="20" text-anchor="start" stroke="#000" stroke-width="0.35">sim. high <tspan font-style="italic">E</tspan><tspan font-size="14" dy="3.20">B</tspan><tspan dy="-3.20">, </tspan><tspan font-style="italic">B</tspan><tspan font-size="14" dy="3.20">0</tspan></text>
<text x="1545" y="638.4" font-size="20" text-anchor="start" stroke="#000" stroke-width="0.35">data</text>
</svg>
</body></html>
